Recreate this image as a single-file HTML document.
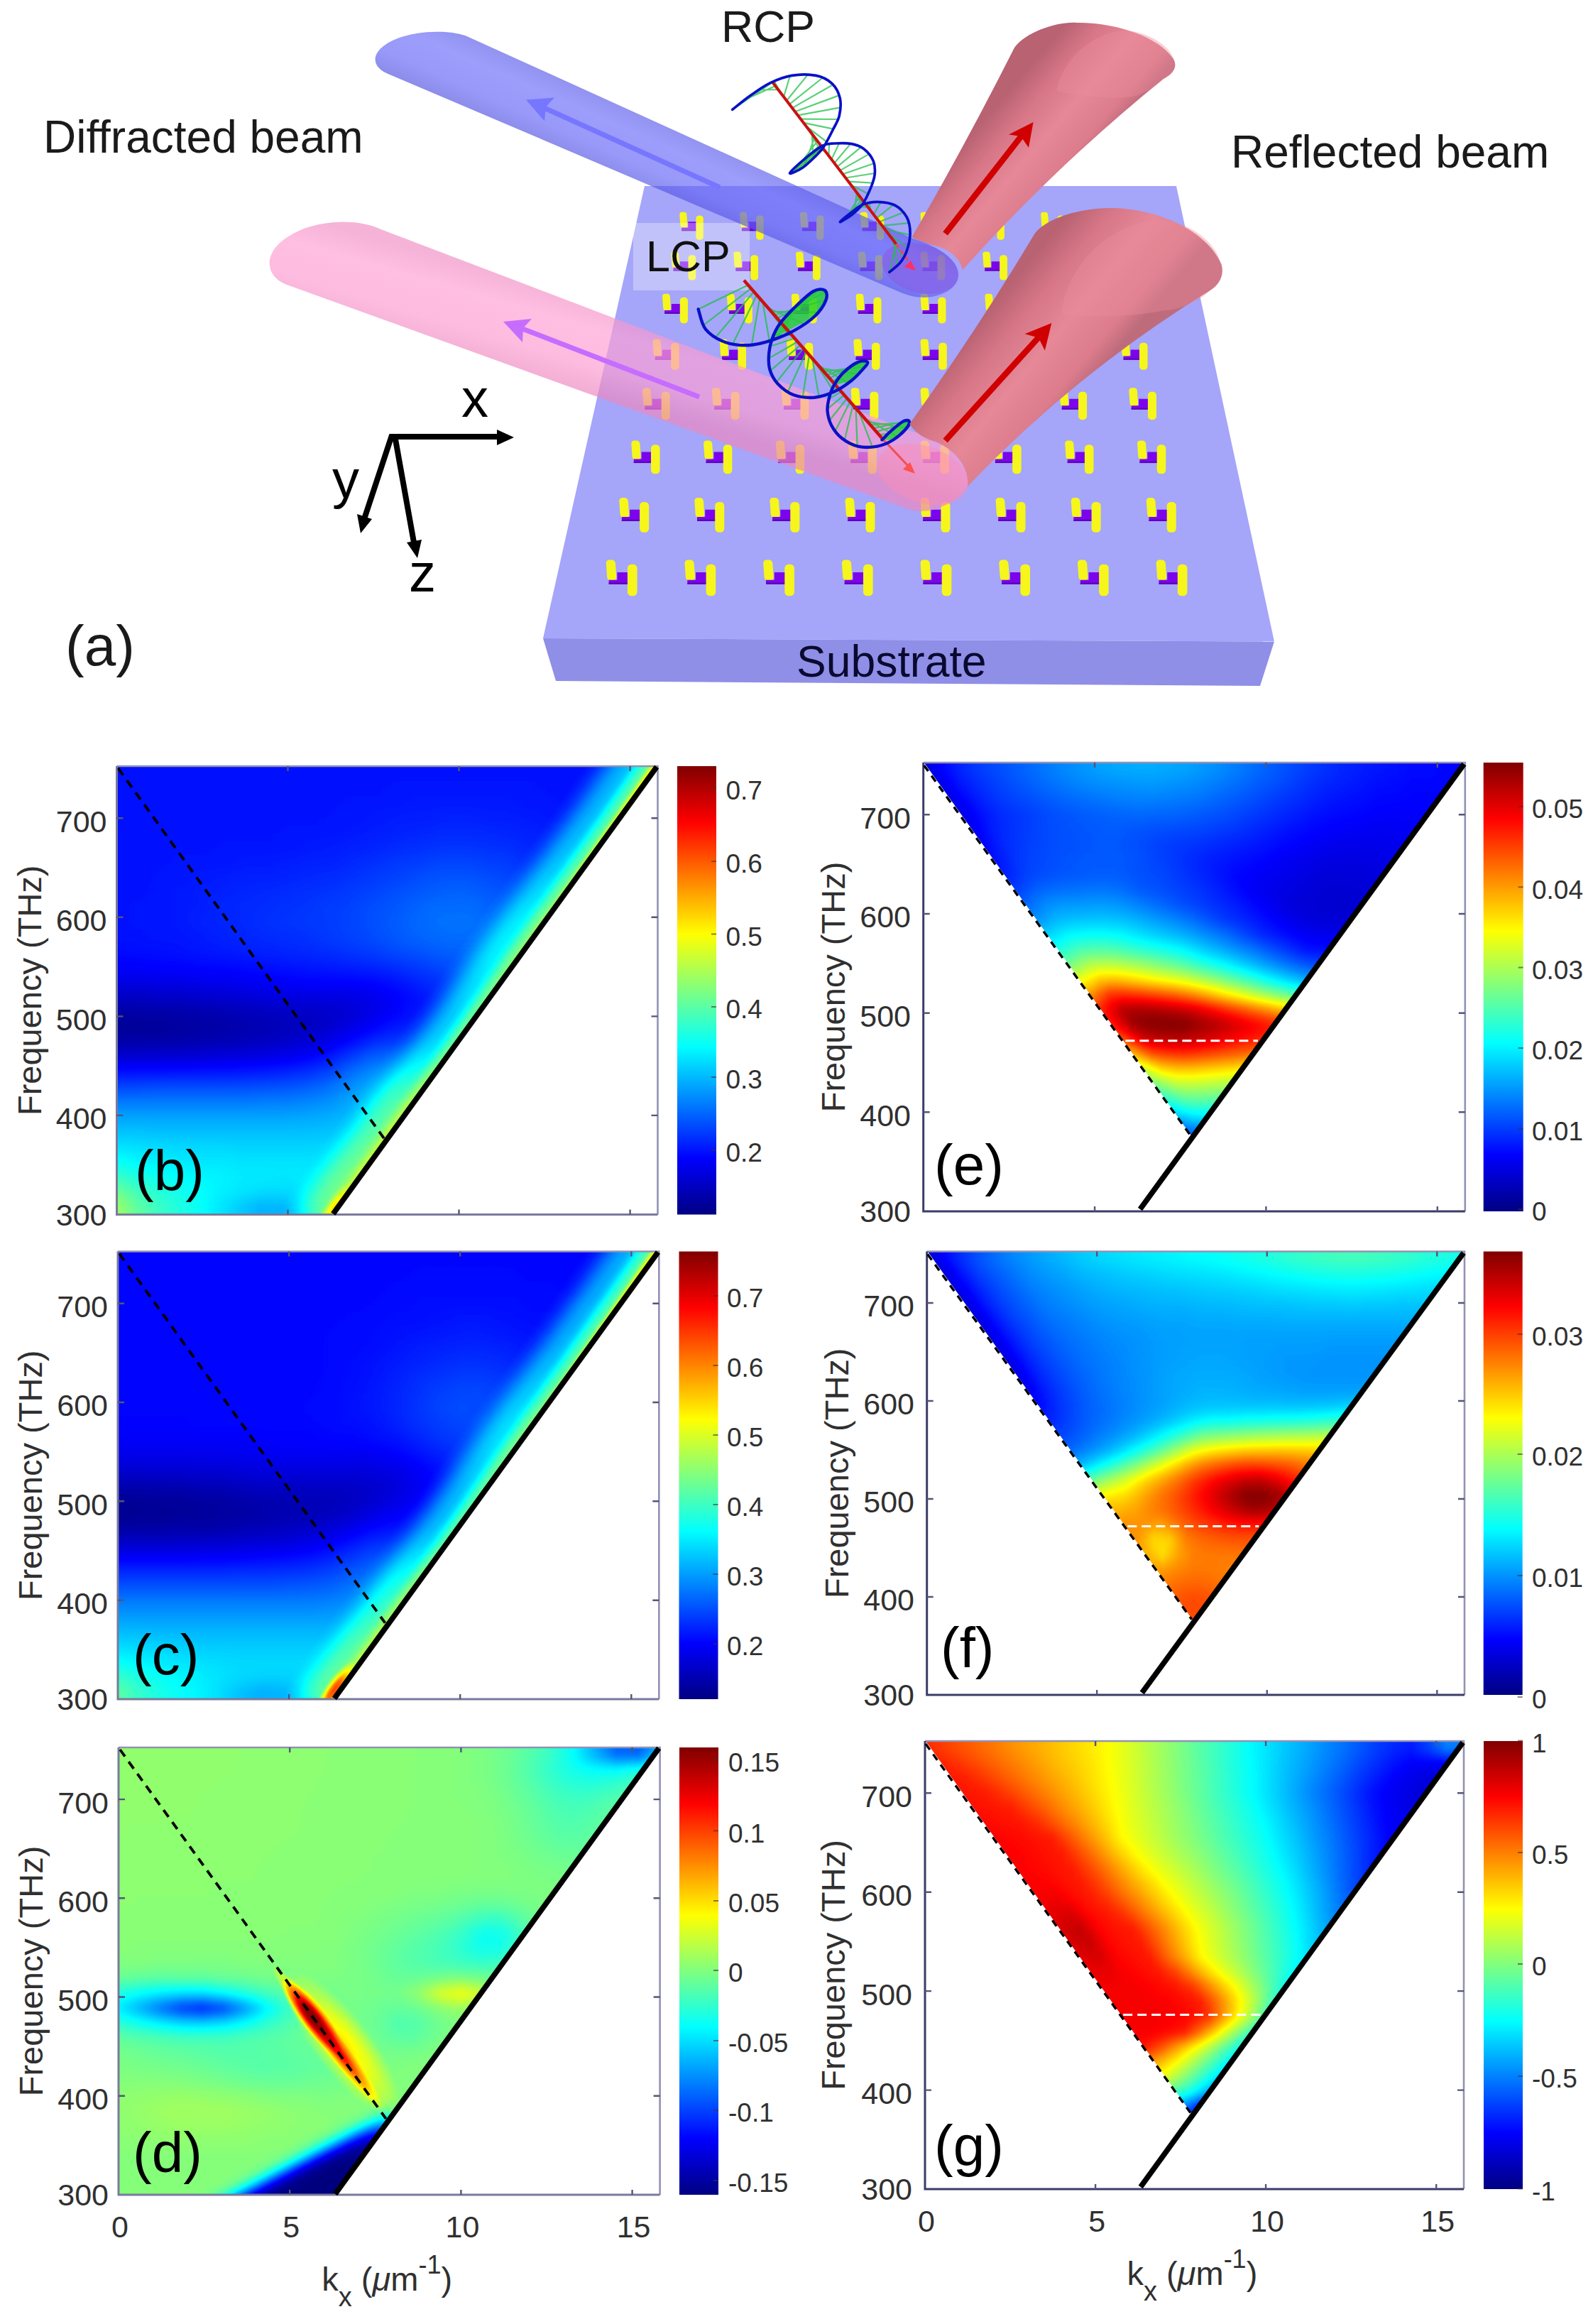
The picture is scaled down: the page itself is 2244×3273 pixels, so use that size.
<!DOCTYPE html>
<html><head><meta charset="utf-8"><title>Figure</title>
<style>html,body{margin:0;padding:0;background:#fff}svg{display:block}text{font-family:"Liberation Sans",sans-serif}</style>
</head><body>
<svg width="2244" height="3273" viewBox="0 0 2244 3273">
<defs>
<filter id="jet" x="0" y="0" width="1" height="1" color-interpolation-filters="sRGB"><feComponentTransfer><feFuncR type="table" tableValues="0 0 0 0 .5 1 1 1 .5"/><feFuncG type="table" tableValues="0 0 .5 1 1 1 .5 0 0"/><feFuncB type="table" tableValues=".5 1 1 1 .5 0 0 0 0"/></feComponentTransfer></filter>
<filter id="bv" x="0" y="0" width="1" height="1" color-interpolation-filters="sRGB"><feGaussianBlur stdDeviation="0 9"/></filter>
<filter id="b3" x="-0.1" y="-0.1" width="1.2" height="1.2" color-interpolation-filters="sRGB"><feGaussianBlur stdDeviation="3"/></filter>
<filter id="b7" x="-0.3" y="-0.3" width="1.6" height="1.6" color-interpolation-filters="sRGB"><feGaussianBlur stdDeviation="7"/></filter>
<filter id="b14" x="-0.3" y="-0.3" width="1.6" height="1.6" color-interpolation-filters="sRGB"><feGaussianBlur stdDeviation="14"/></filter>
<linearGradient id="cb" x1="0" y1="1" x2="0" y2="0"><stop offset="0" stop-color="#000083"/><stop offset=".125" stop-color="#0000ff"/><stop offset=".375" stop-color="#00ffff"/><stop offset=".625" stop-color="#ffff00"/><stop offset=".875" stop-color="#ff0000"/><stop offset="1" stop-color="#800000"/></linearGradient>
<radialGradient id="st1"><stop offset="0" stop-color="#fff"/><stop offset=".3" stop-color="#fff" stop-opacity=".85"/><stop offset=".6" stop-color="#fff" stop-opacity=".42"/><stop offset="1" stop-color="#fff" stop-opacity="0"/></radialGradient><radialGradient id="st2"><stop offset="0" stop-color="#fff" stop-opacity=".34"/><stop offset=".5" stop-color="#fff" stop-opacity=".2"/><stop offset="1" stop-color="#fff" stop-opacity="0"/></radialGradient>
<linearGradient id="wg" gradientUnits="userSpaceOnUse" x1="0" y1="2972.7" x2="0" y2="3091.0"><stop offset="0" stop-color="#000" stop-opacity=".3"/><stop offset=".3" stop-color="#000" stop-opacity=".9"/><stop offset=".55" stop-color="#000" stop-opacity="1"/></linearGradient><filter id="b16" x="-0.3" y="-0.3" width="1.6" height="1.6" color-interpolation-filters="sRGB"><feGaussianBlur stdDeviation="12"/></filter>
<linearGradient id="g1" gradientUnits="userSpaceOnUse" x1="164.5" x2="926.5"><stop offset="0" stop-color="#242424"/><stop offset="0.04" stop-color="#242424"/><stop offset="0.08" stop-color="#242424"/><stop offset="0.12" stop-color="#242424"/><stop offset="0.16" stop-color="#242424"/><stop offset="0.2" stop-color="#242424"/><stop offset="0.24" stop-color="#242424"/><stop offset="0.28" stop-color="#242424"/><stop offset="0.32" stop-color="#242424"/><stop offset="0.36" stop-color="#242424"/><stop offset="0.4" stop-color="#242424"/><stop offset="0.44" stop-color="#242424"/><stop offset="0.48" stop-color="#242424"/><stop offset="0.52" stop-color="#242424"/><stop offset="0.56" stop-color="#242424"/><stop offset="0.6" stop-color="#242424"/><stop offset="0.64" stop-color="#242424"/><stop offset="0.68" stop-color="#242424"/><stop offset="0.72" stop-color="#242424"/><stop offset="0.76" stop-color="#242424"/><stop offset="0.8" stop-color="#242424"/><stop offset="0.84" stop-color="#242424"/><stop offset="0.88" stop-color="#242424"/><stop offset="0.92" stop-color="#242424"/><stop offset="0.96" stop-color="#242424"/><stop offset="1" stop-color="#242424"/></linearGradient>
<linearGradient id="g2" gradientUnits="userSpaceOnUse" x1="164.5" x2="926.5"><stop offset="0" stop-color="#242424"/><stop offset="0.04" stop-color="#242424"/><stop offset="0.08" stop-color="#242424"/><stop offset="0.12" stop-color="#242424"/><stop offset="0.16" stop-color="#242424"/><stop offset="0.2" stop-color="#242424"/><stop offset="0.24" stop-color="#242424"/><stop offset="0.28" stop-color="#242424"/><stop offset="0.32" stop-color="#242424"/><stop offset="0.36" stop-color="#242424"/><stop offset="0.4" stop-color="#242424"/><stop offset="0.44" stop-color="#242424"/><stop offset="0.48" stop-color="#242424"/><stop offset="0.52" stop-color="#242424"/><stop offset="0.56" stop-color="#242424"/><stop offset="0.6" stop-color="#242424"/><stop offset="0.64" stop-color="#242424"/><stop offset="0.68" stop-color="#242424"/><stop offset="0.72" stop-color="#242424"/><stop offset="0.76" stop-color="#242424"/><stop offset="0.8" stop-color="#242424"/><stop offset="0.84" stop-color="#242424"/><stop offset="0.88" stop-color="#242424"/><stop offset="0.92" stop-color="#242424"/><stop offset="0.96" stop-color="#242424"/><stop offset="1" stop-color="#242424"/></linearGradient>
<linearGradient id="g3" gradientUnits="userSpaceOnUse" x1="164.5" x2="926.5"><stop offset="0" stop-color="#242424"/><stop offset="0.04" stop-color="#242424"/><stop offset="0.08" stop-color="#242424"/><stop offset="0.12" stop-color="#242424"/><stop offset="0.16" stop-color="#242424"/><stop offset="0.2" stop-color="#242424"/><stop offset="0.24" stop-color="#242424"/><stop offset="0.28" stop-color="#242424"/><stop offset="0.32" stop-color="#242424"/><stop offset="0.36" stop-color="#242424"/><stop offset="0.4" stop-color="#242424"/><stop offset="0.44" stop-color="#242424"/><stop offset="0.48" stop-color="#242424"/><stop offset="0.52" stop-color="#242424"/><stop offset="0.56" stop-color="#242424"/><stop offset="0.6" stop-color="#242424"/><stop offset="0.64" stop-color="#242424"/><stop offset="0.68" stop-color="#242424"/><stop offset="0.72" stop-color="#242424"/><stop offset="0.76" stop-color="#242424"/><stop offset="0.8" stop-color="#242424"/><stop offset="0.84" stop-color="#242424"/><stop offset="0.88" stop-color="#242424"/><stop offset="0.92" stop-color="#242424"/><stop offset="0.96" stop-color="#242424"/><stop offset="1" stop-color="#242424"/></linearGradient>
<linearGradient id="g4" gradientUnits="userSpaceOnUse" x1="164.5" x2="926.5"><stop offset="0" stop-color="#242424"/><stop offset="0.04" stop-color="#242424"/><stop offset="0.08" stop-color="#242424"/><stop offset="0.12" stop-color="#242424"/><stop offset="0.16" stop-color="#242424"/><stop offset="0.2" stop-color="#242424"/><stop offset="0.24" stop-color="#242424"/><stop offset="0.28" stop-color="#242424"/><stop offset="0.32" stop-color="#242424"/><stop offset="0.36" stop-color="#242424"/><stop offset="0.4" stop-color="#242424"/><stop offset="0.44" stop-color="#242424"/><stop offset="0.48" stop-color="#242424"/><stop offset="0.52" stop-color="#252525"/><stop offset="0.56" stop-color="#252525"/><stop offset="0.6" stop-color="#252525"/><stop offset="0.64" stop-color="#252525"/><stop offset="0.68" stop-color="#252525"/><stop offset="0.72" stop-color="#252525"/><stop offset="0.76" stop-color="#252525"/><stop offset="0.8" stop-color="#242424"/><stop offset="0.84" stop-color="#242424"/><stop offset="0.88" stop-color="#242424"/><stop offset="0.92" stop-color="#242424"/><stop offset="0.96" stop-color="#242424"/><stop offset="1" stop-color="#242424"/></linearGradient>
<linearGradient id="g5" gradientUnits="userSpaceOnUse" x1="164.5" x2="922.6"><stop offset="0" stop-color="#242424"/><stop offset="0.04" stop-color="#242424"/><stop offset="0.08" stop-color="#242424"/><stop offset="0.12" stop-color="#242424"/><stop offset="0.16" stop-color="#242424"/><stop offset="0.2" stop-color="#242424"/><stop offset="0.24" stop-color="#242424"/><stop offset="0.28" stop-color="#242424"/><stop offset="0.32" stop-color="#242424"/><stop offset="0.36" stop-color="#242424"/><stop offset="0.4" stop-color="#242424"/><stop offset="0.44" stop-color="#252525"/><stop offset="0.48" stop-color="#252525"/><stop offset="0.52" stop-color="#252525"/><stop offset="0.56" stop-color="#262626"/><stop offset="0.6" stop-color="#262626"/><stop offset="0.64" stop-color="#262626"/><stop offset="0.68" stop-color="#262626"/><stop offset="0.72" stop-color="#262626"/><stop offset="0.76" stop-color="#252525"/><stop offset="0.8" stop-color="#252525"/><stop offset="0.84" stop-color="#242424"/><stop offset="0.88" stop-color="#242424"/><stop offset="0.92" stop-color="#242424"/><stop offset="0.96" stop-color="#242424"/><stop offset="1" stop-color="#242424"/></linearGradient>
<linearGradient id="g6" gradientUnits="userSpaceOnUse" x1="164.5" x2="907.4"><stop offset="0" stop-color="#242424"/><stop offset="0.042" stop-color="#242424"/><stop offset="0.083" stop-color="#242424"/><stop offset="0.125" stop-color="#242424"/><stop offset="0.167" stop-color="#242424"/><stop offset="0.208" stop-color="#242424"/><stop offset="0.25" stop-color="#242424"/><stop offset="0.292" stop-color="#242424"/><stop offset="0.333" stop-color="#242424"/><stop offset="0.375" stop-color="#242424"/><stop offset="0.417" stop-color="#252525"/><stop offset="0.458" stop-color="#252525"/><stop offset="0.5" stop-color="#262626"/><stop offset="0.542" stop-color="#272727"/><stop offset="0.583" stop-color="#272727"/><stop offset="0.625" stop-color="#282828"/><stop offset="0.667" stop-color="#282828"/><stop offset="0.708" stop-color="#272727"/><stop offset="0.75" stop-color="#272727"/><stop offset="0.792" stop-color="#262626"/><stop offset="0.833" stop-color="#252525"/><stop offset="0.875" stop-color="#252525"/><stop offset="0.917" stop-color="#242424"/><stop offset="0.958" stop-color="#242424"/><stop offset="1" stop-color="#242424"/></linearGradient>
<linearGradient id="g7" gradientUnits="userSpaceOnUse" x1="164.5" x2="892.2"><stop offset="0" stop-color="#242424"/><stop offset="0.042" stop-color="#242424"/><stop offset="0.083" stop-color="#242424"/><stop offset="0.125" stop-color="#242424"/><stop offset="0.167" stop-color="#242424"/><stop offset="0.208" stop-color="#242424"/><stop offset="0.25" stop-color="#242424"/><stop offset="0.292" stop-color="#242424"/><stop offset="0.333" stop-color="#252525"/><stop offset="0.375" stop-color="#252525"/><stop offset="0.417" stop-color="#252525"/><stop offset="0.458" stop-color="#262626"/><stop offset="0.5" stop-color="#272727"/><stop offset="0.542" stop-color="#282828"/><stop offset="0.583" stop-color="#292929"/><stop offset="0.625" stop-color="#2a2a2a"/><stop offset="0.667" stop-color="#2a2a2a"/><stop offset="0.708" stop-color="#2a2a2a"/><stop offset="0.75" stop-color="#292929"/><stop offset="0.792" stop-color="#282828"/><stop offset="0.833" stop-color="#272727"/><stop offset="0.875" stop-color="#262626"/><stop offset="0.917" stop-color="#252525"/><stop offset="0.958" stop-color="#242424"/><stop offset="1" stop-color="#242424"/></linearGradient>
<linearGradient id="g8" gradientUnits="userSpaceOnUse" x1="164.5" x2="876.9"><stop offset="0" stop-color="#242424"/><stop offset="0.043" stop-color="#242424"/><stop offset="0.087" stop-color="#242424"/><stop offset="0.13" stop-color="#242424"/><stop offset="0.174" stop-color="#242424"/><stop offset="0.217" stop-color="#252525"/><stop offset="0.261" stop-color="#252525"/><stop offset="0.304" stop-color="#252525"/><stop offset="0.348" stop-color="#252525"/><stop offset="0.391" stop-color="#262626"/><stop offset="0.435" stop-color="#272727"/><stop offset="0.478" stop-color="#282828"/><stop offset="0.522" stop-color="#292929"/><stop offset="0.565" stop-color="#2b2b2b"/><stop offset="0.609" stop-color="#2c2c2c"/><stop offset="0.652" stop-color="#2d2d2d"/><stop offset="0.696" stop-color="#2d2d2d"/><stop offset="0.739" stop-color="#2c2c2c"/><stop offset="0.783" stop-color="#2b2b2b"/><stop offset="0.826" stop-color="#292929"/><stop offset="0.87" stop-color="#282828"/><stop offset="0.913" stop-color="#262626"/><stop offset="0.957" stop-color="#252525"/><stop offset="1" stop-color="#242424"/></linearGradient>
<linearGradient id="g9" gradientUnits="userSpaceOnUse" x1="164.5" x2="861.7"><stop offset="0" stop-color="#242424"/><stop offset="0.043" stop-color="#242424"/><stop offset="0.087" stop-color="#242424"/><stop offset="0.13" stop-color="#252525"/><stop offset="0.174" stop-color="#252525"/><stop offset="0.217" stop-color="#252525"/><stop offset="0.261" stop-color="#262626"/><stop offset="0.304" stop-color="#262626"/><stop offset="0.348" stop-color="#272727"/><stop offset="0.391" stop-color="#282828"/><stop offset="0.435" stop-color="#282828"/><stop offset="0.478" stop-color="#2a2a2a"/><stop offset="0.522" stop-color="#2c2c2c"/><stop offset="0.565" stop-color="#2e2e2e"/><stop offset="0.609" stop-color="#2f2f2f"/><stop offset="0.652" stop-color="#313131"/><stop offset="0.696" stop-color="#313131"/><stop offset="0.739" stop-color="#303030"/><stop offset="0.783" stop-color="#2f2f2f"/><stop offset="0.826" stop-color="#2c2c2c"/><stop offset="0.87" stop-color="#2a2a2a"/><stop offset="0.913" stop-color="#282828"/><stop offset="0.957" stop-color="#262626"/><stop offset="1" stop-color="#252525"/></linearGradient>
<linearGradient id="g10" gradientUnits="userSpaceOnUse" x1="164.5" x2="846.5"><stop offset="0" stop-color="#242424"/><stop offset="0.045" stop-color="#242424"/><stop offset="0.091" stop-color="#252525"/><stop offset="0.136" stop-color="#252525"/><stop offset="0.182" stop-color="#262626"/><stop offset="0.227" stop-color="#272727"/><stop offset="0.273" stop-color="#282828"/><stop offset="0.318" stop-color="#282828"/><stop offset="0.364" stop-color="#292929"/><stop offset="0.409" stop-color="#2a2a2a"/><stop offset="0.455" stop-color="#2b2b2b"/><stop offset="0.5" stop-color="#2d2d2d"/><stop offset="0.545" stop-color="#2f2f2f"/><stop offset="0.591" stop-color="#313131"/><stop offset="0.636" stop-color="#343434"/><stop offset="0.682" stop-color="#353535"/><stop offset="0.727" stop-color="#353535"/><stop offset="0.773" stop-color="#333333"/><stop offset="0.818" stop-color="#313131"/><stop offset="0.864" stop-color="#2e2e2e"/><stop offset="0.909" stop-color="#2b2b2b"/><stop offset="0.955" stop-color="#282828"/><stop offset="1" stop-color="#262626"/></linearGradient>
<linearGradient id="g11" gradientUnits="userSpaceOnUse" x1="164.5" x2="831.3"><stop offset="0" stop-color="#242424"/><stop offset="0.045" stop-color="#242424"/><stop offset="0.091" stop-color="#252525"/><stop offset="0.136" stop-color="#262626"/><stop offset="0.182" stop-color="#272727"/><stop offset="0.227" stop-color="#282828"/><stop offset="0.273" stop-color="#292929"/><stop offset="0.318" stop-color="#2a2a2a"/><stop offset="0.364" stop-color="#2b2b2b"/><stop offset="0.409" stop-color="#2c2c2c"/><stop offset="0.455" stop-color="#2d2d2d"/><stop offset="0.5" stop-color="#2f2f2f"/><stop offset="0.545" stop-color="#313131"/><stop offset="0.591" stop-color="#343434"/><stop offset="0.636" stop-color="#363636"/><stop offset="0.682" stop-color="#383838"/><stop offset="0.727" stop-color="#393939"/><stop offset="0.773" stop-color="#373737"/><stop offset="0.818" stop-color="#353535"/><stop offset="0.864" stop-color="#313131"/><stop offset="0.909" stop-color="#2e2e2e"/><stop offset="0.955" stop-color="#2a2a2a"/><stop offset="1" stop-color="#282828"/></linearGradient>
<linearGradient id="g12" gradientUnits="userSpaceOnUse" x1="164.5" x2="816.0"><stop offset="0" stop-color="#242424"/><stop offset="0.045" stop-color="#252525"/><stop offset="0.091" stop-color="#252525"/><stop offset="0.136" stop-color="#262626"/><stop offset="0.182" stop-color="#272727"/><stop offset="0.227" stop-color="#292929"/><stop offset="0.273" stop-color="#2a2a2a"/><stop offset="0.318" stop-color="#2b2b2b"/><stop offset="0.364" stop-color="#2c2c2c"/><stop offset="0.409" stop-color="#2d2d2d"/><stop offset="0.455" stop-color="#2f2f2f"/><stop offset="0.5" stop-color="#303030"/><stop offset="0.545" stop-color="#333333"/><stop offset="0.591" stop-color="#353535"/><stop offset="0.636" stop-color="#383838"/><stop offset="0.682" stop-color="#3b3b3b"/><stop offset="0.727" stop-color="#3b3b3b"/><stop offset="0.773" stop-color="#3b3b3b"/><stop offset="0.818" stop-color="#383838"/><stop offset="0.864" stop-color="#353535"/><stop offset="0.909" stop-color="#313131"/><stop offset="0.955" stop-color="#2d2d2d"/><stop offset="1" stop-color="#2a2a2a"/></linearGradient>
<linearGradient id="g13" gradientUnits="userSpaceOnUse" x1="164.5" x2="800.8"><stop offset="0" stop-color="#242424"/><stop offset="0.048" stop-color="#252525"/><stop offset="0.095" stop-color="#252525"/><stop offset="0.143" stop-color="#262626"/><stop offset="0.19" stop-color="#282828"/><stop offset="0.238" stop-color="#292929"/><stop offset="0.286" stop-color="#2a2a2a"/><stop offset="0.333" stop-color="#2c2c2c"/><stop offset="0.381" stop-color="#2d2d2d"/><stop offset="0.429" stop-color="#2e2e2e"/><stop offset="0.476" stop-color="#2f2f2f"/><stop offset="0.524" stop-color="#313131"/><stop offset="0.571" stop-color="#343434"/><stop offset="0.619" stop-color="#373737"/><stop offset="0.667" stop-color="#3a3a3a"/><stop offset="0.714" stop-color="#3c3c3c"/><stop offset="0.762" stop-color="#3d3d3d"/><stop offset="0.81" stop-color="#3b3b3b"/><stop offset="0.857" stop-color="#383838"/><stop offset="0.905" stop-color="#343434"/><stop offset="0.952" stop-color="#303030"/><stop offset="1" stop-color="#2c2c2c"/></linearGradient>
<linearGradient id="g14" gradientUnits="userSpaceOnUse" x1="164.5" x2="785.6"><stop offset="0" stop-color="#242424"/><stop offset="0.048" stop-color="#242424"/><stop offset="0.095" stop-color="#252525"/><stop offset="0.143" stop-color="#252525"/><stop offset="0.19" stop-color="#262626"/><stop offset="0.238" stop-color="#282828"/><stop offset="0.286" stop-color="#292929"/><stop offset="0.333" stop-color="#2a2a2a"/><stop offset="0.381" stop-color="#2b2b2b"/><stop offset="0.429" stop-color="#2c2c2c"/><stop offset="0.476" stop-color="#2e2e2e"/><stop offset="0.524" stop-color="#303030"/><stop offset="0.571" stop-color="#323232"/><stop offset="0.619" stop-color="#353535"/><stop offset="0.667" stop-color="#383838"/><stop offset="0.714" stop-color="#3a3a3a"/><stop offset="0.762" stop-color="#3b3b3b"/><stop offset="0.81" stop-color="#3b3b3b"/><stop offset="0.857" stop-color="#393939"/><stop offset="0.905" stop-color="#353535"/><stop offset="0.952" stop-color="#323232"/><stop offset="1" stop-color="#2e2e2e"/></linearGradient>
<linearGradient id="g15" gradientUnits="userSpaceOnUse" x1="164.5" x2="770.3"><stop offset="0" stop-color="#222222"/><stop offset="0.05" stop-color="#232323"/><stop offset="0.1" stop-color="#232323"/><stop offset="0.15" stop-color="#242424"/><stop offset="0.2" stop-color="#252525"/><stop offset="0.25" stop-color="#262626"/><stop offset="0.3" stop-color="#272727"/><stop offset="0.35" stop-color="#282828"/><stop offset="0.4" stop-color="#292929"/><stop offset="0.45" stop-color="#2a2a2a"/><stop offset="0.5" stop-color="#2b2b2b"/><stop offset="0.55" stop-color="#2d2d2d"/><stop offset="0.6" stop-color="#2f2f2f"/><stop offset="0.65" stop-color="#323232"/><stop offset="0.7" stop-color="#343434"/><stop offset="0.75" stop-color="#373737"/><stop offset="0.8" stop-color="#383838"/><stop offset="0.85" stop-color="#383838"/><stop offset="0.9" stop-color="#363636"/><stop offset="0.95" stop-color="#333333"/><stop offset="1" stop-color="#2f2f2f"/></linearGradient>
<linearGradient id="g16" gradientUnits="userSpaceOnUse" x1="164.5" x2="755.1"><stop offset="0" stop-color="#1f1f1f"/><stop offset="0.05" stop-color="#1f1f1f"/><stop offset="0.1" stop-color="#202020"/><stop offset="0.15" stop-color="#202020"/><stop offset="0.2" stop-color="#212121"/><stop offset="0.25" stop-color="#212121"/><stop offset="0.3" stop-color="#222222"/><stop offset="0.35" stop-color="#232323"/><stop offset="0.4" stop-color="#242424"/><stop offset="0.45" stop-color="#252525"/><stop offset="0.5" stop-color="#262626"/><stop offset="0.55" stop-color="#272727"/><stop offset="0.6" stop-color="#282828"/><stop offset="0.65" stop-color="#2a2a2a"/><stop offset="0.7" stop-color="#2d2d2d"/><stop offset="0.75" stop-color="#303030"/><stop offset="0.8" stop-color="#333333"/><stop offset="0.85" stop-color="#343434"/><stop offset="0.9" stop-color="#343434"/><stop offset="0.95" stop-color="#323232"/><stop offset="1" stop-color="#2f2f2f"/></linearGradient>
<linearGradient id="g17" gradientUnits="userSpaceOnUse" x1="164.5" x2="739.9"><stop offset="0" stop-color="#191919"/><stop offset="0.053" stop-color="#191919"/><stop offset="0.105" stop-color="#1a1a1a"/><stop offset="0.158" stop-color="#1a1a1a"/><stop offset="0.211" stop-color="#1b1b1b"/><stop offset="0.263" stop-color="#1c1c1c"/><stop offset="0.316" stop-color="#1d1d1d"/><stop offset="0.368" stop-color="#1e1e1e"/><stop offset="0.421" stop-color="#1f1f1f"/><stop offset="0.474" stop-color="#202020"/><stop offset="0.526" stop-color="#202020"/><stop offset="0.579" stop-color="#202020"/><stop offset="0.632" stop-color="#212121"/><stop offset="0.684" stop-color="#242424"/><stop offset="0.737" stop-color="#282828"/><stop offset="0.789" stop-color="#2c2c2c"/><stop offset="0.842" stop-color="#2f2f2f"/><stop offset="0.895" stop-color="#313131"/><stop offset="0.947" stop-color="#313131"/><stop offset="1" stop-color="#2f2f2f"/></linearGradient>
<linearGradient id="g18" gradientUnits="userSpaceOnUse" x1="164.5" x2="724.7"><stop offset="0" stop-color="#111111"/><stop offset="0.053" stop-color="#111111"/><stop offset="0.105" stop-color="#121212"/><stop offset="0.158" stop-color="#121212"/><stop offset="0.211" stop-color="#131313"/><stop offset="0.263" stop-color="#141414"/><stop offset="0.316" stop-color="#151515"/><stop offset="0.368" stop-color="#171717"/><stop offset="0.421" stop-color="#181818"/><stop offset="0.474" stop-color="#181818"/><stop offset="0.526" stop-color="#181818"/><stop offset="0.579" stop-color="#191919"/><stop offset="0.632" stop-color="#1a1a1a"/><stop offset="0.684" stop-color="#1e1e1e"/><stop offset="0.737" stop-color="#222222"/><stop offset="0.789" stop-color="#272727"/><stop offset="0.842" stop-color="#2c2c2c"/><stop offset="0.895" stop-color="#2f2f2f"/><stop offset="0.947" stop-color="#2f2f2f"/><stop offset="1" stop-color="#2e2e2e"/></linearGradient>
<linearGradient id="g19" gradientUnits="userSpaceOnUse" x1="164.5" x2="709.4"><stop offset="0" stop-color="#090909"/><stop offset="0.056" stop-color="#0a0a0a"/><stop offset="0.111" stop-color="#0a0a0a"/><stop offset="0.167" stop-color="#0b0b0b"/><stop offset="0.222" stop-color="#0c0c0c"/><stop offset="0.278" stop-color="#0d0d0d"/><stop offset="0.333" stop-color="#0f0f0f"/><stop offset="0.389" stop-color="#101010"/><stop offset="0.444" stop-color="#111111"/><stop offset="0.5" stop-color="#121212"/><stop offset="0.556" stop-color="#131313"/><stop offset="0.611" stop-color="#161616"/><stop offset="0.667" stop-color="#1b1b1b"/><stop offset="0.722" stop-color="#202020"/><stop offset="0.778" stop-color="#252525"/><stop offset="0.833" stop-color="#292929"/><stop offset="0.889" stop-color="#2c2c2c"/><stop offset="0.944" stop-color="#2e2e2e"/><stop offset="1" stop-color="#2e2e2e"/></linearGradient>
<linearGradient id="g20" gradientUnits="userSpaceOnUse" x1="164.5" x2="694.2"><stop offset="0" stop-color="#060606"/><stop offset="0.056" stop-color="#060606"/><stop offset="0.111" stop-color="#070707"/><stop offset="0.167" stop-color="#080808"/><stop offset="0.222" stop-color="#090909"/><stop offset="0.278" stop-color="#0a0a0a"/><stop offset="0.333" stop-color="#0c0c0c"/><stop offset="0.389" stop-color="#0d0d0d"/><stop offset="0.444" stop-color="#0f0f0f"/><stop offset="0.5" stop-color="#101010"/><stop offset="0.556" stop-color="#131313"/><stop offset="0.611" stop-color="#181818"/><stop offset="0.667" stop-color="#1e1e1e"/><stop offset="0.722" stop-color="#242424"/><stop offset="0.778" stop-color="#282828"/><stop offset="0.833" stop-color="#2a2a2a"/><stop offset="0.889" stop-color="#2c2c2c"/><stop offset="0.944" stop-color="#2d2d2d"/><stop offset="1" stop-color="#2d2d2d"/></linearGradient>
<linearGradient id="g21" gradientUnits="userSpaceOnUse" x1="164.5" x2="679.0"><stop offset="0" stop-color="#0a0a0a"/><stop offset="0.059" stop-color="#0b0b0b"/><stop offset="0.118" stop-color="#0b0b0b"/><stop offset="0.176" stop-color="#0c0c0c"/><stop offset="0.235" stop-color="#0d0d0d"/><stop offset="0.294" stop-color="#0e0e0e"/><stop offset="0.353" stop-color="#0f0f0f"/><stop offset="0.412" stop-color="#111111"/><stop offset="0.471" stop-color="#131313"/><stop offset="0.529" stop-color="#161616"/><stop offset="0.588" stop-color="#1c1c1c"/><stop offset="0.647" stop-color="#232323"/><stop offset="0.706" stop-color="#2b2b2b"/><stop offset="0.765" stop-color="#2f2f2f"/><stop offset="0.824" stop-color="#2f2f2f"/><stop offset="0.882" stop-color="#2e2e2e"/><stop offset="0.941" stop-color="#2e2e2e"/><stop offset="1" stop-color="#2e2e2e"/></linearGradient>
<linearGradient id="g22" gradientUnits="userSpaceOnUse" x1="164.5" x2="663.8"><stop offset="0" stop-color="#151515"/><stop offset="0.059" stop-color="#161616"/><stop offset="0.118" stop-color="#161616"/><stop offset="0.176" stop-color="#161616"/><stop offset="0.235" stop-color="#171717"/><stop offset="0.294" stop-color="#181818"/><stop offset="0.353" stop-color="#191919"/><stop offset="0.412" stop-color="#1a1a1a"/><stop offset="0.471" stop-color="#1c1c1c"/><stop offset="0.529" stop-color="#1f1f1f"/><stop offset="0.588" stop-color="#242424"/><stop offset="0.647" stop-color="#2d2d2d"/><stop offset="0.706" stop-color="#363636"/><stop offset="0.765" stop-color="#3b3b3b"/><stop offset="0.824" stop-color="#393939"/><stop offset="0.882" stop-color="#343434"/><stop offset="0.941" stop-color="#313131"/><stop offset="1" stop-color="#303030"/></linearGradient>
<linearGradient id="g23" gradientUnits="userSpaceOnUse" x1="164.5" x2="648.5"><stop offset="0" stop-color="#242424"/><stop offset="0.062" stop-color="#242424"/><stop offset="0.125" stop-color="#242424"/><stop offset="0.188" stop-color="#252525"/><stop offset="0.25" stop-color="#252525"/><stop offset="0.312" stop-color="#252525"/><stop offset="0.375" stop-color="#262626"/><stop offset="0.438" stop-color="#272727"/><stop offset="0.5" stop-color="#292929"/><stop offset="0.562" stop-color="#2c2c2c"/><stop offset="0.625" stop-color="#323232"/><stop offset="0.688" stop-color="#3c3c3c"/><stop offset="0.75" stop-color="#444444"/><stop offset="0.812" stop-color="#454545"/><stop offset="0.875" stop-color="#3f3f3f"/><stop offset="0.938" stop-color="#383838"/><stop offset="1" stop-color="#363636"/></linearGradient>
<linearGradient id="g24" gradientUnits="userSpaceOnUse" x1="164.5" x2="633.3"><stop offset="0" stop-color="#323232"/><stop offset="0.062" stop-color="#323232"/><stop offset="0.125" stop-color="#333333"/><stop offset="0.188" stop-color="#333333"/><stop offset="0.25" stop-color="#333333"/><stop offset="0.312" stop-color="#333333"/><stop offset="0.375" stop-color="#333333"/><stop offset="0.438" stop-color="#343434"/><stop offset="0.5" stop-color="#353535"/><stop offset="0.562" stop-color="#373737"/><stop offset="0.625" stop-color="#3b3b3b"/><stop offset="0.688" stop-color="#424242"/><stop offset="0.75" stop-color="#4a4a4a"/><stop offset="0.812" stop-color="#4e4e4e"/><stop offset="0.875" stop-color="#494949"/><stop offset="0.938" stop-color="#424242"/><stop offset="1" stop-color="#3d3d3d"/></linearGradient>
<linearGradient id="g25" gradientUnits="userSpaceOnUse" x1="164.5" x2="618.1"><stop offset="0" stop-color="#3f3f3f"/><stop offset="0.067" stop-color="#3f3f3f"/><stop offset="0.133" stop-color="#3f3f3f"/><stop offset="0.2" stop-color="#3f3f3f"/><stop offset="0.267" stop-color="#3f3f3f"/><stop offset="0.333" stop-color="#3f3f3f"/><stop offset="0.4" stop-color="#3f3f3f"/><stop offset="0.467" stop-color="#404040"/><stop offset="0.533" stop-color="#404040"/><stop offset="0.6" stop-color="#424242"/><stop offset="0.667" stop-color="#454545"/><stop offset="0.733" stop-color="#4b4b4b"/><stop offset="0.8" stop-color="#515151"/><stop offset="0.867" stop-color="#515151"/><stop offset="0.933" stop-color="#4b4b4b"/><stop offset="1" stop-color="#464646"/></linearGradient>
<linearGradient id="g26" gradientUnits="userSpaceOnUse" x1="164.5" x2="602.9"><stop offset="0" stop-color="#494949"/><stop offset="0.067" stop-color="#494949"/><stop offset="0.133" stop-color="#494949"/><stop offset="0.2" stop-color="#494949"/><stop offset="0.267" stop-color="#494949"/><stop offset="0.333" stop-color="#494949"/><stop offset="0.4" stop-color="#494949"/><stop offset="0.467" stop-color="#494949"/><stop offset="0.533" stop-color="#494949"/><stop offset="0.6" stop-color="#4a4a4a"/><stop offset="0.667" stop-color="#4b4b4b"/><stop offset="0.733" stop-color="#4e4e4e"/><stop offset="0.8" stop-color="#525252"/><stop offset="0.867" stop-color="#545454"/><stop offset="0.933" stop-color="#525252"/><stop offset="1" stop-color="#4e4e4e"/></linearGradient>
<linearGradient id="g27" gradientUnits="userSpaceOnUse" x1="164.5" x2="587.6"><stop offset="0" stop-color="#515151"/><stop offset="0.071" stop-color="#515151"/><stop offset="0.143" stop-color="#505050"/><stop offset="0.214" stop-color="#505050"/><stop offset="0.286" stop-color="#505050"/><stop offset="0.357" stop-color="#505050"/><stop offset="0.429" stop-color="#505050"/><stop offset="0.5" stop-color="#505050"/><stop offset="0.571" stop-color="#505050"/><stop offset="0.643" stop-color="#505050"/><stop offset="0.714" stop-color="#515151"/><stop offset="0.786" stop-color="#535353"/><stop offset="0.857" stop-color="#555555"/><stop offset="0.929" stop-color="#555555"/><stop offset="1" stop-color="#535353"/></linearGradient>
<linearGradient id="g28" gradientUnits="userSpaceOnUse" x1="164.5" x2="572.4"><stop offset="0" stop-color="#595959"/><stop offset="0.071" stop-color="#585858"/><stop offset="0.143" stop-color="#575757"/><stop offset="0.214" stop-color="#565656"/><stop offset="0.286" stop-color="#565656"/><stop offset="0.357" stop-color="#565656"/><stop offset="0.429" stop-color="#555555"/><stop offset="0.5" stop-color="#555555"/><stop offset="0.571" stop-color="#555555"/><stop offset="0.643" stop-color="#555555"/><stop offset="0.714" stop-color="#565656"/><stop offset="0.786" stop-color="#565656"/><stop offset="0.857" stop-color="#575757"/><stop offset="0.929" stop-color="#575757"/><stop offset="1" stop-color="#575757"/></linearGradient>
<linearGradient id="g29" gradientUnits="userSpaceOnUse" x1="164.5" x2="557.2"><stop offset="0" stop-color="#626262"/><stop offset="0.077" stop-color="#5e5e5e"/><stop offset="0.154" stop-color="#5c5c5c"/><stop offset="0.231" stop-color="#5b5b5b"/><stop offset="0.308" stop-color="#5a5a5a"/><stop offset="0.385" stop-color="#5a5a5a"/><stop offset="0.462" stop-color="#595959"/><stop offset="0.538" stop-color="#595959"/><stop offset="0.615" stop-color="#595959"/><stop offset="0.692" stop-color="#595959"/><stop offset="0.769" stop-color="#595959"/><stop offset="0.846" stop-color="#595959"/><stop offset="0.923" stop-color="#595959"/><stop offset="1" stop-color="#595959"/></linearGradient>
<linearGradient id="g30" gradientUnits="userSpaceOnUse" x1="164.5" x2="542.0"><stop offset="0" stop-color="#6e6e6e"/><stop offset="0.077" stop-color="#676767"/><stop offset="0.154" stop-color="#636363"/><stop offset="0.231" stop-color="#606060"/><stop offset="0.308" stop-color="#5e5e5e"/><stop offset="0.385" stop-color="#5d5d5d"/><stop offset="0.462" stop-color="#5b5b5b"/><stop offset="0.538" stop-color="#5b5b5b"/><stop offset="0.615" stop-color="#5a5a5a"/><stop offset="0.692" stop-color="#5b5b5b"/><stop offset="0.769" stop-color="#5b5b5b"/><stop offset="0.846" stop-color="#5b5b5b"/><stop offset="0.923" stop-color="#5b5b5b"/><stop offset="1" stop-color="#5b5b5b"/></linearGradient>
<linearGradient id="g31" gradientUnits="userSpaceOnUse" x1="164.5" x2="526.7"><stop offset="0" stop-color="#7c7c7c"/><stop offset="0.083" stop-color="#707070"/><stop offset="0.167" stop-color="#696969"/><stop offset="0.25" stop-color="#646464"/><stop offset="0.333" stop-color="#606060"/><stop offset="0.417" stop-color="#5c5c5c"/><stop offset="0.5" stop-color="#595959"/><stop offset="0.583" stop-color="#575757"/><stop offset="0.667" stop-color="#575757"/><stop offset="0.75" stop-color="#595959"/><stop offset="0.833" stop-color="#5b5b5b"/><stop offset="0.917" stop-color="#5c5c5c"/><stop offset="1" stop-color="#5c5c5c"/></linearGradient>
<linearGradient id="g32" gradientUnits="userSpaceOnUse" x1="164.5" x2="511.5"><stop offset="0" stop-color="#878787"/><stop offset="0.083" stop-color="#787878"/><stop offset="0.167" stop-color="#6f6f6f"/><stop offset="0.25" stop-color="#686868"/><stop offset="0.333" stop-color="#626262"/><stop offset="0.417" stop-color="#5a5a5a"/><stop offset="0.5" stop-color="#535353"/><stop offset="0.583" stop-color="#4d4d4d"/><stop offset="0.667" stop-color="#4d4d4d"/><stop offset="0.75" stop-color="#525252"/><stop offset="0.833" stop-color="#585858"/><stop offset="0.917" stop-color="#5b5b5b"/><stop offset="1" stop-color="#5d5d5d"/></linearGradient>
<linearGradient id="g33" gradientUnits="userSpaceOnUse" x1="164.5" x2="511.5"><stop offset="0" stop-color="#878787"/><stop offset="0.083" stop-color="#787878"/><stop offset="0.167" stop-color="#6f6f6f"/><stop offset="0.25" stop-color="#686868"/><stop offset="0.333" stop-color="#626262"/><stop offset="0.417" stop-color="#5a5a5a"/><stop offset="0.5" stop-color="#535353"/><stop offset="0.583" stop-color="#4d4d4d"/><stop offset="0.667" stop-color="#4d4d4d"/><stop offset="0.75" stop-color="#525252"/><stop offset="0.833" stop-color="#585858"/><stop offset="0.917" stop-color="#5b5b5b"/><stop offset="1" stop-color="#5d5d5d"/></linearGradient>
<linearGradient id="g34" gradientUnits="userSpaceOnUse" x1="164.5" x2="511.5"><stop offset="0" stop-color="#878787"/><stop offset="0.083" stop-color="#787878"/><stop offset="0.167" stop-color="#6f6f6f"/><stop offset="0.25" stop-color="#686868"/><stop offset="0.333" stop-color="#626262"/><stop offset="0.417" stop-color="#5a5a5a"/><stop offset="0.5" stop-color="#535353"/><stop offset="0.583" stop-color="#4d4d4d"/><stop offset="0.667" stop-color="#4d4d4d"/><stop offset="0.75" stop-color="#525252"/><stop offset="0.833" stop-color="#585858"/><stop offset="0.917" stop-color="#5b5b5b"/><stop offset="1" stop-color="#5d5d5d"/></linearGradient>
<clipPath id="cpb"><polygon points="164.5,1079.0 924.1,1079.0 467.3,1710.5 164.5,1710.5"/></clipPath>
<linearGradient id="g35" gradientUnits="userSpaceOnUse" x1="166.0" x2="928.3"><stop offset="0" stop-color="#212121"/><stop offset="0.04" stop-color="#212121"/><stop offset="0.08" stop-color="#212121"/><stop offset="0.12" stop-color="#212121"/><stop offset="0.16" stop-color="#212121"/><stop offset="0.2" stop-color="#212121"/><stop offset="0.24" stop-color="#212121"/><stop offset="0.28" stop-color="#212121"/><stop offset="0.32" stop-color="#212121"/><stop offset="0.36" stop-color="#212121"/><stop offset="0.4" stop-color="#212121"/><stop offset="0.44" stop-color="#212121"/><stop offset="0.48" stop-color="#212121"/><stop offset="0.52" stop-color="#212121"/><stop offset="0.56" stop-color="#212121"/><stop offset="0.6" stop-color="#212121"/><stop offset="0.64" stop-color="#212121"/><stop offset="0.68" stop-color="#212121"/><stop offset="0.72" stop-color="#212121"/><stop offset="0.76" stop-color="#212121"/><stop offset="0.8" stop-color="#212121"/><stop offset="0.84" stop-color="#212121"/><stop offset="0.88" stop-color="#212121"/><stop offset="0.92" stop-color="#212121"/><stop offset="0.96" stop-color="#212121"/><stop offset="1" stop-color="#212121"/></linearGradient>
<linearGradient id="g36" gradientUnits="userSpaceOnUse" x1="166.0" x2="928.3"><stop offset="0" stop-color="#212121"/><stop offset="0.04" stop-color="#212121"/><stop offset="0.08" stop-color="#212121"/><stop offset="0.12" stop-color="#212121"/><stop offset="0.16" stop-color="#212121"/><stop offset="0.2" stop-color="#212121"/><stop offset="0.24" stop-color="#212121"/><stop offset="0.28" stop-color="#212121"/><stop offset="0.32" stop-color="#212121"/><stop offset="0.36" stop-color="#212121"/><stop offset="0.4" stop-color="#212121"/><stop offset="0.44" stop-color="#212121"/><stop offset="0.48" stop-color="#212121"/><stop offset="0.52" stop-color="#212121"/><stop offset="0.56" stop-color="#212121"/><stop offset="0.6" stop-color="#212121"/><stop offset="0.64" stop-color="#212121"/><stop offset="0.68" stop-color="#212121"/><stop offset="0.72" stop-color="#212121"/><stop offset="0.76" stop-color="#212121"/><stop offset="0.8" stop-color="#212121"/><stop offset="0.84" stop-color="#212121"/><stop offset="0.88" stop-color="#212121"/><stop offset="0.92" stop-color="#212121"/><stop offset="0.96" stop-color="#212121"/><stop offset="1" stop-color="#212121"/></linearGradient>
<linearGradient id="g37" gradientUnits="userSpaceOnUse" x1="166.0" x2="928.3"><stop offset="0" stop-color="#212121"/><stop offset="0.04" stop-color="#212121"/><stop offset="0.08" stop-color="#212121"/><stop offset="0.12" stop-color="#212121"/><stop offset="0.16" stop-color="#212121"/><stop offset="0.2" stop-color="#212121"/><stop offset="0.24" stop-color="#212121"/><stop offset="0.28" stop-color="#212121"/><stop offset="0.32" stop-color="#212121"/><stop offset="0.36" stop-color="#212121"/><stop offset="0.4" stop-color="#212121"/><stop offset="0.44" stop-color="#212121"/><stop offset="0.48" stop-color="#212121"/><stop offset="0.52" stop-color="#212121"/><stop offset="0.56" stop-color="#212121"/><stop offset="0.6" stop-color="#212121"/><stop offset="0.64" stop-color="#212121"/><stop offset="0.68" stop-color="#212121"/><stop offset="0.72" stop-color="#212121"/><stop offset="0.76" stop-color="#212121"/><stop offset="0.8" stop-color="#212121"/><stop offset="0.84" stop-color="#212121"/><stop offset="0.88" stop-color="#212121"/><stop offset="0.92" stop-color="#212121"/><stop offset="0.96" stop-color="#212121"/><stop offset="1" stop-color="#212121"/></linearGradient>
<linearGradient id="g38" gradientUnits="userSpaceOnUse" x1="166.0" x2="928.3"><stop offset="0" stop-color="#212121"/><stop offset="0.04" stop-color="#212121"/><stop offset="0.08" stop-color="#212121"/><stop offset="0.12" stop-color="#212121"/><stop offset="0.16" stop-color="#212121"/><stop offset="0.2" stop-color="#212121"/><stop offset="0.24" stop-color="#212121"/><stop offset="0.28" stop-color="#212121"/><stop offset="0.32" stop-color="#212121"/><stop offset="0.36" stop-color="#212121"/><stop offset="0.4" stop-color="#212121"/><stop offset="0.44" stop-color="#212121"/><stop offset="0.48" stop-color="#212121"/><stop offset="0.52" stop-color="#212121"/><stop offset="0.56" stop-color="#222222"/><stop offset="0.6" stop-color="#222222"/><stop offset="0.64" stop-color="#222222"/><stop offset="0.68" stop-color="#222222"/><stop offset="0.72" stop-color="#222222"/><stop offset="0.76" stop-color="#212121"/><stop offset="0.8" stop-color="#212121"/><stop offset="0.84" stop-color="#212121"/><stop offset="0.88" stop-color="#212121"/><stop offset="0.92" stop-color="#212121"/><stop offset="0.96" stop-color="#212121"/><stop offset="1" stop-color="#212121"/></linearGradient>
<linearGradient id="g39" gradientUnits="userSpaceOnUse" x1="166.0" x2="924.4"><stop offset="0" stop-color="#212121"/><stop offset="0.04" stop-color="#212121"/><stop offset="0.08" stop-color="#212121"/><stop offset="0.12" stop-color="#212121"/><stop offset="0.16" stop-color="#212121"/><stop offset="0.2" stop-color="#212121"/><stop offset="0.24" stop-color="#212121"/><stop offset="0.28" stop-color="#212121"/><stop offset="0.32" stop-color="#212121"/><stop offset="0.36" stop-color="#212121"/><stop offset="0.4" stop-color="#212121"/><stop offset="0.44" stop-color="#212121"/><stop offset="0.48" stop-color="#212121"/><stop offset="0.52" stop-color="#222222"/><stop offset="0.56" stop-color="#222222"/><stop offset="0.6" stop-color="#222222"/><stop offset="0.64" stop-color="#222222"/><stop offset="0.68" stop-color="#222222"/><stop offset="0.72" stop-color="#222222"/><stop offset="0.76" stop-color="#222222"/><stop offset="0.8" stop-color="#222222"/><stop offset="0.84" stop-color="#212121"/><stop offset="0.88" stop-color="#212121"/><stop offset="0.92" stop-color="#212121"/><stop offset="0.96" stop-color="#212121"/><stop offset="1" stop-color="#212121"/></linearGradient>
<linearGradient id="g40" gradientUnits="userSpaceOnUse" x1="166.0" x2="909.2"><stop offset="0" stop-color="#212121"/><stop offset="0.042" stop-color="#212121"/><stop offset="0.083" stop-color="#212121"/><stop offset="0.125" stop-color="#212121"/><stop offset="0.167" stop-color="#212121"/><stop offset="0.208" stop-color="#212121"/><stop offset="0.25" stop-color="#212121"/><stop offset="0.292" stop-color="#212121"/><stop offset="0.333" stop-color="#212121"/><stop offset="0.375" stop-color="#212121"/><stop offset="0.417" stop-color="#212121"/><stop offset="0.458" stop-color="#212121"/><stop offset="0.5" stop-color="#222222"/><stop offset="0.542" stop-color="#222222"/><stop offset="0.583" stop-color="#232323"/><stop offset="0.625" stop-color="#232323"/><stop offset="0.667" stop-color="#232323"/><stop offset="0.708" stop-color="#232323"/><stop offset="0.75" stop-color="#232323"/><stop offset="0.792" stop-color="#222222"/><stop offset="0.833" stop-color="#222222"/><stop offset="0.875" stop-color="#222222"/><stop offset="0.917" stop-color="#212121"/><stop offset="0.958" stop-color="#212121"/><stop offset="1" stop-color="#212121"/></linearGradient>
<linearGradient id="g41" gradientUnits="userSpaceOnUse" x1="166.0" x2="893.9"><stop offset="0" stop-color="#212121"/><stop offset="0.042" stop-color="#212121"/><stop offset="0.083" stop-color="#212121"/><stop offset="0.125" stop-color="#212121"/><stop offset="0.167" stop-color="#212121"/><stop offset="0.208" stop-color="#212121"/><stop offset="0.25" stop-color="#212121"/><stop offset="0.292" stop-color="#212121"/><stop offset="0.333" stop-color="#212121"/><stop offset="0.375" stop-color="#212121"/><stop offset="0.417" stop-color="#212121"/><stop offset="0.458" stop-color="#222222"/><stop offset="0.5" stop-color="#222222"/><stop offset="0.542" stop-color="#232323"/><stop offset="0.583" stop-color="#232323"/><stop offset="0.625" stop-color="#242424"/><stop offset="0.667" stop-color="#252525"/><stop offset="0.708" stop-color="#252525"/><stop offset="0.75" stop-color="#242424"/><stop offset="0.792" stop-color="#232323"/><stop offset="0.833" stop-color="#232323"/><stop offset="0.875" stop-color="#222222"/><stop offset="0.917" stop-color="#222222"/><stop offset="0.958" stop-color="#212121"/><stop offset="1" stop-color="#212121"/></linearGradient>
<linearGradient id="g42" gradientUnits="userSpaceOnUse" x1="166.0" x2="878.7"><stop offset="0" stop-color="#212121"/><stop offset="0.043" stop-color="#212121"/><stop offset="0.087" stop-color="#212121"/><stop offset="0.13" stop-color="#212121"/><stop offset="0.174" stop-color="#212121"/><stop offset="0.217" stop-color="#212121"/><stop offset="0.261" stop-color="#212121"/><stop offset="0.304" stop-color="#212121"/><stop offset="0.348" stop-color="#212121"/><stop offset="0.391" stop-color="#212121"/><stop offset="0.435" stop-color="#222222"/><stop offset="0.478" stop-color="#222222"/><stop offset="0.522" stop-color="#232323"/><stop offset="0.565" stop-color="#242424"/><stop offset="0.609" stop-color="#252525"/><stop offset="0.652" stop-color="#262626"/><stop offset="0.696" stop-color="#272727"/><stop offset="0.739" stop-color="#262626"/><stop offset="0.783" stop-color="#252525"/><stop offset="0.826" stop-color="#242424"/><stop offset="0.87" stop-color="#232323"/><stop offset="0.913" stop-color="#222222"/><stop offset="0.957" stop-color="#222222"/><stop offset="1" stop-color="#212121"/></linearGradient>
<linearGradient id="g43" gradientUnits="userSpaceOnUse" x1="166.0" x2="863.5"><stop offset="0" stop-color="#212121"/><stop offset="0.043" stop-color="#212121"/><stop offset="0.087" stop-color="#212121"/><stop offset="0.13" stop-color="#212121"/><stop offset="0.174" stop-color="#212121"/><stop offset="0.217" stop-color="#212121"/><stop offset="0.261" stop-color="#212121"/><stop offset="0.304" stop-color="#212121"/><stop offset="0.348" stop-color="#212121"/><stop offset="0.391" stop-color="#212121"/><stop offset="0.435" stop-color="#222222"/><stop offset="0.478" stop-color="#222222"/><stop offset="0.522" stop-color="#232323"/><stop offset="0.565" stop-color="#252525"/><stop offset="0.609" stop-color="#272727"/><stop offset="0.652" stop-color="#282828"/><stop offset="0.696" stop-color="#292929"/><stop offset="0.739" stop-color="#292929"/><stop offset="0.783" stop-color="#282828"/><stop offset="0.826" stop-color="#262626"/><stop offset="0.87" stop-color="#242424"/><stop offset="0.913" stop-color="#232323"/><stop offset="0.957" stop-color="#222222"/><stop offset="1" stop-color="#222222"/></linearGradient>
<linearGradient id="g44" gradientUnits="userSpaceOnUse" x1="166.0" x2="848.3"><stop offset="0" stop-color="#212121"/><stop offset="0.045" stop-color="#212121"/><stop offset="0.091" stop-color="#212121"/><stop offset="0.136" stop-color="#212121"/><stop offset="0.182" stop-color="#212121"/><stop offset="0.227" stop-color="#212121"/><stop offset="0.273" stop-color="#212121"/><stop offset="0.318" stop-color="#212121"/><stop offset="0.364" stop-color="#212121"/><stop offset="0.409" stop-color="#212121"/><stop offset="0.455" stop-color="#222222"/><stop offset="0.5" stop-color="#232323"/><stop offset="0.545" stop-color="#252525"/><stop offset="0.591" stop-color="#272727"/><stop offset="0.636" stop-color="#292929"/><stop offset="0.682" stop-color="#2b2b2b"/><stop offset="0.727" stop-color="#2c2c2c"/><stop offset="0.773" stop-color="#2b2b2b"/><stop offset="0.818" stop-color="#292929"/><stop offset="0.864" stop-color="#272727"/><stop offset="0.909" stop-color="#252525"/><stop offset="0.955" stop-color="#232323"/><stop offset="1" stop-color="#222222"/></linearGradient>
<linearGradient id="g45" gradientUnits="userSpaceOnUse" x1="166.0" x2="833.0"><stop offset="0" stop-color="#212121"/><stop offset="0.045" stop-color="#212121"/><stop offset="0.091" stop-color="#212121"/><stop offset="0.136" stop-color="#212121"/><stop offset="0.182" stop-color="#212121"/><stop offset="0.227" stop-color="#212121"/><stop offset="0.273" stop-color="#212121"/><stop offset="0.318" stop-color="#212121"/><stop offset="0.364" stop-color="#212121"/><stop offset="0.409" stop-color="#212121"/><stop offset="0.455" stop-color="#222222"/><stop offset="0.5" stop-color="#232323"/><stop offset="0.545" stop-color="#252525"/><stop offset="0.591" stop-color="#282828"/><stop offset="0.636" stop-color="#2b2b2b"/><stop offset="0.682" stop-color="#2d2d2d"/><stop offset="0.727" stop-color="#2f2f2f"/><stop offset="0.773" stop-color="#2f2f2f"/><stop offset="0.818" stop-color="#2d2d2d"/><stop offset="0.864" stop-color="#2a2a2a"/><stop offset="0.909" stop-color="#272727"/><stop offset="0.955" stop-color="#242424"/><stop offset="1" stop-color="#232323"/></linearGradient>
<linearGradient id="g46" gradientUnits="userSpaceOnUse" x1="166.0" x2="817.8"><stop offset="0" stop-color="#212121"/><stop offset="0.045" stop-color="#212121"/><stop offset="0.091" stop-color="#212121"/><stop offset="0.136" stop-color="#212121"/><stop offset="0.182" stop-color="#212121"/><stop offset="0.227" stop-color="#212121"/><stop offset="0.273" stop-color="#212121"/><stop offset="0.318" stop-color="#212121"/><stop offset="0.364" stop-color="#212121"/><stop offset="0.409" stop-color="#212121"/><stop offset="0.455" stop-color="#222222"/><stop offset="0.5" stop-color="#232323"/><stop offset="0.545" stop-color="#252525"/><stop offset="0.591" stop-color="#282828"/><stop offset="0.636" stop-color="#2b2b2b"/><stop offset="0.682" stop-color="#2f2f2f"/><stop offset="0.727" stop-color="#313131"/><stop offset="0.773" stop-color="#323232"/><stop offset="0.818" stop-color="#303030"/><stop offset="0.864" stop-color="#2d2d2d"/><stop offset="0.909" stop-color="#292929"/><stop offset="0.955" stop-color="#262626"/><stop offset="1" stop-color="#242424"/></linearGradient>
<linearGradient id="g47" gradientUnits="userSpaceOnUse" x1="166.0" x2="802.6"><stop offset="0" stop-color="#212121"/><stop offset="0.048" stop-color="#212121"/><stop offset="0.095" stop-color="#212121"/><stop offset="0.143" stop-color="#212121"/><stop offset="0.19" stop-color="#212121"/><stop offset="0.238" stop-color="#212121"/><stop offset="0.286" stop-color="#212121"/><stop offset="0.333" stop-color="#212121"/><stop offset="0.381" stop-color="#212121"/><stop offset="0.429" stop-color="#222222"/><stop offset="0.476" stop-color="#222222"/><stop offset="0.524" stop-color="#242424"/><stop offset="0.571" stop-color="#262626"/><stop offset="0.619" stop-color="#292929"/><stop offset="0.667" stop-color="#2d2d2d"/><stop offset="0.714" stop-color="#313131"/><stop offset="0.762" stop-color="#333333"/><stop offset="0.81" stop-color="#323232"/><stop offset="0.857" stop-color="#303030"/><stop offset="0.905" stop-color="#2c2c2c"/><stop offset="0.952" stop-color="#282828"/><stop offset="1" stop-color="#252525"/></linearGradient>
<linearGradient id="g48" gradientUnits="userSpaceOnUse" x1="166.0" x2="787.3"><stop offset="0" stop-color="#202020"/><stop offset="0.048" stop-color="#202020"/><stop offset="0.095" stop-color="#202020"/><stop offset="0.143" stop-color="#202020"/><stop offset="0.19" stop-color="#212121"/><stop offset="0.238" stop-color="#212121"/><stop offset="0.286" stop-color="#212121"/><stop offset="0.333" stop-color="#212121"/><stop offset="0.381" stop-color="#212121"/><stop offset="0.429" stop-color="#212121"/><stop offset="0.476" stop-color="#222222"/><stop offset="0.524" stop-color="#232323"/><stop offset="0.571" stop-color="#242424"/><stop offset="0.619" stop-color="#272727"/><stop offset="0.667" stop-color="#2b2b2b"/><stop offset="0.714" stop-color="#2e2e2e"/><stop offset="0.762" stop-color="#313131"/><stop offset="0.81" stop-color="#323232"/><stop offset="0.857" stop-color="#313131"/><stop offset="0.905" stop-color="#2e2e2e"/><stop offset="0.952" stop-color="#2a2a2a"/><stop offset="1" stop-color="#272727"/></linearGradient>
<linearGradient id="g49" gradientUnits="userSpaceOnUse" x1="166.0" x2="772.1"><stop offset="0" stop-color="#1f1f1f"/><stop offset="0.05" stop-color="#1f1f1f"/><stop offset="0.1" stop-color="#1f1f1f"/><stop offset="0.15" stop-color="#1f1f1f"/><stop offset="0.2" stop-color="#1f1f1f"/><stop offset="0.25" stop-color="#1f1f1f"/><stop offset="0.3" stop-color="#1f1f1f"/><stop offset="0.35" stop-color="#202020"/><stop offset="0.4" stop-color="#202020"/><stop offset="0.45" stop-color="#202020"/><stop offset="0.5" stop-color="#212121"/><stop offset="0.55" stop-color="#212121"/><stop offset="0.6" stop-color="#232323"/><stop offset="0.65" stop-color="#252525"/><stop offset="0.7" stop-color="#292929"/><stop offset="0.75" stop-color="#2d2d2d"/><stop offset="0.8" stop-color="#2f2f2f"/><stop offset="0.85" stop-color="#303030"/><stop offset="0.9" stop-color="#2f2f2f"/><stop offset="0.95" stop-color="#2c2c2c"/><stop offset="1" stop-color="#282828"/></linearGradient>
<linearGradient id="g50" gradientUnits="userSpaceOnUse" x1="166.0" x2="756.9"><stop offset="0" stop-color="#1b1b1b"/><stop offset="0.05" stop-color="#1c1c1c"/><stop offset="0.1" stop-color="#1c1c1c"/><stop offset="0.15" stop-color="#1c1c1c"/><stop offset="0.2" stop-color="#1c1c1c"/><stop offset="0.25" stop-color="#1c1c1c"/><stop offset="0.3" stop-color="#1d1d1d"/><stop offset="0.35" stop-color="#1d1d1d"/><stop offset="0.4" stop-color="#1e1e1e"/><stop offset="0.45" stop-color="#1e1e1e"/><stop offset="0.5" stop-color="#1e1e1e"/><stop offset="0.55" stop-color="#1e1e1e"/><stop offset="0.6" stop-color="#1e1e1e"/><stop offset="0.65" stop-color="#202020"/><stop offset="0.7" stop-color="#232323"/><stop offset="0.75" stop-color="#272727"/><stop offset="0.8" stop-color="#2b2b2b"/><stop offset="0.85" stop-color="#2d2d2d"/><stop offset="0.9" stop-color="#2e2e2e"/><stop offset="0.95" stop-color="#2c2c2c"/><stop offset="1" stop-color="#292929"/></linearGradient>
<linearGradient id="g51" gradientUnits="userSpaceOnUse" x1="166.0" x2="741.6"><stop offset="0" stop-color="#161616"/><stop offset="0.053" stop-color="#161616"/><stop offset="0.105" stop-color="#161616"/><stop offset="0.158" stop-color="#161616"/><stop offset="0.211" stop-color="#171717"/><stop offset="0.263" stop-color="#171717"/><stop offset="0.316" stop-color="#181818"/><stop offset="0.368" stop-color="#191919"/><stop offset="0.421" stop-color="#191919"/><stop offset="0.474" stop-color="#191919"/><stop offset="0.526" stop-color="#191919"/><stop offset="0.579" stop-color="#181818"/><stop offset="0.632" stop-color="#191919"/><stop offset="0.684" stop-color="#1b1b1b"/><stop offset="0.737" stop-color="#1f1f1f"/><stop offset="0.789" stop-color="#242424"/><stop offset="0.842" stop-color="#292929"/><stop offset="0.895" stop-color="#2b2b2b"/><stop offset="0.947" stop-color="#2b2b2b"/><stop offset="1" stop-color="#292929"/></linearGradient>
<linearGradient id="g52" gradientUnits="userSpaceOnUse" x1="166.0" x2="726.4"><stop offset="0" stop-color="#0e0e0e"/><stop offset="0.053" stop-color="#0e0e0e"/><stop offset="0.105" stop-color="#0e0e0e"/><stop offset="0.158" stop-color="#0f0f0f"/><stop offset="0.211" stop-color="#101010"/><stop offset="0.263" stop-color="#101010"/><stop offset="0.316" stop-color="#121212"/><stop offset="0.368" stop-color="#131313"/><stop offset="0.421" stop-color="#131313"/><stop offset="0.474" stop-color="#131313"/><stop offset="0.526" stop-color="#131313"/><stop offset="0.579" stop-color="#131313"/><stop offset="0.632" stop-color="#141414"/><stop offset="0.684" stop-color="#161616"/><stop offset="0.737" stop-color="#1b1b1b"/><stop offset="0.789" stop-color="#202020"/><stop offset="0.842" stop-color="#252525"/><stop offset="0.895" stop-color="#292929"/><stop offset="0.947" stop-color="#2a2a2a"/><stop offset="1" stop-color="#292929"/></linearGradient>
<linearGradient id="g53" gradientUnits="userSpaceOnUse" x1="166.0" x2="711.2"><stop offset="0" stop-color="#070707"/><stop offset="0.056" stop-color="#070707"/><stop offset="0.111" stop-color="#080808"/><stop offset="0.167" stop-color="#080808"/><stop offset="0.222" stop-color="#090909"/><stop offset="0.278" stop-color="#0a0a0a"/><stop offset="0.333" stop-color="#0c0c0c"/><stop offset="0.389" stop-color="#0d0d0d"/><stop offset="0.444" stop-color="#0e0e0e"/><stop offset="0.5" stop-color="#0f0f0f"/><stop offset="0.556" stop-color="#0f0f0f"/><stop offset="0.611" stop-color="#111111"/><stop offset="0.667" stop-color="#141414"/><stop offset="0.722" stop-color="#191919"/><stop offset="0.778" stop-color="#1e1e1e"/><stop offset="0.833" stop-color="#232323"/><stop offset="0.889" stop-color="#262626"/><stop offset="0.944" stop-color="#282828"/><stop offset="1" stop-color="#282828"/></linearGradient>
<linearGradient id="g54" gradientUnits="userSpaceOnUse" x1="166.0" x2="695.9"><stop offset="0" stop-color="#040404"/><stop offset="0.056" stop-color="#050505"/><stop offset="0.111" stop-color="#050505"/><stop offset="0.167" stop-color="#060606"/><stop offset="0.222" stop-color="#070707"/><stop offset="0.278" stop-color="#080808"/><stop offset="0.333" stop-color="#090909"/><stop offset="0.389" stop-color="#0b0b0b"/><stop offset="0.444" stop-color="#0c0c0c"/><stop offset="0.5" stop-color="#0d0d0d"/><stop offset="0.556" stop-color="#0f0f0f"/><stop offset="0.611" stop-color="#121212"/><stop offset="0.667" stop-color="#171717"/><stop offset="0.722" stop-color="#1c1c1c"/><stop offset="0.778" stop-color="#202020"/><stop offset="0.833" stop-color="#232323"/><stop offset="0.889" stop-color="#262626"/><stop offset="0.944" stop-color="#272727"/><stop offset="1" stop-color="#282828"/></linearGradient>
<linearGradient id="g55" gradientUnits="userSpaceOnUse" x1="166.0" x2="680.7"><stop offset="0" stop-color="#080808"/><stop offset="0.059" stop-color="#090909"/><stop offset="0.118" stop-color="#090909"/><stop offset="0.176" stop-color="#0a0a0a"/><stop offset="0.235" stop-color="#0a0a0a"/><stop offset="0.294" stop-color="#0b0b0b"/><stop offset="0.353" stop-color="#0d0d0d"/><stop offset="0.412" stop-color="#0e0e0e"/><stop offset="0.471" stop-color="#101010"/><stop offset="0.529" stop-color="#121212"/><stop offset="0.588" stop-color="#161616"/><stop offset="0.647" stop-color="#1b1b1b"/><stop offset="0.706" stop-color="#212121"/><stop offset="0.765" stop-color="#242424"/><stop offset="0.824" stop-color="#262626"/><stop offset="0.882" stop-color="#272727"/><stop offset="0.941" stop-color="#272727"/><stop offset="1" stop-color="#282828"/></linearGradient>
<linearGradient id="g56" gradientUnits="userSpaceOnUse" x1="166.0" x2="665.5"><stop offset="0" stop-color="#121212"/><stop offset="0.059" stop-color="#121212"/><stop offset="0.118" stop-color="#121212"/><stop offset="0.176" stop-color="#131313"/><stop offset="0.235" stop-color="#131313"/><stop offset="0.294" stop-color="#141414"/><stop offset="0.353" stop-color="#151515"/><stop offset="0.412" stop-color="#161616"/><stop offset="0.471" stop-color="#171717"/><stop offset="0.529" stop-color="#1a1a1a"/><stop offset="0.588" stop-color="#1d1d1d"/><stop offset="0.647" stop-color="#232323"/><stop offset="0.706" stop-color="#292929"/><stop offset="0.765" stop-color="#2c2c2c"/><stop offset="0.824" stop-color="#2c2c2c"/><stop offset="0.882" stop-color="#2a2a2a"/><stop offset="0.941" stop-color="#292929"/><stop offset="1" stop-color="#292929"/></linearGradient>
<linearGradient id="g57" gradientUnits="userSpaceOnUse" x1="166.0" x2="650.2"><stop offset="0" stop-color="#1e1e1e"/><stop offset="0.062" stop-color="#1e1e1e"/><stop offset="0.125" stop-color="#1e1e1e"/><stop offset="0.188" stop-color="#1e1e1e"/><stop offset="0.25" stop-color="#1f1f1f"/><stop offset="0.312" stop-color="#1f1f1f"/><stop offset="0.375" stop-color="#202020"/><stop offset="0.438" stop-color="#212121"/><stop offset="0.5" stop-color="#222222"/><stop offset="0.562" stop-color="#242424"/><stop offset="0.625" stop-color="#282828"/><stop offset="0.688" stop-color="#2e2e2e"/><stop offset="0.75" stop-color="#343434"/><stop offset="0.812" stop-color="#353535"/><stop offset="0.875" stop-color="#323232"/><stop offset="0.938" stop-color="#2e2e2e"/><stop offset="1" stop-color="#2d2d2d"/></linearGradient>
<linearGradient id="g58" gradientUnits="userSpaceOnUse" x1="166.0" x2="635.0"><stop offset="0" stop-color="#2a2a2a"/><stop offset="0.062" stop-color="#2a2a2a"/><stop offset="0.125" stop-color="#2a2a2a"/><stop offset="0.188" stop-color="#2a2a2a"/><stop offset="0.25" stop-color="#2a2a2a"/><stop offset="0.312" stop-color="#2a2a2a"/><stop offset="0.375" stop-color="#2b2b2b"/><stop offset="0.438" stop-color="#2b2b2b"/><stop offset="0.5" stop-color="#2c2c2c"/><stop offset="0.562" stop-color="#2d2d2d"/><stop offset="0.625" stop-color="#303030"/><stop offset="0.688" stop-color="#353535"/><stop offset="0.75" stop-color="#3a3a3a"/><stop offset="0.812" stop-color="#3d3d3d"/><stop offset="0.875" stop-color="#3a3a3a"/><stop offset="0.938" stop-color="#353535"/><stop offset="1" stop-color="#333333"/></linearGradient>
<linearGradient id="g59" gradientUnits="userSpaceOnUse" x1="166.0" x2="619.8"><stop offset="0" stop-color="#353535"/><stop offset="0.067" stop-color="#353535"/><stop offset="0.133" stop-color="#353535"/><stop offset="0.2" stop-color="#353535"/><stop offset="0.267" stop-color="#353535"/><stop offset="0.333" stop-color="#353535"/><stop offset="0.4" stop-color="#353535"/><stop offset="0.467" stop-color="#353535"/><stop offset="0.533" stop-color="#363636"/><stop offset="0.6" stop-color="#373737"/><stop offset="0.667" stop-color="#393939"/><stop offset="0.733" stop-color="#3e3e3e"/><stop offset="0.8" stop-color="#424242"/><stop offset="0.867" stop-color="#424242"/><stop offset="0.933" stop-color="#3e3e3e"/><stop offset="1" stop-color="#3a3a3a"/></linearGradient>
<linearGradient id="g60" gradientUnits="userSpaceOnUse" x1="166.0" x2="604.5"><stop offset="0" stop-color="#3f3f3f"/><stop offset="0.067" stop-color="#3f3f3f"/><stop offset="0.133" stop-color="#3f3f3f"/><stop offset="0.2" stop-color="#3f3f3f"/><stop offset="0.267" stop-color="#3f3f3f"/><stop offset="0.333" stop-color="#3f3f3f"/><stop offset="0.4" stop-color="#3f3f3f"/><stop offset="0.467" stop-color="#3f3f3f"/><stop offset="0.533" stop-color="#3f3f3f"/><stop offset="0.6" stop-color="#3f3f3f"/><stop offset="0.667" stop-color="#404040"/><stop offset="0.733" stop-color="#434343"/><stop offset="0.8" stop-color="#464646"/><stop offset="0.867" stop-color="#474747"/><stop offset="0.933" stop-color="#454545"/><stop offset="1" stop-color="#424242"/></linearGradient>
<linearGradient id="g61" gradientUnits="userSpaceOnUse" x1="166.0" x2="589.3"><stop offset="0" stop-color="#474747"/><stop offset="0.071" stop-color="#474747"/><stop offset="0.143" stop-color="#474747"/><stop offset="0.214" stop-color="#474747"/><stop offset="0.286" stop-color="#474747"/><stop offset="0.357" stop-color="#474747"/><stop offset="0.429" stop-color="#474747"/><stop offset="0.5" stop-color="#474747"/><stop offset="0.571" stop-color="#474747"/><stop offset="0.643" stop-color="#474747"/><stop offset="0.714" stop-color="#484848"/><stop offset="0.786" stop-color="#4a4a4a"/><stop offset="0.857" stop-color="#4b4b4b"/><stop offset="0.929" stop-color="#4b4b4b"/><stop offset="1" stop-color="#4a4a4a"/></linearGradient>
<linearGradient id="g62" gradientUnits="userSpaceOnUse" x1="166.0" x2="574.1"><stop offset="0" stop-color="#4f4f4f"/><stop offset="0.071" stop-color="#4f4f4f"/><stop offset="0.143" stop-color="#4e4e4e"/><stop offset="0.214" stop-color="#4e4e4e"/><stop offset="0.286" stop-color="#4e4e4e"/><stop offset="0.357" stop-color="#4e4e4e"/><stop offset="0.429" stop-color="#4e4e4e"/><stop offset="0.5" stop-color="#4e4e4e"/><stop offset="0.571" stop-color="#4e4e4e"/><stop offset="0.643" stop-color="#4e4e4e"/><stop offset="0.714" stop-color="#4e4e4e"/><stop offset="0.786" stop-color="#4f4f4f"/><stop offset="0.857" stop-color="#4f4f4f"/><stop offset="0.929" stop-color="#505050"/><stop offset="1" stop-color="#4f4f4f"/></linearGradient>
<linearGradient id="g63" gradientUnits="userSpaceOnUse" x1="166.0" x2="558.8"><stop offset="0" stop-color="#575757"/><stop offset="0.077" stop-color="#565656"/><stop offset="0.154" stop-color="#555555"/><stop offset="0.231" stop-color="#545454"/><stop offset="0.308" stop-color="#535353"/><stop offset="0.385" stop-color="#535353"/><stop offset="0.462" stop-color="#535353"/><stop offset="0.538" stop-color="#535353"/><stop offset="0.615" stop-color="#535353"/><stop offset="0.692" stop-color="#535353"/><stop offset="0.769" stop-color="#535353"/><stop offset="0.846" stop-color="#535353"/><stop offset="0.923" stop-color="#535353"/><stop offset="1" stop-color="#535353"/></linearGradient>
<linearGradient id="g64" gradientUnits="userSpaceOnUse" x1="166.0" x2="543.6"><stop offset="0" stop-color="#616161"/><stop offset="0.077" stop-color="#5d5d5d"/><stop offset="0.154" stop-color="#5b5b5b"/><stop offset="0.231" stop-color="#595959"/><stop offset="0.308" stop-color="#585858"/><stop offset="0.385" stop-color="#575757"/><stop offset="0.462" stop-color="#565656"/><stop offset="0.538" stop-color="#565656"/><stop offset="0.615" stop-color="#565656"/><stop offset="0.692" stop-color="#565656"/><stop offset="0.769" stop-color="#565656"/><stop offset="0.846" stop-color="#565656"/><stop offset="0.923" stop-color="#565656"/><stop offset="1" stop-color="#565656"/></linearGradient>
<linearGradient id="g65" gradientUnits="userSpaceOnUse" x1="166.0" x2="528.4"><stop offset="0" stop-color="#6d6d6d"/><stop offset="0.083" stop-color="#666666"/><stop offset="0.167" stop-color="#616161"/><stop offset="0.25" stop-color="#5e5e5e"/><stop offset="0.333" stop-color="#5b5b5b"/><stop offset="0.417" stop-color="#585858"/><stop offset="0.5" stop-color="#565656"/><stop offset="0.583" stop-color="#555555"/><stop offset="0.667" stop-color="#555555"/><stop offset="0.75" stop-color="#575757"/><stop offset="0.833" stop-color="#585858"/><stop offset="0.917" stop-color="#585858"/><stop offset="1" stop-color="#585858"/></linearGradient>
<linearGradient id="g66" gradientUnits="userSpaceOnUse" x1="166.0" x2="513.1"><stop offset="0" stop-color="#777777"/><stop offset="0.083" stop-color="#6d6d6d"/><stop offset="0.167" stop-color="#666666"/><stop offset="0.25" stop-color="#616161"/><stop offset="0.333" stop-color="#5d5d5d"/><stop offset="0.417" stop-color="#575757"/><stop offset="0.5" stop-color="#505050"/><stop offset="0.583" stop-color="#4c4c4c"/><stop offset="0.667" stop-color="#4d4d4d"/><stop offset="0.75" stop-color="#525252"/><stop offset="0.833" stop-color="#575757"/><stop offset="0.917" stop-color="#595959"/><stop offset="1" stop-color="#5a5a5a"/></linearGradient>
<linearGradient id="g67" gradientUnits="userSpaceOnUse" x1="166.0" x2="513.1"><stop offset="0" stop-color="#777777"/><stop offset="0.083" stop-color="#6d6d6d"/><stop offset="0.167" stop-color="#666666"/><stop offset="0.25" stop-color="#616161"/><stop offset="0.333" stop-color="#5d5d5d"/><stop offset="0.417" stop-color="#575757"/><stop offset="0.5" stop-color="#505050"/><stop offset="0.583" stop-color="#4c4c4c"/><stop offset="0.667" stop-color="#4d4d4d"/><stop offset="0.75" stop-color="#525252"/><stop offset="0.833" stop-color="#575757"/><stop offset="0.917" stop-color="#595959"/><stop offset="1" stop-color="#5a5a5a"/></linearGradient>
<linearGradient id="g68" gradientUnits="userSpaceOnUse" x1="166.0" x2="513.1"><stop offset="0" stop-color="#777777"/><stop offset="0.083" stop-color="#6d6d6d"/><stop offset="0.167" stop-color="#666666"/><stop offset="0.25" stop-color="#616161"/><stop offset="0.333" stop-color="#5d5d5d"/><stop offset="0.417" stop-color="#575757"/><stop offset="0.5" stop-color="#505050"/><stop offset="0.583" stop-color="#4c4c4c"/><stop offset="0.667" stop-color="#4d4d4d"/><stop offset="0.75" stop-color="#525252"/><stop offset="0.833" stop-color="#575757"/><stop offset="0.917" stop-color="#595959"/><stop offset="1" stop-color="#5a5a5a"/></linearGradient>
<clipPath id="cpc"><polygon points="166.0,1762.5 925.9,1762.5 469.0,2393.0 166.0,2393.0"/></clipPath>
<linearGradient id="g69" gradientUnits="userSpaceOnUse" x1="167.0" x2="929.6"><stop offset="0" stop-color="#848484"/><stop offset="0.04" stop-color="#848484"/><stop offset="0.08" stop-color="#848484"/><stop offset="0.12" stop-color="#848484"/><stop offset="0.16" stop-color="#848484"/><stop offset="0.2" stop-color="#848484"/><stop offset="0.24" stop-color="#838383"/><stop offset="0.28" stop-color="#838383"/><stop offset="0.32" stop-color="#838383"/><stop offset="0.36" stop-color="#838383"/><stop offset="0.4" stop-color="#828282"/><stop offset="0.44" stop-color="#828282"/><stop offset="0.48" stop-color="#828282"/><stop offset="0.52" stop-color="#828282"/><stop offset="0.56" stop-color="#818181"/><stop offset="0.6" stop-color="#818181"/><stop offset="0.64" stop-color="#808080"/><stop offset="0.68" stop-color="#7e7e7e"/><stop offset="0.72" stop-color="#7b7b7b"/><stop offset="0.76" stop-color="#757575"/><stop offset="0.8" stop-color="#6d6d6d"/><stop offset="0.84" stop-color="#606060"/><stop offset="0.88" stop-color="#4c4c4c"/><stop offset="0.92" stop-color="#393939"/><stop offset="0.96" stop-color="#383838"/><stop offset="1" stop-color="#4f4f4f"/></linearGradient>
<linearGradient id="g70" gradientUnits="userSpaceOnUse" x1="167.0" x2="929.6"><stop offset="0" stop-color="#848484"/><stop offset="0.04" stop-color="#848484"/><stop offset="0.08" stop-color="#848484"/><stop offset="0.12" stop-color="#848484"/><stop offset="0.16" stop-color="#848484"/><stop offset="0.2" stop-color="#848484"/><stop offset="0.24" stop-color="#838383"/><stop offset="0.28" stop-color="#838383"/><stop offset="0.32" stop-color="#838383"/><stop offset="0.36" stop-color="#838383"/><stop offset="0.4" stop-color="#828282"/><stop offset="0.44" stop-color="#828282"/><stop offset="0.48" stop-color="#828282"/><stop offset="0.52" stop-color="#828282"/><stop offset="0.56" stop-color="#818181"/><stop offset="0.6" stop-color="#818181"/><stop offset="0.64" stop-color="#808080"/><stop offset="0.68" stop-color="#7e7e7e"/><stop offset="0.72" stop-color="#7b7b7b"/><stop offset="0.76" stop-color="#757575"/><stop offset="0.8" stop-color="#6d6d6d"/><stop offset="0.84" stop-color="#606060"/><stop offset="0.88" stop-color="#4c4c4c"/><stop offset="0.92" stop-color="#393939"/><stop offset="0.96" stop-color="#383838"/><stop offset="1" stop-color="#4f4f4f"/></linearGradient>
<linearGradient id="g71" gradientUnits="userSpaceOnUse" x1="167.0" x2="929.6"><stop offset="0" stop-color="#848484"/><stop offset="0.04" stop-color="#848484"/><stop offset="0.08" stop-color="#848484"/><stop offset="0.12" stop-color="#848484"/><stop offset="0.16" stop-color="#848484"/><stop offset="0.2" stop-color="#848484"/><stop offset="0.24" stop-color="#838383"/><stop offset="0.28" stop-color="#838383"/><stop offset="0.32" stop-color="#838383"/><stop offset="0.36" stop-color="#838383"/><stop offset="0.4" stop-color="#828282"/><stop offset="0.44" stop-color="#828282"/><stop offset="0.48" stop-color="#828282"/><stop offset="0.52" stop-color="#828282"/><stop offset="0.56" stop-color="#818181"/><stop offset="0.6" stop-color="#818181"/><stop offset="0.64" stop-color="#808080"/><stop offset="0.68" stop-color="#7e7e7e"/><stop offset="0.72" stop-color="#7b7b7b"/><stop offset="0.76" stop-color="#757575"/><stop offset="0.8" stop-color="#6d6d6d"/><stop offset="0.84" stop-color="#606060"/><stop offset="0.88" stop-color="#4c4c4c"/><stop offset="0.92" stop-color="#393939"/><stop offset="0.96" stop-color="#383838"/><stop offset="1" stop-color="#4f4f4f"/></linearGradient>
<linearGradient id="g72" gradientUnits="userSpaceOnUse" x1="167.0" x2="929.6"><stop offset="0" stop-color="#848484"/><stop offset="0.04" stop-color="#848484"/><stop offset="0.08" stop-color="#848484"/><stop offset="0.12" stop-color="#848484"/><stop offset="0.16" stop-color="#848484"/><stop offset="0.2" stop-color="#848484"/><stop offset="0.24" stop-color="#838383"/><stop offset="0.28" stop-color="#838383"/><stop offset="0.32" stop-color="#838383"/><stop offset="0.36" stop-color="#838383"/><stop offset="0.4" stop-color="#828282"/><stop offset="0.44" stop-color="#828282"/><stop offset="0.48" stop-color="#828282"/><stop offset="0.52" stop-color="#828282"/><stop offset="0.56" stop-color="#818181"/><stop offset="0.6" stop-color="#818181"/><stop offset="0.64" stop-color="#808080"/><stop offset="0.68" stop-color="#7e7e7e"/><stop offset="0.72" stop-color="#7a7a7a"/><stop offset="0.76" stop-color="#737373"/><stop offset="0.8" stop-color="#6b6b6b"/><stop offset="0.84" stop-color="#646464"/><stop offset="0.88" stop-color="#606060"/><stop offset="0.92" stop-color="#606060"/><stop offset="0.96" stop-color="#666666"/><stop offset="1" stop-color="#6f6f6f"/></linearGradient>
<linearGradient id="g73" gradientUnits="userSpaceOnUse" x1="167.0" x2="925.7"><stop offset="0" stop-color="#848484"/><stop offset="0.04" stop-color="#848484"/><stop offset="0.08" stop-color="#848484"/><stop offset="0.12" stop-color="#848484"/><stop offset="0.16" stop-color="#848484"/><stop offset="0.2" stop-color="#838383"/><stop offset="0.24" stop-color="#838383"/><stop offset="0.28" stop-color="#838383"/><stop offset="0.32" stop-color="#838383"/><stop offset="0.36" stop-color="#838383"/><stop offset="0.4" stop-color="#828282"/><stop offset="0.44" stop-color="#828282"/><stop offset="0.48" stop-color="#828282"/><stop offset="0.52" stop-color="#828282"/><stop offset="0.56" stop-color="#818181"/><stop offset="0.6" stop-color="#818181"/><stop offset="0.64" stop-color="#808080"/><stop offset="0.68" stop-color="#7f7f7f"/><stop offset="0.72" stop-color="#7b7b7b"/><stop offset="0.76" stop-color="#767676"/><stop offset="0.8" stop-color="#6f6f6f"/><stop offset="0.84" stop-color="#6a6a6a"/><stop offset="0.88" stop-color="#696969"/><stop offset="0.92" stop-color="#6c6c6c"/><stop offset="0.96" stop-color="#727272"/><stop offset="1" stop-color="#777777"/></linearGradient>
<linearGradient id="g74" gradientUnits="userSpaceOnUse" x1="167.0" x2="910.5"><stop offset="0" stop-color="#848484"/><stop offset="0.042" stop-color="#848484"/><stop offset="0.083" stop-color="#848484"/><stop offset="0.125" stop-color="#848484"/><stop offset="0.167" stop-color="#838383"/><stop offset="0.208" stop-color="#838383"/><stop offset="0.25" stop-color="#838383"/><stop offset="0.292" stop-color="#838383"/><stop offset="0.333" stop-color="#838383"/><stop offset="0.375" stop-color="#828282"/><stop offset="0.417" stop-color="#828282"/><stop offset="0.458" stop-color="#828282"/><stop offset="0.5" stop-color="#828282"/><stop offset="0.542" stop-color="#828282"/><stop offset="0.583" stop-color="#818181"/><stop offset="0.625" stop-color="#818181"/><stop offset="0.667" stop-color="#808080"/><stop offset="0.708" stop-color="#7f7f7f"/><stop offset="0.75" stop-color="#7b7b7b"/><stop offset="0.792" stop-color="#767676"/><stop offset="0.833" stop-color="#717171"/><stop offset="0.875" stop-color="#6f6f6f"/><stop offset="0.917" stop-color="#727272"/><stop offset="0.958" stop-color="#767676"/><stop offset="1" stop-color="#7b7b7b"/></linearGradient>
<linearGradient id="g75" gradientUnits="userSpaceOnUse" x1="167.0" x2="895.2"><stop offset="0" stop-color="#848484"/><stop offset="0.042" stop-color="#848484"/><stop offset="0.083" stop-color="#848484"/><stop offset="0.125" stop-color="#848484"/><stop offset="0.167" stop-color="#838383"/><stop offset="0.208" stop-color="#838383"/><stop offset="0.25" stop-color="#838383"/><stop offset="0.292" stop-color="#838383"/><stop offset="0.333" stop-color="#838383"/><stop offset="0.375" stop-color="#828282"/><stop offset="0.417" stop-color="#828282"/><stop offset="0.458" stop-color="#828282"/><stop offset="0.5" stop-color="#828282"/><stop offset="0.542" stop-color="#828282"/><stop offset="0.583" stop-color="#818181"/><stop offset="0.625" stop-color="#818181"/><stop offset="0.667" stop-color="#818181"/><stop offset="0.708" stop-color="#808080"/><stop offset="0.75" stop-color="#7e7e7e"/><stop offset="0.792" stop-color="#7a7a7a"/><stop offset="0.833" stop-color="#757575"/><stop offset="0.875" stop-color="#727272"/><stop offset="0.917" stop-color="#747474"/><stop offset="0.958" stop-color="#797979"/><stop offset="1" stop-color="#7d7d7d"/></linearGradient>
<linearGradient id="g76" gradientUnits="userSpaceOnUse" x1="167.0" x2="880.0"><stop offset="0" stop-color="#848484"/><stop offset="0.043" stop-color="#838383"/><stop offset="0.087" stop-color="#838383"/><stop offset="0.13" stop-color="#838383"/><stop offset="0.174" stop-color="#838383"/><stop offset="0.217" stop-color="#838383"/><stop offset="0.261" stop-color="#838383"/><stop offset="0.304" stop-color="#838383"/><stop offset="0.348" stop-color="#838383"/><stop offset="0.391" stop-color="#828282"/><stop offset="0.435" stop-color="#828282"/><stop offset="0.478" stop-color="#828282"/><stop offset="0.522" stop-color="#828282"/><stop offset="0.565" stop-color="#818181"/><stop offset="0.609" stop-color="#818181"/><stop offset="0.652" stop-color="#818181"/><stop offset="0.696" stop-color="#818181"/><stop offset="0.739" stop-color="#808080"/><stop offset="0.783" stop-color="#7d7d7d"/><stop offset="0.826" stop-color="#797979"/><stop offset="0.87" stop-color="#757575"/><stop offset="0.913" stop-color="#757575"/><stop offset="0.957" stop-color="#787878"/><stop offset="1" stop-color="#7c7c7c"/></linearGradient>
<linearGradient id="g77" gradientUnits="userSpaceOnUse" x1="167.0" x2="864.8"><stop offset="0" stop-color="#838383"/><stop offset="0.043" stop-color="#838383"/><stop offset="0.087" stop-color="#838383"/><stop offset="0.13" stop-color="#838383"/><stop offset="0.174" stop-color="#838383"/><stop offset="0.217" stop-color="#838383"/><stop offset="0.261" stop-color="#838383"/><stop offset="0.304" stop-color="#838383"/><stop offset="0.348" stop-color="#828282"/><stop offset="0.391" stop-color="#828282"/><stop offset="0.435" stop-color="#828282"/><stop offset="0.478" stop-color="#828282"/><stop offset="0.522" stop-color="#828282"/><stop offset="0.565" stop-color="#818181"/><stop offset="0.609" stop-color="#818181"/><stop offset="0.652" stop-color="#818181"/><stop offset="0.696" stop-color="#818181"/><stop offset="0.739" stop-color="#808080"/><stop offset="0.783" stop-color="#7f7f7f"/><stop offset="0.826" stop-color="#7c7c7c"/><stop offset="0.87" stop-color="#797979"/><stop offset="0.913" stop-color="#777777"/><stop offset="0.957" stop-color="#797979"/><stop offset="1" stop-color="#7c7c7c"/></linearGradient>
<linearGradient id="g78" gradientUnits="userSpaceOnUse" x1="167.0" x2="849.5"><stop offset="0" stop-color="#838383"/><stop offset="0.045" stop-color="#838383"/><stop offset="0.091" stop-color="#838383"/><stop offset="0.136" stop-color="#838383"/><stop offset="0.182" stop-color="#838383"/><stop offset="0.227" stop-color="#838383"/><stop offset="0.273" stop-color="#838383"/><stop offset="0.318" stop-color="#828282"/><stop offset="0.364" stop-color="#828282"/><stop offset="0.409" stop-color="#828282"/><stop offset="0.455" stop-color="#828282"/><stop offset="0.5" stop-color="#828282"/><stop offset="0.545" stop-color="#818181"/><stop offset="0.591" stop-color="#818181"/><stop offset="0.636" stop-color="#818181"/><stop offset="0.682" stop-color="#818181"/><stop offset="0.727" stop-color="#818181"/><stop offset="0.773" stop-color="#808080"/><stop offset="0.818" stop-color="#7f7f7f"/><stop offset="0.864" stop-color="#7d7d7d"/><stop offset="0.909" stop-color="#7b7b7b"/><stop offset="0.955" stop-color="#7b7b7b"/><stop offset="1" stop-color="#7c7c7c"/></linearGradient>
<linearGradient id="g79" gradientUnits="userSpaceOnUse" x1="167.0" x2="834.3"><stop offset="0" stop-color="#838383"/><stop offset="0.045" stop-color="#838383"/><stop offset="0.091" stop-color="#838383"/><stop offset="0.136" stop-color="#838383"/><stop offset="0.182" stop-color="#838383"/><stop offset="0.227" stop-color="#838383"/><stop offset="0.273" stop-color="#838383"/><stop offset="0.318" stop-color="#828282"/><stop offset="0.364" stop-color="#828282"/><stop offset="0.409" stop-color="#828282"/><stop offset="0.455" stop-color="#828282"/><stop offset="0.5" stop-color="#828282"/><stop offset="0.545" stop-color="#818181"/><stop offset="0.591" stop-color="#818181"/><stop offset="0.636" stop-color="#818181"/><stop offset="0.682" stop-color="#818181"/><stop offset="0.727" stop-color="#818181"/><stop offset="0.773" stop-color="#808080"/><stop offset="0.818" stop-color="#808080"/><stop offset="0.864" stop-color="#7f7f7f"/><stop offset="0.909" stop-color="#7e7e7e"/><stop offset="0.955" stop-color="#7d7d7d"/><stop offset="1" stop-color="#7e7e7e"/></linearGradient>
<linearGradient id="g80" gradientUnits="userSpaceOnUse" x1="167.0" x2="819.0"><stop offset="0" stop-color="#838383"/><stop offset="0.045" stop-color="#838383"/><stop offset="0.091" stop-color="#838383"/><stop offset="0.136" stop-color="#838383"/><stop offset="0.182" stop-color="#838383"/><stop offset="0.227" stop-color="#828282"/><stop offset="0.273" stop-color="#828282"/><stop offset="0.318" stop-color="#828282"/><stop offset="0.364" stop-color="#828282"/><stop offset="0.409" stop-color="#828282"/><stop offset="0.455" stop-color="#828282"/><stop offset="0.5" stop-color="#818181"/><stop offset="0.545" stop-color="#818181"/><stop offset="0.591" stop-color="#818181"/><stop offset="0.636" stop-color="#808080"/><stop offset="0.682" stop-color="#808080"/><stop offset="0.727" stop-color="#7f7f7f"/><stop offset="0.773" stop-color="#7f7f7f"/><stop offset="0.818" stop-color="#7f7f7f"/><stop offset="0.864" stop-color="#7f7f7f"/><stop offset="0.909" stop-color="#7f7f7f"/><stop offset="0.955" stop-color="#7f7f7f"/><stop offset="1" stop-color="#7f7f7f"/></linearGradient>
<linearGradient id="g81" gradientUnits="userSpaceOnUse" x1="167.0" x2="803.8"><stop offset="0" stop-color="#838383"/><stop offset="0.048" stop-color="#828282"/><stop offset="0.095" stop-color="#828282"/><stop offset="0.143" stop-color="#828282"/><stop offset="0.19" stop-color="#828282"/><stop offset="0.238" stop-color="#828282"/><stop offset="0.286" stop-color="#828282"/><stop offset="0.333" stop-color="#828282"/><stop offset="0.381" stop-color="#828282"/><stop offset="0.429" stop-color="#828282"/><stop offset="0.476" stop-color="#818181"/><stop offset="0.524" stop-color="#818181"/><stop offset="0.571" stop-color="#808080"/><stop offset="0.619" stop-color="#7f7f7f"/><stop offset="0.667" stop-color="#7e7e7e"/><stop offset="0.714" stop-color="#7d7d7d"/><stop offset="0.762" stop-color="#7b7b7b"/><stop offset="0.81" stop-color="#797979"/><stop offset="0.857" stop-color="#7a7a7a"/><stop offset="0.905" stop-color="#7d7d7d"/><stop offset="0.952" stop-color="#7f7f7f"/><stop offset="1" stop-color="#808080"/></linearGradient>
<linearGradient id="g82" gradientUnits="userSpaceOnUse" x1="167.0" x2="788.6"><stop offset="0" stop-color="#828282"/><stop offset="0.048" stop-color="#828282"/><stop offset="0.095" stop-color="#828282"/><stop offset="0.143" stop-color="#828282"/><stop offset="0.19" stop-color="#828282"/><stop offset="0.238" stop-color="#828282"/><stop offset="0.286" stop-color="#828282"/><stop offset="0.333" stop-color="#828282"/><stop offset="0.381" stop-color="#828282"/><stop offset="0.429" stop-color="#828282"/><stop offset="0.476" stop-color="#818181"/><stop offset="0.524" stop-color="#808080"/><stop offset="0.571" stop-color="#7f7f7f"/><stop offset="0.619" stop-color="#7d7d7d"/><stop offset="0.667" stop-color="#7b7b7b"/><stop offset="0.714" stop-color="#797979"/><stop offset="0.762" stop-color="#767676"/><stop offset="0.81" stop-color="#707070"/><stop offset="0.857" stop-color="#6d6d6d"/><stop offset="0.905" stop-color="#747474"/><stop offset="0.952" stop-color="#7c7c7c"/><stop offset="1" stop-color="#808080"/></linearGradient>
<linearGradient id="g83" gradientUnits="userSpaceOnUse" x1="167.0" x2="773.3"><stop offset="0" stop-color="#828282"/><stop offset="0.05" stop-color="#828282"/><stop offset="0.1" stop-color="#828282"/><stop offset="0.15" stop-color="#828282"/><stop offset="0.2" stop-color="#828282"/><stop offset="0.25" stop-color="#828282"/><stop offset="0.3" stop-color="#828282"/><stop offset="0.35" stop-color="#828282"/><stop offset="0.4" stop-color="#818181"/><stop offset="0.45" stop-color="#818181"/><stop offset="0.5" stop-color="#818181"/><stop offset="0.55" stop-color="#7f7f7f"/><stop offset="0.6" stop-color="#7d7d7d"/><stop offset="0.65" stop-color="#7a7a7a"/><stop offset="0.7" stop-color="#777777"/><stop offset="0.75" stop-color="#737373"/><stop offset="0.8" stop-color="#6c6c6c"/><stop offset="0.85" stop-color="#626262"/><stop offset="0.9" stop-color="#656565"/><stop offset="0.95" stop-color="#747474"/><stop offset="1" stop-color="#7e7e7e"/></linearGradient>
<linearGradient id="g84" gradientUnits="userSpaceOnUse" x1="167.0" x2="758.1"><stop offset="0" stop-color="#828282"/><stop offset="0.05" stop-color="#818181"/><stop offset="0.1" stop-color="#818181"/><stop offset="0.15" stop-color="#818181"/><stop offset="0.2" stop-color="#818181"/><stop offset="0.25" stop-color="#818181"/><stop offset="0.3" stop-color="#818181"/><stop offset="0.35" stop-color="#818181"/><stop offset="0.4" stop-color="#818181"/><stop offset="0.45" stop-color="#818181"/><stop offset="0.5" stop-color="#808080"/><stop offset="0.55" stop-color="#7f7f7f"/><stop offset="0.6" stop-color="#7c7c7c"/><stop offset="0.65" stop-color="#797979"/><stop offset="0.7" stop-color="#757575"/><stop offset="0.75" stop-color="#727272"/><stop offset="0.8" stop-color="#6d6d6d"/><stop offset="0.85" stop-color="#656565"/><stop offset="0.9" stop-color="#636363"/><stop offset="0.95" stop-color="#6e6e6e"/><stop offset="1" stop-color="#7a7a7a"/></linearGradient>
<linearGradient id="g85" gradientUnits="userSpaceOnUse" x1="167.0" x2="742.8"><stop offset="0" stop-color="#808080"/><stop offset="0.053" stop-color="#808080"/><stop offset="0.105" stop-color="#7f7f7f"/><stop offset="0.158" stop-color="#7f7f7f"/><stop offset="0.211" stop-color="#7f7f7f"/><stop offset="0.263" stop-color="#7f7f7f"/><stop offset="0.316" stop-color="#808080"/><stop offset="0.368" stop-color="#808080"/><stop offset="0.421" stop-color="#808080"/><stop offset="0.474" stop-color="#808080"/><stop offset="0.526" stop-color="#808080"/><stop offset="0.579" stop-color="#7e7e7e"/><stop offset="0.632" stop-color="#7b7b7b"/><stop offset="0.684" stop-color="#777777"/><stop offset="0.737" stop-color="#747474"/><stop offset="0.789" stop-color="#717171"/><stop offset="0.842" stop-color="#6f6f6f"/><stop offset="0.895" stop-color="#6d6d6d"/><stop offset="0.947" stop-color="#717171"/><stop offset="1" stop-color="#797979"/></linearGradient>
<linearGradient id="g86" gradientUnits="userSpaceOnUse" x1="167.0" x2="727.6"><stop offset="0" stop-color="#7a7a7a"/><stop offset="0.053" stop-color="#787878"/><stop offset="0.105" stop-color="#777777"/><stop offset="0.158" stop-color="#787878"/><stop offset="0.211" stop-color="#787878"/><stop offset="0.263" stop-color="#7a7a7a"/><stop offset="0.316" stop-color="#7b7b7b"/><stop offset="0.368" stop-color="#7d7d7d"/><stop offset="0.421" stop-color="#7e7e7e"/><stop offset="0.474" stop-color="#7f7f7f"/><stop offset="0.526" stop-color="#7f7f7f"/><stop offset="0.579" stop-color="#7e7e7e"/><stop offset="0.632" stop-color="#7d7d7d"/><stop offset="0.684" stop-color="#7a7a7a"/><stop offset="0.737" stop-color="#797979"/><stop offset="0.789" stop-color="#7c7c7c"/><stop offset="0.842" stop-color="#7f7f7f"/><stop offset="0.895" stop-color="#7d7d7d"/><stop offset="0.947" stop-color="#7b7b7b"/><stop offset="1" stop-color="#7c7c7c"/></linearGradient>
<linearGradient id="g87" gradientUnits="userSpaceOnUse" x1="167.0" x2="712.4"><stop offset="0" stop-color="#676767"/><stop offset="0.056" stop-color="#606060"/><stop offset="0.111" stop-color="#5b5b5b"/><stop offset="0.167" stop-color="#585858"/><stop offset="0.222" stop-color="#595959"/><stop offset="0.278" stop-color="#606060"/><stop offset="0.333" stop-color="#696969"/><stop offset="0.389" stop-color="#717171"/><stop offset="0.444" stop-color="#787878"/><stop offset="0.5" stop-color="#7c7c7c"/><stop offset="0.556" stop-color="#7d7d7d"/><stop offset="0.611" stop-color="#7e7e7e"/><stop offset="0.667" stop-color="#7d7d7d"/><stop offset="0.722" stop-color="#7d7d7d"/><stop offset="0.778" stop-color="#868686"/><stop offset="0.833" stop-color="#989898"/><stop offset="0.889" stop-color="#9f9f9f"/><stop offset="0.944" stop-color="#929292"/><stop offset="1" stop-color="#848484"/></linearGradient>
<linearGradient id="g88" gradientUnits="userSpaceOnUse" x1="167.0" x2="697.1"><stop offset="0" stop-color="#5a5a5a"/><stop offset="0.056" stop-color="#4b4b4b"/><stop offset="0.111" stop-color="#3b3b3b"/><stop offset="0.167" stop-color="#2c2c2c"/><stop offset="0.222" stop-color="#262626"/><stop offset="0.278" stop-color="#2f2f2f"/><stop offset="0.333" stop-color="#434343"/><stop offset="0.389" stop-color="#5a5a5a"/><stop offset="0.444" stop-color="#6b6b6b"/><stop offset="0.5" stop-color="#767676"/><stop offset="0.556" stop-color="#7b7b7b"/><stop offset="0.611" stop-color="#7d7d7d"/><stop offset="0.667" stop-color="#7c7c7c"/><stop offset="0.722" stop-color="#797979"/><stop offset="0.778" stop-color="#797979"/><stop offset="0.833" stop-color="#7f7f7f"/><stop offset="0.889" stop-color="#858585"/><stop offset="0.944" stop-color="#858585"/><stop offset="1" stop-color="#828282"/></linearGradient>
<linearGradient id="g89" gradientUnits="userSpaceOnUse" x1="167.0" x2="681.9"><stop offset="0" stop-color="#6b6b6b"/><stop offset="0.059" stop-color="#636363"/><stop offset="0.118" stop-color="#5c5c5c"/><stop offset="0.176" stop-color="#565656"/><stop offset="0.235" stop-color="#555555"/><stop offset="0.294" stop-color="#595959"/><stop offset="0.353" stop-color="#626262"/><stop offset="0.412" stop-color="#6c6c6c"/><stop offset="0.471" stop-color="#747474"/><stop offset="0.529" stop-color="#797979"/><stop offset="0.588" stop-color="#7c7c7c"/><stop offset="0.647" stop-color="#7d7d7d"/><stop offset="0.706" stop-color="#7a7a7a"/><stop offset="0.765" stop-color="#737373"/><stop offset="0.824" stop-color="#757575"/><stop offset="0.882" stop-color="#7c7c7c"/><stop offset="0.941" stop-color="#7f7f7f"/><stop offset="1" stop-color="#808080"/></linearGradient>
<linearGradient id="g90" gradientUnits="userSpaceOnUse" x1="167.0" x2="666.7"><stop offset="0" stop-color="#787878"/><stop offset="0.059" stop-color="#757575"/><stop offset="0.118" stop-color="#737373"/><stop offset="0.176" stop-color="#717171"/><stop offset="0.235" stop-color="#717171"/><stop offset="0.294" stop-color="#717171"/><stop offset="0.353" stop-color="#737373"/><stop offset="0.412" stop-color="#757575"/><stop offset="0.471" stop-color="#777777"/><stop offset="0.529" stop-color="#7a7a7a"/><stop offset="0.588" stop-color="#7c7c7c"/><stop offset="0.647" stop-color="#7d7d7d"/><stop offset="0.706" stop-color="#7d7d7d"/><stop offset="0.765" stop-color="#787878"/><stop offset="0.824" stop-color="#767676"/><stop offset="0.882" stop-color="#7b7b7b"/><stop offset="0.941" stop-color="#7f7f7f"/><stop offset="1" stop-color="#808080"/></linearGradient>
<linearGradient id="g91" gradientUnits="userSpaceOnUse" x1="167.0" x2="651.4"><stop offset="0" stop-color="#7d7d7d"/><stop offset="0.062" stop-color="#7b7b7b"/><stop offset="0.125" stop-color="#797979"/><stop offset="0.188" stop-color="#787878"/><stop offset="0.25" stop-color="#767676"/><stop offset="0.312" stop-color="#757575"/><stop offset="0.375" stop-color="#757575"/><stop offset="0.438" stop-color="#767676"/><stop offset="0.5" stop-color="#777777"/><stop offset="0.562" stop-color="#797979"/><stop offset="0.625" stop-color="#7b7b7b"/><stop offset="0.688" stop-color="#7d7d7d"/><stop offset="0.75" stop-color="#7e7e7e"/><stop offset="0.812" stop-color="#7d7d7d"/><stop offset="0.875" stop-color="#7e7e7e"/><stop offset="0.938" stop-color="#808080"/><stop offset="1" stop-color="#808080"/></linearGradient>
<linearGradient id="g92" gradientUnits="userSpaceOnUse" x1="167.0" x2="636.2"><stop offset="0" stop-color="#7f7f7f"/><stop offset="0.062" stop-color="#7e7e7e"/><stop offset="0.125" stop-color="#7d7d7d"/><stop offset="0.188" stop-color="#7c7c7c"/><stop offset="0.25" stop-color="#7a7a7a"/><stop offset="0.312" stop-color="#787878"/><stop offset="0.375" stop-color="#767676"/><stop offset="0.438" stop-color="#757575"/><stop offset="0.5" stop-color="#767676"/><stop offset="0.562" stop-color="#777777"/><stop offset="0.625" stop-color="#797979"/><stop offset="0.688" stop-color="#7c7c7c"/><stop offset="0.75" stop-color="#7e7e7e"/><stop offset="0.812" stop-color="#7f7f7f"/><stop offset="0.875" stop-color="#808080"/><stop offset="0.938" stop-color="#808080"/><stop offset="1" stop-color="#818181"/></linearGradient>
<linearGradient id="g93" gradientUnits="userSpaceOnUse" x1="167.0" x2="620.9"><stop offset="0" stop-color="#818181"/><stop offset="0.067" stop-color="#818181"/><stop offset="0.133" stop-color="#818181"/><stop offset="0.2" stop-color="#808080"/><stop offset="0.267" stop-color="#7f7f7f"/><stop offset="0.333" stop-color="#7d7d7d"/><stop offset="0.4" stop-color="#7b7b7b"/><stop offset="0.467" stop-color="#7a7a7a"/><stop offset="0.533" stop-color="#7a7a7a"/><stop offset="0.6" stop-color="#7b7b7b"/><stop offset="0.667" stop-color="#7c7c7c"/><stop offset="0.733" stop-color="#7e7e7e"/><stop offset="0.8" stop-color="#7f7f7f"/><stop offset="0.867" stop-color="#808080"/><stop offset="0.933" stop-color="#808080"/><stop offset="1" stop-color="#818181"/></linearGradient>
<linearGradient id="g94" gradientUnits="userSpaceOnUse" x1="167.0" x2="605.7"><stop offset="0" stop-color="#838383"/><stop offset="0.067" stop-color="#848484"/><stop offset="0.133" stop-color="#858585"/><stop offset="0.2" stop-color="#868686"/><stop offset="0.267" stop-color="#858585"/><stop offset="0.333" stop-color="#848484"/><stop offset="0.4" stop-color="#838383"/><stop offset="0.467" stop-color="#818181"/><stop offset="0.533" stop-color="#808080"/><stop offset="0.6" stop-color="#808080"/><stop offset="0.667" stop-color="#7f7f7f"/><stop offset="0.733" stop-color="#808080"/><stop offset="0.8" stop-color="#808080"/><stop offset="0.867" stop-color="#808080"/><stop offset="0.933" stop-color="#818181"/><stop offset="1" stop-color="#818181"/></linearGradient>
<linearGradient id="g95" gradientUnits="userSpaceOnUse" x1="167.0" x2="590.5"><stop offset="0" stop-color="#848484"/><stop offset="0.071" stop-color="#858585"/><stop offset="0.143" stop-color="#878787"/><stop offset="0.214" stop-color="#888888"/><stop offset="0.286" stop-color="#888888"/><stop offset="0.357" stop-color="#888888"/><stop offset="0.429" stop-color="#868686"/><stop offset="0.5" stop-color="#858585"/><stop offset="0.571" stop-color="#838383"/><stop offset="0.643" stop-color="#828282"/><stop offset="0.714" stop-color="#818181"/><stop offset="0.786" stop-color="#818181"/><stop offset="0.857" stop-color="#818181"/><stop offset="0.929" stop-color="#818181"/><stop offset="1" stop-color="#818181"/></linearGradient>
<linearGradient id="g96" gradientUnits="userSpaceOnUse" x1="167.0" x2="575.2"><stop offset="0" stop-color="#838383"/><stop offset="0.071" stop-color="#848484"/><stop offset="0.143" stop-color="#858585"/><stop offset="0.214" stop-color="#868686"/><stop offset="0.286" stop-color="#868686"/><stop offset="0.357" stop-color="#868686"/><stop offset="0.429" stop-color="#858585"/><stop offset="0.5" stop-color="#848484"/><stop offset="0.571" stop-color="#838383"/><stop offset="0.643" stop-color="#828282"/><stop offset="0.714" stop-color="#828282"/><stop offset="0.786" stop-color="#818181"/><stop offset="0.857" stop-color="#818181"/><stop offset="0.929" stop-color="#818181"/><stop offset="1" stop-color="#818181"/></linearGradient>
<linearGradient id="g97" gradientUnits="userSpaceOnUse" x1="167.0" x2="560.0"><stop offset="0" stop-color="#828282"/><stop offset="0.077" stop-color="#828282"/><stop offset="0.154" stop-color="#838383"/><stop offset="0.231" stop-color="#838383"/><stop offset="0.308" stop-color="#838383"/><stop offset="0.385" stop-color="#838383"/><stop offset="0.462" stop-color="#838383"/><stop offset="0.538" stop-color="#828282"/><stop offset="0.615" stop-color="#828282"/><stop offset="0.692" stop-color="#818181"/><stop offset="0.769" stop-color="#818181"/><stop offset="0.846" stop-color="#818181"/><stop offset="0.923" stop-color="#818181"/><stop offset="1" stop-color="#818181"/></linearGradient>
<linearGradient id="g98" gradientUnits="userSpaceOnUse" x1="167.0" x2="544.7"><stop offset="0" stop-color="#818181"/><stop offset="0.077" stop-color="#818181"/><stop offset="0.154" stop-color="#818181"/><stop offset="0.231" stop-color="#818181"/><stop offset="0.308" stop-color="#818181"/><stop offset="0.385" stop-color="#818181"/><stop offset="0.462" stop-color="#818181"/><stop offset="0.538" stop-color="#818181"/><stop offset="0.615" stop-color="#818181"/><stop offset="0.692" stop-color="#818181"/><stop offset="0.769" stop-color="#818181"/><stop offset="0.846" stop-color="#818181"/><stop offset="0.923" stop-color="#818181"/><stop offset="1" stop-color="#818181"/></linearGradient>
<linearGradient id="g99" gradientUnits="userSpaceOnUse" x1="167.0" x2="529.5"><stop offset="0" stop-color="#818181"/><stop offset="0.083" stop-color="#818181"/><stop offset="0.167" stop-color="#818181"/><stop offset="0.25" stop-color="#818181"/><stop offset="0.333" stop-color="#818181"/><stop offset="0.417" stop-color="#818181"/><stop offset="0.5" stop-color="#818181"/><stop offset="0.583" stop-color="#818181"/><stop offset="0.667" stop-color="#818181"/><stop offset="0.75" stop-color="#818181"/><stop offset="0.833" stop-color="#818181"/><stop offset="0.917" stop-color="#818181"/><stop offset="1" stop-color="#818181"/></linearGradient>
<linearGradient id="g100" gradientUnits="userSpaceOnUse" x1="167.0" x2="514.3"><stop offset="0" stop-color="#818181"/><stop offset="0.083" stop-color="#818181"/><stop offset="0.167" stop-color="#818181"/><stop offset="0.25" stop-color="#818181"/><stop offset="0.333" stop-color="#818181"/><stop offset="0.417" stop-color="#818181"/><stop offset="0.5" stop-color="#818181"/><stop offset="0.583" stop-color="#818181"/><stop offset="0.667" stop-color="#818181"/><stop offset="0.75" stop-color="#818181"/><stop offset="0.833" stop-color="#818181"/><stop offset="0.917" stop-color="#818181"/><stop offset="1" stop-color="#818181"/></linearGradient>
<linearGradient id="g101" gradientUnits="userSpaceOnUse" x1="167.0" x2="514.3"><stop offset="0" stop-color="#818181"/><stop offset="0.083" stop-color="#818181"/><stop offset="0.167" stop-color="#818181"/><stop offset="0.25" stop-color="#818181"/><stop offset="0.333" stop-color="#818181"/><stop offset="0.417" stop-color="#818181"/><stop offset="0.5" stop-color="#818181"/><stop offset="0.583" stop-color="#818181"/><stop offset="0.667" stop-color="#818181"/><stop offset="0.75" stop-color="#818181"/><stop offset="0.833" stop-color="#818181"/><stop offset="0.917" stop-color="#818181"/><stop offset="1" stop-color="#818181"/></linearGradient>
<linearGradient id="g102" gradientUnits="userSpaceOnUse" x1="167.0" x2="514.3"><stop offset="0" stop-color="#818181"/><stop offset="0.083" stop-color="#818181"/><stop offset="0.167" stop-color="#818181"/><stop offset="0.25" stop-color="#818181"/><stop offset="0.333" stop-color="#818181"/><stop offset="0.417" stop-color="#818181"/><stop offset="0.5" stop-color="#818181"/><stop offset="0.583" stop-color="#818181"/><stop offset="0.667" stop-color="#818181"/><stop offset="0.75" stop-color="#818181"/><stop offset="0.833" stop-color="#818181"/><stop offset="0.917" stop-color="#818181"/><stop offset="1" stop-color="#818181"/></linearGradient>
<clipPath id="cpd"><polygon points="167.0,2461.0 927.2,2461.0 470.1,3091.0 167.0,3091.0"/></clipPath>
<linearGradient id="g103" gradientUnits="userSpaceOnUse" x1="1300.7" x2="2063.8"><stop offset="0" stop-color="#161616"/><stop offset="0.032" stop-color="#202020"/><stop offset="0.065" stop-color="#282828"/><stop offset="0.097" stop-color="#2e2e2e"/><stop offset="0.129" stop-color="#323232"/><stop offset="0.161" stop-color="#363636"/><stop offset="0.194" stop-color="#3a3a3a"/><stop offset="0.226" stop-color="#3e3e3e"/><stop offset="0.258" stop-color="#424242"/><stop offset="0.29" stop-color="#454545"/><stop offset="0.323" stop-color="#484848"/><stop offset="0.355" stop-color="#4a4a4a"/><stop offset="0.387" stop-color="#4b4b4b"/><stop offset="0.419" stop-color="#4b4b4b"/><stop offset="0.452" stop-color="#4a4a4a"/><stop offset="0.484" stop-color="#494949"/><stop offset="0.516" stop-color="#464646"/><stop offset="0.548" stop-color="#434343"/><stop offset="0.581" stop-color="#3f3f3f"/><stop offset="0.613" stop-color="#3b3b3b"/><stop offset="0.645" stop-color="#373737"/><stop offset="0.677" stop-color="#333333"/><stop offset="0.71" stop-color="#2f2f2f"/><stop offset="0.742" stop-color="#2c2c2c"/><stop offset="0.774" stop-color="#292929"/><stop offset="0.806" stop-color="#272727"/><stop offset="0.839" stop-color="#252525"/><stop offset="0.871" stop-color="#242424"/><stop offset="0.903" stop-color="#222222"/><stop offset="0.935" stop-color="#222222"/><stop offset="0.968" stop-color="#212121"/><stop offset="1" stop-color="#212121"/></linearGradient>
<linearGradient id="g104" gradientUnits="userSpaceOnUse" x1="1300.7" x2="2063.8"><stop offset="0" stop-color="#161616"/><stop offset="0.032" stop-color="#202020"/><stop offset="0.065" stop-color="#282828"/><stop offset="0.097" stop-color="#2e2e2e"/><stop offset="0.129" stop-color="#323232"/><stop offset="0.161" stop-color="#363636"/><stop offset="0.194" stop-color="#3a3a3a"/><stop offset="0.226" stop-color="#3e3e3e"/><stop offset="0.258" stop-color="#424242"/><stop offset="0.29" stop-color="#454545"/><stop offset="0.323" stop-color="#484848"/><stop offset="0.355" stop-color="#4a4a4a"/><stop offset="0.387" stop-color="#4b4b4b"/><stop offset="0.419" stop-color="#4b4b4b"/><stop offset="0.452" stop-color="#4a4a4a"/><stop offset="0.484" stop-color="#494949"/><stop offset="0.516" stop-color="#464646"/><stop offset="0.548" stop-color="#434343"/><stop offset="0.581" stop-color="#3f3f3f"/><stop offset="0.613" stop-color="#3b3b3b"/><stop offset="0.645" stop-color="#373737"/><stop offset="0.677" stop-color="#333333"/><stop offset="0.71" stop-color="#2f2f2f"/><stop offset="0.742" stop-color="#2c2c2c"/><stop offset="0.774" stop-color="#292929"/><stop offset="0.806" stop-color="#272727"/><stop offset="0.839" stop-color="#252525"/><stop offset="0.871" stop-color="#242424"/><stop offset="0.903" stop-color="#222222"/><stop offset="0.935" stop-color="#222222"/><stop offset="0.968" stop-color="#212121"/><stop offset="1" stop-color="#212121"/></linearGradient>
<linearGradient id="g105" gradientUnits="userSpaceOnUse" x1="1300.7" x2="2063.8"><stop offset="0" stop-color="#161616"/><stop offset="0.032" stop-color="#202020"/><stop offset="0.065" stop-color="#282828"/><stop offset="0.097" stop-color="#2e2e2e"/><stop offset="0.129" stop-color="#323232"/><stop offset="0.161" stop-color="#363636"/><stop offset="0.194" stop-color="#3a3a3a"/><stop offset="0.226" stop-color="#3e3e3e"/><stop offset="0.258" stop-color="#424242"/><stop offset="0.29" stop-color="#454545"/><stop offset="0.323" stop-color="#484848"/><stop offset="0.355" stop-color="#4a4a4a"/><stop offset="0.387" stop-color="#4b4b4b"/><stop offset="0.419" stop-color="#4b4b4b"/><stop offset="0.452" stop-color="#4a4a4a"/><stop offset="0.484" stop-color="#494949"/><stop offset="0.516" stop-color="#464646"/><stop offset="0.548" stop-color="#434343"/><stop offset="0.581" stop-color="#3f3f3f"/><stop offset="0.613" stop-color="#3b3b3b"/><stop offset="0.645" stop-color="#373737"/><stop offset="0.677" stop-color="#333333"/><stop offset="0.71" stop-color="#2f2f2f"/><stop offset="0.742" stop-color="#2c2c2c"/><stop offset="0.774" stop-color="#292929"/><stop offset="0.806" stop-color="#272727"/><stop offset="0.839" stop-color="#252525"/><stop offset="0.871" stop-color="#242424"/><stop offset="0.903" stop-color="#222222"/><stop offset="0.935" stop-color="#222222"/><stop offset="0.968" stop-color="#212121"/><stop offset="1" stop-color="#212121"/></linearGradient>
<linearGradient id="g106" gradientUnits="userSpaceOnUse" x1="1300.7" x2="2063.8"><stop offset="0" stop-color="#151515"/><stop offset="0.032" stop-color="#1a1a1a"/><stop offset="0.065" stop-color="#242424"/><stop offset="0.097" stop-color="#2a2a2a"/><stop offset="0.129" stop-color="#2f2f2f"/><stop offset="0.161" stop-color="#333333"/><stop offset="0.194" stop-color="#373737"/><stop offset="0.226" stop-color="#3b3b3b"/><stop offset="0.258" stop-color="#3e3e3e"/><stop offset="0.29" stop-color="#414141"/><stop offset="0.323" stop-color="#434343"/><stop offset="0.355" stop-color="#444444"/><stop offset="0.387" stop-color="#454545"/><stop offset="0.419" stop-color="#464646"/><stop offset="0.452" stop-color="#454545"/><stop offset="0.484" stop-color="#434343"/><stop offset="0.516" stop-color="#414141"/><stop offset="0.548" stop-color="#3e3e3e"/><stop offset="0.581" stop-color="#3b3b3b"/><stop offset="0.613" stop-color="#373737"/><stop offset="0.645" stop-color="#343434"/><stop offset="0.677" stop-color="#303030"/><stop offset="0.71" stop-color="#2c2c2c"/><stop offset="0.742" stop-color="#292929"/><stop offset="0.774" stop-color="#272727"/><stop offset="0.806" stop-color="#252525"/><stop offset="0.839" stop-color="#232323"/><stop offset="0.871" stop-color="#222222"/><stop offset="0.903" stop-color="#212121"/><stop offset="0.935" stop-color="#212121"/><stop offset="0.968" stop-color="#212121"/><stop offset="1" stop-color="#202020"/></linearGradient>
<linearGradient id="g107" gradientUnits="userSpaceOnUse" x1="1300.7" x2="2063.8"><stop offset="0" stop-color="#141414"/><stop offset="0.032" stop-color="#161616"/><stop offset="0.065" stop-color="#1e1e1e"/><stop offset="0.097" stop-color="#262626"/><stop offset="0.129" stop-color="#2c2c2c"/><stop offset="0.161" stop-color="#303030"/><stop offset="0.194" stop-color="#333333"/><stop offset="0.226" stop-color="#363636"/><stop offset="0.258" stop-color="#393939"/><stop offset="0.29" stop-color="#3b3b3b"/><stop offset="0.323" stop-color="#3d3d3d"/><stop offset="0.355" stop-color="#3f3f3f"/><stop offset="0.387" stop-color="#404040"/><stop offset="0.419" stop-color="#404040"/><stop offset="0.452" stop-color="#3f3f3f"/><stop offset="0.484" stop-color="#3e3e3e"/><stop offset="0.516" stop-color="#3c3c3c"/><stop offset="0.548" stop-color="#393939"/><stop offset="0.581" stop-color="#363636"/><stop offset="0.613" stop-color="#333333"/><stop offset="0.645" stop-color="#2f2f2f"/><stop offset="0.677" stop-color="#2c2c2c"/><stop offset="0.71" stop-color="#292929"/><stop offset="0.742" stop-color="#262626"/><stop offset="0.774" stop-color="#242424"/><stop offset="0.806" stop-color="#232323"/><stop offset="0.839" stop-color="#212121"/><stop offset="0.871" stop-color="#212121"/><stop offset="0.903" stop-color="#202020"/><stop offset="0.935" stop-color="#202020"/><stop offset="0.968" stop-color="#202020"/><stop offset="1" stop-color="#202020"/></linearGradient>
<linearGradient id="g108" gradientUnits="userSpaceOnUse" x1="1309.8" x2="2049.5"><stop offset="0" stop-color="#151515"/><stop offset="0.033" stop-color="#161616"/><stop offset="0.067" stop-color="#1b1b1b"/><stop offset="0.1" stop-color="#242424"/><stop offset="0.133" stop-color="#2a2a2a"/><stop offset="0.167" stop-color="#2d2d2d"/><stop offset="0.2" stop-color="#303030"/><stop offset="0.233" stop-color="#333333"/><stop offset="0.267" stop-color="#353535"/><stop offset="0.3" stop-color="#373737"/><stop offset="0.333" stop-color="#383838"/><stop offset="0.367" stop-color="#393939"/><stop offset="0.4" stop-color="#3a3a3a"/><stop offset="0.433" stop-color="#393939"/><stop offset="0.467" stop-color="#393939"/><stop offset="0.5" stop-color="#373737"/><stop offset="0.533" stop-color="#353535"/><stop offset="0.567" stop-color="#333333"/><stop offset="0.6" stop-color="#303030"/><stop offset="0.633" stop-color="#2d2d2d"/><stop offset="0.667" stop-color="#2a2a2a"/><stop offset="0.7" stop-color="#272727"/><stop offset="0.733" stop-color="#242424"/><stop offset="0.767" stop-color="#222222"/><stop offset="0.8" stop-color="#212121"/><stop offset="0.833" stop-color="#202020"/><stop offset="0.867" stop-color="#1f1f1f"/><stop offset="0.9" stop-color="#1f1f1f"/><stop offset="0.933" stop-color="#1f1f1f"/><stop offset="0.967" stop-color="#1f1f1f"/><stop offset="1" stop-color="#1f1f1f"/></linearGradient>
<linearGradient id="g109" gradientUnits="userSpaceOnUse" x1="1325.0" x2="2034.2"><stop offset="0" stop-color="#181818"/><stop offset="0.034" stop-color="#191919"/><stop offset="0.069" stop-color="#1e1e1e"/><stop offset="0.103" stop-color="#272727"/><stop offset="0.138" stop-color="#2c2c2c"/><stop offset="0.172" stop-color="#2f2f2f"/><stop offset="0.207" stop-color="#323232"/><stop offset="0.241" stop-color="#343434"/><stop offset="0.276" stop-color="#353535"/><stop offset="0.31" stop-color="#363636"/><stop offset="0.345" stop-color="#373737"/><stop offset="0.379" stop-color="#353535"/><stop offset="0.414" stop-color="#343434"/><stop offset="0.448" stop-color="#333333"/><stop offset="0.483" stop-color="#323232"/><stop offset="0.517" stop-color="#313131"/><stop offset="0.552" stop-color="#2f2f2f"/><stop offset="0.586" stop-color="#2d2d2d"/><stop offset="0.621" stop-color="#2a2a2a"/><stop offset="0.655" stop-color="#272727"/><stop offset="0.69" stop-color="#242424"/><stop offset="0.724" stop-color="#222222"/><stop offset="0.759" stop-color="#202020"/><stop offset="0.793" stop-color="#1f1f1f"/><stop offset="0.828" stop-color="#1e1e1e"/><stop offset="0.862" stop-color="#1d1d1d"/><stop offset="0.897" stop-color="#1d1d1d"/><stop offset="0.931" stop-color="#1e1e1e"/><stop offset="0.966" stop-color="#1e1e1e"/><stop offset="1" stop-color="#1f1f1f"/></linearGradient>
<linearGradient id="g110" gradientUnits="userSpaceOnUse" x1="1340.3" x2="2019.0"><stop offset="0" stop-color="#1b1b1b"/><stop offset="0.036" stop-color="#1c1c1c"/><stop offset="0.071" stop-color="#212121"/><stop offset="0.107" stop-color="#2a2a2a"/><stop offset="0.143" stop-color="#2e2e2e"/><stop offset="0.179" stop-color="#313131"/><stop offset="0.214" stop-color="#333333"/><stop offset="0.25" stop-color="#343434"/><stop offset="0.286" stop-color="#353535"/><stop offset="0.321" stop-color="#363636"/><stop offset="0.357" stop-color="#353535"/><stop offset="0.393" stop-color="#333333"/><stop offset="0.429" stop-color="#303030"/><stop offset="0.464" stop-color="#2e2e2e"/><stop offset="0.5" stop-color="#2d2d2d"/><stop offset="0.536" stop-color="#2b2b2b"/><stop offset="0.571" stop-color="#292929"/><stop offset="0.607" stop-color="#272727"/><stop offset="0.643" stop-color="#252525"/><stop offset="0.679" stop-color="#222222"/><stop offset="0.714" stop-color="#202020"/><stop offset="0.75" stop-color="#1e1e1e"/><stop offset="0.786" stop-color="#1c1c1c"/><stop offset="0.821" stop-color="#1b1b1b"/><stop offset="0.857" stop-color="#1b1b1b"/><stop offset="0.893" stop-color="#1b1b1b"/><stop offset="0.929" stop-color="#1c1c1c"/><stop offset="0.964" stop-color="#1d1d1d"/><stop offset="1" stop-color="#1d1d1d"/></linearGradient>
<linearGradient id="g111" gradientUnits="userSpaceOnUse" x1="1355.5" x2="2003.7"><stop offset="0" stop-color="#1e1e1e"/><stop offset="0.038" stop-color="#1f1f1f"/><stop offset="0.077" stop-color="#252525"/><stop offset="0.115" stop-color="#2d2d2d"/><stop offset="0.154" stop-color="#313131"/><stop offset="0.192" stop-color="#333333"/><stop offset="0.231" stop-color="#353535"/><stop offset="0.269" stop-color="#363636"/><stop offset="0.308" stop-color="#363636"/><stop offset="0.346" stop-color="#363636"/><stop offset="0.385" stop-color="#343434"/><stop offset="0.423" stop-color="#313131"/><stop offset="0.462" stop-color="#2e2e2e"/><stop offset="0.5" stop-color="#2a2a2a"/><stop offset="0.538" stop-color="#272727"/><stop offset="0.577" stop-color="#252525"/><stop offset="0.615" stop-color="#232323"/><stop offset="0.654" stop-color="#212121"/><stop offset="0.692" stop-color="#1e1e1e"/><stop offset="0.731" stop-color="#1c1c1c"/><stop offset="0.769" stop-color="#1a1a1a"/><stop offset="0.808" stop-color="#191919"/><stop offset="0.846" stop-color="#191919"/><stop offset="0.885" stop-color="#191919"/><stop offset="0.923" stop-color="#1a1a1a"/><stop offset="0.962" stop-color="#1b1b1b"/><stop offset="1" stop-color="#1c1c1c"/></linearGradient>
<linearGradient id="g112" gradientUnits="userSpaceOnUse" x1="1370.8" x2="1988.5"><stop offset="0" stop-color="#222222"/><stop offset="0.04" stop-color="#232323"/><stop offset="0.08" stop-color="#282828"/><stop offset="0.12" stop-color="#303030"/><stop offset="0.16" stop-color="#333333"/><stop offset="0.2" stop-color="#353535"/><stop offset="0.24" stop-color="#363636"/><stop offset="0.28" stop-color="#373737"/><stop offset="0.32" stop-color="#373737"/><stop offset="0.36" stop-color="#353535"/><stop offset="0.4" stop-color="#333333"/><stop offset="0.44" stop-color="#313131"/><stop offset="0.48" stop-color="#2d2d2d"/><stop offset="0.52" stop-color="#292929"/><stop offset="0.56" stop-color="#252525"/><stop offset="0.6" stop-color="#212121"/><stop offset="0.64" stop-color="#1f1f1f"/><stop offset="0.68" stop-color="#1d1d1d"/><stop offset="0.72" stop-color="#1b1b1b"/><stop offset="0.76" stop-color="#191919"/><stop offset="0.8" stop-color="#171717"/><stop offset="0.84" stop-color="#171717"/><stop offset="0.88" stop-color="#171717"/><stop offset="0.92" stop-color="#181818"/><stop offset="0.96" stop-color="#191919"/><stop offset="1" stop-color="#1a1a1a"/></linearGradient>
<linearGradient id="g113" gradientUnits="userSpaceOnUse" x1="1386.0" x2="1973.2"><stop offset="0" stop-color="#2b2b2b"/><stop offset="0.042" stop-color="#2b2b2b"/><stop offset="0.083" stop-color="#303030"/><stop offset="0.125" stop-color="#383838"/><stop offset="0.167" stop-color="#3b3b3b"/><stop offset="0.208" stop-color="#3c3c3c"/><stop offset="0.25" stop-color="#3d3d3d"/><stop offset="0.292" stop-color="#3d3d3d"/><stop offset="0.333" stop-color="#3b3b3b"/><stop offset="0.375" stop-color="#363636"/><stop offset="0.417" stop-color="#343434"/><stop offset="0.458" stop-color="#313131"/><stop offset="0.5" stop-color="#2e2e2e"/><stop offset="0.542" stop-color="#2a2a2a"/><stop offset="0.583" stop-color="#252525"/><stop offset="0.625" stop-color="#202020"/><stop offset="0.667" stop-color="#1c1c1c"/><stop offset="0.708" stop-color="#1a1a1a"/><stop offset="0.75" stop-color="#181818"/><stop offset="0.792" stop-color="#161616"/><stop offset="0.833" stop-color="#151515"/><stop offset="0.875" stop-color="#151515"/><stop offset="0.917" stop-color="#161616"/><stop offset="0.958" stop-color="#171717"/><stop offset="1" stop-color="#181818"/></linearGradient>
<linearGradient id="g114" gradientUnits="userSpaceOnUse" x1="1401.3" x2="1958.0"><stop offset="0" stop-color="#363636"/><stop offset="0.043" stop-color="#353535"/><stop offset="0.087" stop-color="#3b3b3b"/><stop offset="0.13" stop-color="#434343"/><stop offset="0.174" stop-color="#464646"/><stop offset="0.217" stop-color="#464646"/><stop offset="0.261" stop-color="#474747"/><stop offset="0.304" stop-color="#464646"/><stop offset="0.348" stop-color="#424242"/><stop offset="0.391" stop-color="#3d3d3d"/><stop offset="0.435" stop-color="#383838"/><stop offset="0.478" stop-color="#333333"/><stop offset="0.522" stop-color="#2f2f2f"/><stop offset="0.565" stop-color="#2b2b2b"/><stop offset="0.609" stop-color="#272727"/><stop offset="0.652" stop-color="#222222"/><stop offset="0.696" stop-color="#1d1d1d"/><stop offset="0.739" stop-color="#181818"/><stop offset="0.783" stop-color="#161616"/><stop offset="0.826" stop-color="#151515"/><stop offset="0.87" stop-color="#141414"/><stop offset="0.913" stop-color="#151515"/><stop offset="0.957" stop-color="#151515"/><stop offset="1" stop-color="#171717"/></linearGradient>
<linearGradient id="g115" gradientUnits="userSpaceOnUse" x1="1416.5" x2="1942.7"><stop offset="0" stop-color="#404040"/><stop offset="0.045" stop-color="#404040"/><stop offset="0.091" stop-color="#454545"/><stop offset="0.136" stop-color="#4e4e4e"/><stop offset="0.182" stop-color="#505050"/><stop offset="0.227" stop-color="#515151"/><stop offset="0.273" stop-color="#515151"/><stop offset="0.318" stop-color="#4f4f4f"/><stop offset="0.364" stop-color="#4b4b4b"/><stop offset="0.409" stop-color="#464646"/><stop offset="0.455" stop-color="#414141"/><stop offset="0.5" stop-color="#3b3b3b"/><stop offset="0.545" stop-color="#343434"/><stop offset="0.591" stop-color="#2d2d2d"/><stop offset="0.636" stop-color="#292929"/><stop offset="0.682" stop-color="#242424"/><stop offset="0.727" stop-color="#1f1f1f"/><stop offset="0.773" stop-color="#1a1a1a"/><stop offset="0.818" stop-color="#171717"/><stop offset="0.864" stop-color="#161616"/><stop offset="0.909" stop-color="#151515"/><stop offset="0.955" stop-color="#161616"/><stop offset="1" stop-color="#171717"/></linearGradient>
<linearGradient id="g116" gradientUnits="userSpaceOnUse" x1="1431.8" x2="1927.5"><stop offset="0" stop-color="#4f4f4f"/><stop offset="0.05" stop-color="#4f4f4f"/><stop offset="0.1" stop-color="#565656"/><stop offset="0.15" stop-color="#5e5e5e"/><stop offset="0.2" stop-color="#606060"/><stop offset="0.25" stop-color="#606060"/><stop offset="0.3" stop-color="#5e5e5e"/><stop offset="0.35" stop-color="#585858"/><stop offset="0.4" stop-color="#535353"/><stop offset="0.45" stop-color="#4e4e4e"/><stop offset="0.5" stop-color="#484848"/><stop offset="0.55" stop-color="#414141"/><stop offset="0.6" stop-color="#3a3a3a"/><stop offset="0.65" stop-color="#313131"/><stop offset="0.7" stop-color="#292929"/><stop offset="0.75" stop-color="#242424"/><stop offset="0.8" stop-color="#1f1f1f"/><stop offset="0.85" stop-color="#1c1c1c"/><stop offset="0.9" stop-color="#1b1b1b"/><stop offset="0.95" stop-color="#1b1b1b"/><stop offset="1" stop-color="#1b1b1b"/></linearGradient>
<linearGradient id="g117" gradientUnits="userSpaceOnUse" x1="1447.0" x2="1912.3"><stop offset="0" stop-color="#616161"/><stop offset="0.053" stop-color="#616161"/><stop offset="0.105" stop-color="#686868"/><stop offset="0.158" stop-color="#727272"/><stop offset="0.211" stop-color="#747474"/><stop offset="0.263" stop-color="#737373"/><stop offset="0.316" stop-color="#6d6d6d"/><stop offset="0.368" stop-color="#686868"/><stop offset="0.421" stop-color="#636363"/><stop offset="0.474" stop-color="#5d5d5d"/><stop offset="0.526" stop-color="#545454"/><stop offset="0.579" stop-color="#4c4c4c"/><stop offset="0.632" stop-color="#444444"/><stop offset="0.684" stop-color="#3d3d3d"/><stop offset="0.737" stop-color="#343434"/><stop offset="0.789" stop-color="#2c2c2c"/><stop offset="0.842" stop-color="#242424"/><stop offset="0.895" stop-color="#222222"/><stop offset="0.947" stop-color="#212121"/><stop offset="1" stop-color="#212121"/></linearGradient>
<linearGradient id="g118" gradientUnits="userSpaceOnUse" x1="1462.3" x2="1897.0"><stop offset="0" stop-color="#777777"/><stop offset="0.056" stop-color="#767676"/><stop offset="0.111" stop-color="#7f7f7f"/><stop offset="0.167" stop-color="#8c8c8c"/><stop offset="0.222" stop-color="#8e8e8e"/><stop offset="0.278" stop-color="#8b8b8b"/><stop offset="0.333" stop-color="#868686"/><stop offset="0.389" stop-color="#7f7f7f"/><stop offset="0.444" stop-color="#787878"/><stop offset="0.5" stop-color="#6f6f6f"/><stop offset="0.556" stop-color="#656565"/><stop offset="0.611" stop-color="#5d5d5d"/><stop offset="0.667" stop-color="#535353"/><stop offset="0.722" stop-color="#4a4a4a"/><stop offset="0.778" stop-color="#414141"/><stop offset="0.833" stop-color="#393939"/><stop offset="0.889" stop-color="#333333"/><stop offset="0.944" stop-color="#313131"/><stop offset="1" stop-color="#303030"/></linearGradient>
<linearGradient id="g119" gradientUnits="userSpaceOnUse" x1="1477.5" x2="1881.8"><stop offset="0" stop-color="#939393"/><stop offset="0.059" stop-color="#929292"/><stop offset="0.118" stop-color="#9c9c9c"/><stop offset="0.176" stop-color="#acacac"/><stop offset="0.235" stop-color="#aeaeae"/><stop offset="0.294" stop-color="#a8a8a8"/><stop offset="0.353" stop-color="#a1a1a1"/><stop offset="0.412" stop-color="#9b9b9b"/><stop offset="0.471" stop-color="#959595"/><stop offset="0.529" stop-color="#8b8b8b"/><stop offset="0.588" stop-color="#818181"/><stop offset="0.647" stop-color="#767676"/><stop offset="0.706" stop-color="#6b6b6b"/><stop offset="0.765" stop-color="#5f5f5f"/><stop offset="0.824" stop-color="#555555"/><stop offset="0.882" stop-color="#4c4c4c"/><stop offset="0.941" stop-color="#474747"/><stop offset="1" stop-color="#444444"/></linearGradient>
<linearGradient id="g120" gradientUnits="userSpaceOnUse" x1="1492.8" x2="1866.5"><stop offset="0" stop-color="#b2b2b2"/><stop offset="0.062" stop-color="#b1b1b1"/><stop offset="0.125" stop-color="#bdbdbd"/><stop offset="0.188" stop-color="#d3d3d3"/><stop offset="0.25" stop-color="#d4d4d4"/><stop offset="0.312" stop-color="#d0d0d0"/><stop offset="0.375" stop-color="#cbcbcb"/><stop offset="0.438" stop-color="#c5c5c5"/><stop offset="0.5" stop-color="#bcbcbc"/><stop offset="0.562" stop-color="#b1b1b1"/><stop offset="0.625" stop-color="#a4a4a4"/><stop offset="0.688" stop-color="#989898"/><stop offset="0.75" stop-color="#8b8b8b"/><stop offset="0.812" stop-color="#808080"/><stop offset="0.875" stop-color="#757575"/><stop offset="0.938" stop-color="#6b6b6b"/><stop offset="1" stop-color="#666666"/></linearGradient>
<linearGradient id="g121" gradientUnits="userSpaceOnUse" x1="1508.0" x2="1851.3"><stop offset="0" stop-color="#cbcbcb"/><stop offset="0.071" stop-color="#cacaca"/><stop offset="0.143" stop-color="#dddddd"/><stop offset="0.214" stop-color="#f3f3f3"/><stop offset="0.286" stop-color="#f5f5f5"/><stop offset="0.357" stop-color="#f3f3f3"/><stop offset="0.429" stop-color="#efefef"/><stop offset="0.5" stop-color="#e9e9e9"/><stop offset="0.571" stop-color="#dfdfdf"/><stop offset="0.643" stop-color="#d4d4d4"/><stop offset="0.714" stop-color="#c9c9c9"/><stop offset="0.786" stop-color="#bebebe"/><stop offset="0.857" stop-color="#b2b2b2"/><stop offset="0.929" stop-color="#a6a6a6"/><stop offset="1" stop-color="#9b9b9b"/></linearGradient>
<linearGradient id="g122" gradientUnits="userSpaceOnUse" x1="1523.3" x2="1836.0"><stop offset="0" stop-color="#cdcdcd"/><stop offset="0.077" stop-color="#cdcdcd"/><stop offset="0.154" stop-color="#dfdfdf"/><stop offset="0.231" stop-color="#f9f9f9"/><stop offset="0.308" stop-color="#fefefe"/><stop offset="0.385" stop-color="#ffffff"/><stop offset="0.462" stop-color="#ffffff"/><stop offset="0.538" stop-color="#f8f8f8"/><stop offset="0.615" stop-color="#f2f2f2"/><stop offset="0.692" stop-color="#eaeaea"/><stop offset="0.769" stop-color="#e2e2e2"/><stop offset="0.846" stop-color="#dbdbdb"/><stop offset="0.923" stop-color="#d3d3d3"/><stop offset="1" stop-color="#cbcbcb"/></linearGradient>
<linearGradient id="g123" gradientUnits="userSpaceOnUse" x1="1538.5" x2="1820.8"><stop offset="0" stop-color="#bfbfbf"/><stop offset="0.083" stop-color="#c0c0c0"/><stop offset="0.167" stop-color="#cfcfcf"/><stop offset="0.25" stop-color="#e9e9e9"/><stop offset="0.333" stop-color="#efefef"/><stop offset="0.417" stop-color="#f1f1f1"/><stop offset="0.5" stop-color="#eeeeee"/><stop offset="0.583" stop-color="#e9e9e9"/><stop offset="0.667" stop-color="#e3e3e3"/><stop offset="0.75" stop-color="#dddddd"/><stop offset="0.833" stop-color="#d8d8d8"/><stop offset="0.917" stop-color="#d2d2d2"/><stop offset="1" stop-color="#cccccc"/></linearGradient>
<linearGradient id="g124" gradientUnits="userSpaceOnUse" x1="1553.8" x2="1805.5"><stop offset="0" stop-color="#a7a7a7"/><stop offset="0.091" stop-color="#a8a8a8"/><stop offset="0.182" stop-color="#b3b3b3"/><stop offset="0.273" stop-color="#cbcbcb"/><stop offset="0.364" stop-color="#d1d1d1"/><stop offset="0.455" stop-color="#d3d3d3"/><stop offset="0.545" stop-color="#d0d0d0"/><stop offset="0.636" stop-color="#cccccc"/><stop offset="0.727" stop-color="#c8c8c8"/><stop offset="0.818" stop-color="#c3c3c3"/><stop offset="0.909" stop-color="#bfbfbf"/><stop offset="1" stop-color="#bbbbbb"/></linearGradient>
<linearGradient id="g125" gradientUnits="userSpaceOnUse" x1="1569.0" x2="1790.3"><stop offset="0" stop-color="#8c8c8c"/><stop offset="0.1" stop-color="#8d8d8d"/><stop offset="0.2" stop-color="#939393"/><stop offset="0.3" stop-color="#a8a8a8"/><stop offset="0.4" stop-color="#aeaeae"/><stop offset="0.5" stop-color="#aeaeae"/><stop offset="0.6" stop-color="#ababab"/><stop offset="0.7" stop-color="#a8a8a8"/><stop offset="0.8" stop-color="#a5a5a5"/><stop offset="0.9" stop-color="#a2a2a2"/><stop offset="1" stop-color="#9e9e9e"/></linearGradient>
<linearGradient id="g126" gradientUnits="userSpaceOnUse" x1="1584.3" x2="1775.0"><stop offset="0" stop-color="#777777"/><stop offset="0.125" stop-color="#787878"/><stop offset="0.25" stop-color="#818181"/><stop offset="0.375" stop-color="#8f8f8f"/><stop offset="0.5" stop-color="#919191"/><stop offset="0.625" stop-color="#8f8f8f"/><stop offset="0.75" stop-color="#8c8c8c"/><stop offset="0.875" stop-color="#898989"/><stop offset="1" stop-color="#868686"/></linearGradient>
<linearGradient id="g127" gradientUnits="userSpaceOnUse" x1="1599.5" x2="1759.8"><stop offset="0" stop-color="#656565"/><stop offset="0.143" stop-color="#666666"/><stop offset="0.286" stop-color="#6c6c6c"/><stop offset="0.429" stop-color="#787878"/><stop offset="0.571" stop-color="#797979"/><stop offset="0.714" stop-color="#787878"/><stop offset="0.857" stop-color="#767676"/><stop offset="1" stop-color="#747474"/></linearGradient>
<linearGradient id="g128" gradientUnits="userSpaceOnUse" x1="1614.8" x2="1744.5"><stop offset="0" stop-color="#525252"/><stop offset="0.167" stop-color="#535353"/><stop offset="0.333" stop-color="#555555"/><stop offset="0.5" stop-color="#5f5f5f"/><stop offset="0.667" stop-color="#606060"/><stop offset="0.833" stop-color="#606060"/><stop offset="1" stop-color="#5f5f5f"/></linearGradient>
<linearGradient id="g129" gradientUnits="userSpaceOnUse" x1="1630.0" x2="1729.3"><stop offset="0" stop-color="#3a3a3a"/><stop offset="0.2" stop-color="#3b3b3b"/><stop offset="0.4" stop-color="#3c3c3c"/><stop offset="0.6" stop-color="#424242"/><stop offset="0.8" stop-color="#434343"/><stop offset="1" stop-color="#444444"/></linearGradient>
<linearGradient id="g130" gradientUnits="userSpaceOnUse" x1="1645.3" x2="1714.0"><stop offset="0" stop-color="#2a2a2a"/><stop offset="0.25" stop-color="#2a2a2a"/><stop offset="0.5" stop-color="#2a2a2a"/><stop offset="0.75" stop-color="#2b2b2b"/><stop offset="1" stop-color="#2c2c2c"/></linearGradient>
<linearGradient id="g131" gradientUnits="userSpaceOnUse" x1="1660.5" x2="1698.8"><stop offset="0" stop-color="#212121"/><stop offset="0.25" stop-color="#222222"/><stop offset="0.5" stop-color="#222222"/><stop offset="0.75" stop-color="#222222"/><stop offset="1" stop-color="#222222"/></linearGradient>
<linearGradient id="g132" gradientUnits="userSpaceOnUse" x1="1675.8" x2="1683.5"><stop offset="0" stop-color="#202020"/><stop offset="0.25" stop-color="#202020"/><stop offset="0.5" stop-color="#202020"/><stop offset="0.75" stop-color="#202020"/><stop offset="1" stop-color="#202020"/></linearGradient>
<linearGradient id="g133" gradientUnits="userSpaceOnUse" x1="1691.0" x2="1668.3"><stop offset="0" stop-color="#202020"/><stop offset="0.25" stop-color="#202020"/><stop offset="0.5" stop-color="#202020"/><stop offset="0.75" stop-color="#202020"/><stop offset="1" stop-color="#202020"/></linearGradient>
<linearGradient id="g134" gradientUnits="userSpaceOnUse" x1="1706.3" x2="1653.0"><stop offset="0" stop-color="#202020"/><stop offset="0.25" stop-color="#202020"/><stop offset="0.5" stop-color="#202020"/><stop offset="0.75" stop-color="#202020"/><stop offset="1" stop-color="#202020"/></linearGradient>
<linearGradient id="g135" gradientUnits="userSpaceOnUse" x1="1706.3" x2="1653.0"><stop offset="0" stop-color="#202020"/><stop offset="0.25" stop-color="#202020"/><stop offset="0.5" stop-color="#202020"/><stop offset="0.75" stop-color="#202020"/><stop offset="1" stop-color="#202020"/></linearGradient>
<linearGradient id="g136" gradientUnits="userSpaceOnUse" x1="1706.3" x2="1653.0"><stop offset="0" stop-color="#202020"/><stop offset="0.25" stop-color="#202020"/><stop offset="0.5" stop-color="#202020"/><stop offset="0.75" stop-color="#202020"/><stop offset="1" stop-color="#202020"/></linearGradient>
<clipPath id="cpe"><polygon points="1301.7,1074.0 2061.4,1074.0 1679.6,1601.5"/></clipPath>
<linearGradient id="g137" gradientUnits="userSpaceOnUse" x1="1305.7" x2="2063.0"><stop offset="0" stop-color="#141414"/><stop offset="0.032" stop-color="#212121"/><stop offset="0.065" stop-color="#2c2c2c"/><stop offset="0.097" stop-color="#353535"/><stop offset="0.129" stop-color="#3c3c3c"/><stop offset="0.161" stop-color="#424242"/><stop offset="0.194" stop-color="#474747"/><stop offset="0.226" stop-color="#4b4b4b"/><stop offset="0.258" stop-color="#4f4f4f"/><stop offset="0.29" stop-color="#535353"/><stop offset="0.323" stop-color="#565656"/><stop offset="0.355" stop-color="#585858"/><stop offset="0.387" stop-color="#5a5a5a"/><stop offset="0.419" stop-color="#5c5c5c"/><stop offset="0.452" stop-color="#5d5d5d"/><stop offset="0.484" stop-color="#5f5f5f"/><stop offset="0.516" stop-color="#606060"/><stop offset="0.548" stop-color="#626262"/><stop offset="0.581" stop-color="#646464"/><stop offset="0.613" stop-color="#666666"/><stop offset="0.645" stop-color="#696969"/><stop offset="0.677" stop-color="#6c6c6c"/><stop offset="0.71" stop-color="#6e6e6e"/><stop offset="0.742" stop-color="#707070"/><stop offset="0.774" stop-color="#717171"/><stop offset="0.806" stop-color="#717171"/><stop offset="0.839" stop-color="#707070"/><stop offset="0.871" stop-color="#6e6e6e"/><stop offset="0.903" stop-color="#6c6c6c"/><stop offset="0.935" stop-color="#696969"/><stop offset="0.968" stop-color="#676767"/><stop offset="1" stop-color="#656565"/></linearGradient>
<linearGradient id="g138" gradientUnits="userSpaceOnUse" x1="1305.7" x2="2063.0"><stop offset="0" stop-color="#141414"/><stop offset="0.032" stop-color="#212121"/><stop offset="0.065" stop-color="#2c2c2c"/><stop offset="0.097" stop-color="#353535"/><stop offset="0.129" stop-color="#3c3c3c"/><stop offset="0.161" stop-color="#424242"/><stop offset="0.194" stop-color="#474747"/><stop offset="0.226" stop-color="#4b4b4b"/><stop offset="0.258" stop-color="#4f4f4f"/><stop offset="0.29" stop-color="#535353"/><stop offset="0.323" stop-color="#565656"/><stop offset="0.355" stop-color="#585858"/><stop offset="0.387" stop-color="#5a5a5a"/><stop offset="0.419" stop-color="#5c5c5c"/><stop offset="0.452" stop-color="#5d5d5d"/><stop offset="0.484" stop-color="#5f5f5f"/><stop offset="0.516" stop-color="#606060"/><stop offset="0.548" stop-color="#626262"/><stop offset="0.581" stop-color="#646464"/><stop offset="0.613" stop-color="#666666"/><stop offset="0.645" stop-color="#696969"/><stop offset="0.677" stop-color="#6c6c6c"/><stop offset="0.71" stop-color="#6e6e6e"/><stop offset="0.742" stop-color="#707070"/><stop offset="0.774" stop-color="#717171"/><stop offset="0.806" stop-color="#717171"/><stop offset="0.839" stop-color="#707070"/><stop offset="0.871" stop-color="#6e6e6e"/><stop offset="0.903" stop-color="#6c6c6c"/><stop offset="0.935" stop-color="#696969"/><stop offset="0.968" stop-color="#676767"/><stop offset="1" stop-color="#656565"/></linearGradient>
<linearGradient id="g139" gradientUnits="userSpaceOnUse" x1="1305.7" x2="2063.0"><stop offset="0" stop-color="#141414"/><stop offset="0.032" stop-color="#212121"/><stop offset="0.065" stop-color="#2c2c2c"/><stop offset="0.097" stop-color="#353535"/><stop offset="0.129" stop-color="#3c3c3c"/><stop offset="0.161" stop-color="#424242"/><stop offset="0.194" stop-color="#474747"/><stop offset="0.226" stop-color="#4b4b4b"/><stop offset="0.258" stop-color="#4f4f4f"/><stop offset="0.29" stop-color="#535353"/><stop offset="0.323" stop-color="#565656"/><stop offset="0.355" stop-color="#585858"/><stop offset="0.387" stop-color="#5a5a5a"/><stop offset="0.419" stop-color="#5c5c5c"/><stop offset="0.452" stop-color="#5d5d5d"/><stop offset="0.484" stop-color="#5f5f5f"/><stop offset="0.516" stop-color="#606060"/><stop offset="0.548" stop-color="#626262"/><stop offset="0.581" stop-color="#646464"/><stop offset="0.613" stop-color="#666666"/><stop offset="0.645" stop-color="#696969"/><stop offset="0.677" stop-color="#6c6c6c"/><stop offset="0.71" stop-color="#6e6e6e"/><stop offset="0.742" stop-color="#707070"/><stop offset="0.774" stop-color="#717171"/><stop offset="0.806" stop-color="#717171"/><stop offset="0.839" stop-color="#707070"/><stop offset="0.871" stop-color="#6e6e6e"/><stop offset="0.903" stop-color="#6c6c6c"/><stop offset="0.935" stop-color="#696969"/><stop offset="0.968" stop-color="#676767"/><stop offset="1" stop-color="#656565"/></linearGradient>
<linearGradient id="g140" gradientUnits="userSpaceOnUse" x1="1305.7" x2="2063.0"><stop offset="0" stop-color="#131313"/><stop offset="0.032" stop-color="#171717"/><stop offset="0.065" stop-color="#252525"/><stop offset="0.097" stop-color="#303030"/><stop offset="0.129" stop-color="#373737"/><stop offset="0.161" stop-color="#3d3d3d"/><stop offset="0.194" stop-color="#434343"/><stop offset="0.226" stop-color="#474747"/><stop offset="0.258" stop-color="#4a4a4a"/><stop offset="0.29" stop-color="#4e4e4e"/><stop offset="0.323" stop-color="#505050"/><stop offset="0.355" stop-color="#525252"/><stop offset="0.387" stop-color="#545454"/><stop offset="0.419" stop-color="#555555"/><stop offset="0.452" stop-color="#575757"/><stop offset="0.484" stop-color="#585858"/><stop offset="0.516" stop-color="#595959"/><stop offset="0.548" stop-color="#5a5a5a"/><stop offset="0.581" stop-color="#5c5c5c"/><stop offset="0.613" stop-color="#5e5e5e"/><stop offset="0.645" stop-color="#606060"/><stop offset="0.677" stop-color="#626262"/><stop offset="0.71" stop-color="#646464"/><stop offset="0.742" stop-color="#656565"/><stop offset="0.774" stop-color="#666666"/><stop offset="0.806" stop-color="#666666"/><stop offset="0.839" stop-color="#656565"/><stop offset="0.871" stop-color="#646464"/><stop offset="0.903" stop-color="#626262"/><stop offset="0.935" stop-color="#606060"/><stop offset="0.968" stop-color="#5e5e5e"/><stop offset="1" stop-color="#5d5d5d"/></linearGradient>
<linearGradient id="g141" gradientUnits="userSpaceOnUse" x1="1305.7" x2="2063.0"><stop offset="0" stop-color="#131313"/><stop offset="0.032" stop-color="#131313"/><stop offset="0.065" stop-color="#1d1d1d"/><stop offset="0.097" stop-color="#292929"/><stop offset="0.129" stop-color="#323232"/><stop offset="0.161" stop-color="#393939"/><stop offset="0.194" stop-color="#3f3f3f"/><stop offset="0.226" stop-color="#434343"/><stop offset="0.258" stop-color="#464646"/><stop offset="0.29" stop-color="#494949"/><stop offset="0.323" stop-color="#4c4c4c"/><stop offset="0.355" stop-color="#4e4e4e"/><stop offset="0.387" stop-color="#4f4f4f"/><stop offset="0.419" stop-color="#505050"/><stop offset="0.452" stop-color="#515151"/><stop offset="0.484" stop-color="#525252"/><stop offset="0.516" stop-color="#535353"/><stop offset="0.548" stop-color="#545454"/><stop offset="0.581" stop-color="#555555"/><stop offset="0.613" stop-color="#565656"/><stop offset="0.645" stop-color="#585858"/><stop offset="0.677" stop-color="#595959"/><stop offset="0.71" stop-color="#5a5a5a"/><stop offset="0.742" stop-color="#5b5b5b"/><stop offset="0.774" stop-color="#5c5c5c"/><stop offset="0.806" stop-color="#5c5c5c"/><stop offset="0.839" stop-color="#5b5b5b"/><stop offset="0.871" stop-color="#5a5a5a"/><stop offset="0.903" stop-color="#595959"/><stop offset="0.935" stop-color="#585858"/><stop offset="0.968" stop-color="#575757"/><stop offset="1" stop-color="#565656"/></linearGradient>
<linearGradient id="g142" gradientUnits="userSpaceOnUse" x1="1314.7" x2="2048.8"><stop offset="0" stop-color="#131313"/><stop offset="0.033" stop-color="#131313"/><stop offset="0.067" stop-color="#191919"/><stop offset="0.1" stop-color="#272727"/><stop offset="0.133" stop-color="#303030"/><stop offset="0.167" stop-color="#373737"/><stop offset="0.2" stop-color="#3d3d3d"/><stop offset="0.233" stop-color="#414141"/><stop offset="0.267" stop-color="#444444"/><stop offset="0.3" stop-color="#474747"/><stop offset="0.333" stop-color="#494949"/><stop offset="0.367" stop-color="#4a4a4a"/><stop offset="0.4" stop-color="#4c4c4c"/><stop offset="0.433" stop-color="#4d4d4d"/><stop offset="0.467" stop-color="#4d4d4d"/><stop offset="0.5" stop-color="#4e4e4e"/><stop offset="0.533" stop-color="#4f4f4f"/><stop offset="0.567" stop-color="#4f4f4f"/><stop offset="0.6" stop-color="#505050"/><stop offset="0.633" stop-color="#515151"/><stop offset="0.667" stop-color="#515151"/><stop offset="0.7" stop-color="#525252"/><stop offset="0.733" stop-color="#535353"/><stop offset="0.767" stop-color="#535353"/><stop offset="0.8" stop-color="#545454"/><stop offset="0.833" stop-color="#535353"/><stop offset="0.867" stop-color="#535353"/><stop offset="0.9" stop-color="#525252"/><stop offset="0.933" stop-color="#525252"/><stop offset="0.967" stop-color="#515151"/><stop offset="1" stop-color="#505050"/></linearGradient>
<linearGradient id="g143" gradientUnits="userSpaceOnUse" x1="1329.9" x2="2033.7"><stop offset="0" stop-color="#131313"/><stop offset="0.034" stop-color="#131313"/><stop offset="0.069" stop-color="#191919"/><stop offset="0.103" stop-color="#262626"/><stop offset="0.138" stop-color="#303030"/><stop offset="0.172" stop-color="#363636"/><stop offset="0.207" stop-color="#3c3c3c"/><stop offset="0.241" stop-color="#3f3f3f"/><stop offset="0.276" stop-color="#424242"/><stop offset="0.31" stop-color="#454545"/><stop offset="0.345" stop-color="#474747"/><stop offset="0.379" stop-color="#484848"/><stop offset="0.414" stop-color="#494949"/><stop offset="0.448" stop-color="#4a4a4a"/><stop offset="0.483" stop-color="#4a4a4a"/><stop offset="0.517" stop-color="#4b4b4b"/><stop offset="0.552" stop-color="#4b4b4b"/><stop offset="0.586" stop-color="#4c4c4c"/><stop offset="0.621" stop-color="#4c4c4c"/><stop offset="0.655" stop-color="#4c4c4c"/><stop offset="0.69" stop-color="#4d4d4d"/><stop offset="0.724" stop-color="#4d4d4d"/><stop offset="0.759" stop-color="#4d4d4d"/><stop offset="0.793" stop-color="#4d4d4d"/><stop offset="0.828" stop-color="#4d4d4d"/><stop offset="0.862" stop-color="#4d4d4d"/><stop offset="0.897" stop-color="#4d4d4d"/><stop offset="0.931" stop-color="#4d4d4d"/><stop offset="0.966" stop-color="#4c4c4c"/><stop offset="1" stop-color="#4c4c4c"/></linearGradient>
<linearGradient id="g144" gradientUnits="userSpaceOnUse" x1="1345.0" x2="2018.5"><stop offset="0" stop-color="#131313"/><stop offset="0.036" stop-color="#131313"/><stop offset="0.071" stop-color="#191919"/><stop offset="0.107" stop-color="#262626"/><stop offset="0.143" stop-color="#2f2f2f"/><stop offset="0.179" stop-color="#363636"/><stop offset="0.214" stop-color="#3b3b3b"/><stop offset="0.25" stop-color="#3e3e3e"/><stop offset="0.286" stop-color="#414141"/><stop offset="0.321" stop-color="#434343"/><stop offset="0.357" stop-color="#454545"/><stop offset="0.393" stop-color="#464646"/><stop offset="0.429" stop-color="#484848"/><stop offset="0.464" stop-color="#484848"/><stop offset="0.5" stop-color="#494949"/><stop offset="0.536" stop-color="#494949"/><stop offset="0.571" stop-color="#494949"/><stop offset="0.607" stop-color="#494949"/><stop offset="0.643" stop-color="#494949"/><stop offset="0.679" stop-color="#494949"/><stop offset="0.714" stop-color="#494949"/><stop offset="0.75" stop-color="#494949"/><stop offset="0.786" stop-color="#494949"/><stop offset="0.821" stop-color="#494949"/><stop offset="0.857" stop-color="#494949"/><stop offset="0.893" stop-color="#494949"/><stop offset="0.929" stop-color="#494949"/><stop offset="0.964" stop-color="#494949"/><stop offset="1" stop-color="#494949"/></linearGradient>
<linearGradient id="g145" gradientUnits="userSpaceOnUse" x1="1360.1" x2="2003.4"><stop offset="0" stop-color="#131313"/><stop offset="0.038" stop-color="#141414"/><stop offset="0.077" stop-color="#1a1a1a"/><stop offset="0.115" stop-color="#272727"/><stop offset="0.154" stop-color="#303030"/><stop offset="0.192" stop-color="#363636"/><stop offset="0.231" stop-color="#3b3b3b"/><stop offset="0.269" stop-color="#3e3e3e"/><stop offset="0.308" stop-color="#414141"/><stop offset="0.346" stop-color="#434343"/><stop offset="0.385" stop-color="#454545"/><stop offset="0.423" stop-color="#474747"/><stop offset="0.462" stop-color="#484848"/><stop offset="0.5" stop-color="#494949"/><stop offset="0.538" stop-color="#494949"/><stop offset="0.577" stop-color="#494949"/><stop offset="0.615" stop-color="#484848"/><stop offset="0.654" stop-color="#484848"/><stop offset="0.692" stop-color="#474747"/><stop offset="0.731" stop-color="#474747"/><stop offset="0.769" stop-color="#474747"/><stop offset="0.808" stop-color="#464646"/><stop offset="0.846" stop-color="#464646"/><stop offset="0.885" stop-color="#464646"/><stop offset="0.923" stop-color="#464646"/><stop offset="0.962" stop-color="#464646"/><stop offset="1" stop-color="#464646"/></linearGradient>
<linearGradient id="g146" gradientUnits="userSpaceOnUse" x1="1375.3" x2="1988.3"><stop offset="0" stop-color="#141414"/><stop offset="0.04" stop-color="#151515"/><stop offset="0.08" stop-color="#1a1a1a"/><stop offset="0.12" stop-color="#272727"/><stop offset="0.16" stop-color="#303030"/><stop offset="0.2" stop-color="#363636"/><stop offset="0.24" stop-color="#3b3b3b"/><stop offset="0.28" stop-color="#3e3e3e"/><stop offset="0.32" stop-color="#414141"/><stop offset="0.36" stop-color="#444444"/><stop offset="0.4" stop-color="#464646"/><stop offset="0.44" stop-color="#484848"/><stop offset="0.48" stop-color="#494949"/><stop offset="0.52" stop-color="#4a4a4a"/><stop offset="0.56" stop-color="#4a4a4a"/><stop offset="0.6" stop-color="#494949"/><stop offset="0.64" stop-color="#484848"/><stop offset="0.68" stop-color="#474747"/><stop offset="0.72" stop-color="#464646"/><stop offset="0.76" stop-color="#464646"/><stop offset="0.8" stop-color="#454545"/><stop offset="0.84" stop-color="#454545"/><stop offset="0.88" stop-color="#454545"/><stop offset="0.92" stop-color="#454545"/><stop offset="0.96" stop-color="#454545"/><stop offset="1" stop-color="#454545"/></linearGradient>
<linearGradient id="g147" gradientUnits="userSpaceOnUse" x1="1390.4" x2="1973.1"><stop offset="0" stop-color="#161616"/><stop offset="0.042" stop-color="#171717"/><stop offset="0.083" stop-color="#1c1c1c"/><stop offset="0.125" stop-color="#282828"/><stop offset="0.167" stop-color="#303030"/><stop offset="0.208" stop-color="#363636"/><stop offset="0.25" stop-color="#3b3b3b"/><stop offset="0.292" stop-color="#3f3f3f"/><stop offset="0.333" stop-color="#424242"/><stop offset="0.375" stop-color="#454545"/><stop offset="0.417" stop-color="#484848"/><stop offset="0.458" stop-color="#4a4a4a"/><stop offset="0.5" stop-color="#4b4b4b"/><stop offset="0.542" stop-color="#4b4b4b"/><stop offset="0.583" stop-color="#4b4b4b"/><stop offset="0.625" stop-color="#4a4a4a"/><stop offset="0.667" stop-color="#484848"/><stop offset="0.708" stop-color="#474747"/><stop offset="0.75" stop-color="#464646"/><stop offset="0.792" stop-color="#454545"/><stop offset="0.833" stop-color="#454545"/><stop offset="0.875" stop-color="#454545"/><stop offset="0.917" stop-color="#454545"/><stop offset="0.958" stop-color="#454545"/><stop offset="1" stop-color="#454545"/></linearGradient>
<linearGradient id="g148" gradientUnits="userSpaceOnUse" x1="1405.5" x2="1958.0"><stop offset="0" stop-color="#1a1a1a"/><stop offset="0.043" stop-color="#1a1a1a"/><stop offset="0.087" stop-color="#1e1e1e"/><stop offset="0.13" stop-color="#292929"/><stop offset="0.174" stop-color="#313131"/><stop offset="0.217" stop-color="#373737"/><stop offset="0.261" stop-color="#3c3c3c"/><stop offset="0.304" stop-color="#404040"/><stop offset="0.348" stop-color="#434343"/><stop offset="0.391" stop-color="#464646"/><stop offset="0.435" stop-color="#494949"/><stop offset="0.478" stop-color="#4b4b4b"/><stop offset="0.522" stop-color="#4d4d4d"/><stop offset="0.565" stop-color="#4d4d4d"/><stop offset="0.609" stop-color="#4c4c4c"/><stop offset="0.652" stop-color="#4b4b4b"/><stop offset="0.696" stop-color="#4a4a4a"/><stop offset="0.739" stop-color="#494949"/><stop offset="0.783" stop-color="#484848"/><stop offset="0.826" stop-color="#484848"/><stop offset="0.87" stop-color="#484848"/><stop offset="0.913" stop-color="#484848"/><stop offset="0.957" stop-color="#494949"/><stop offset="1" stop-color="#4a4a4a"/></linearGradient>
<linearGradient id="g149" gradientUnits="userSpaceOnUse" x1="1420.7" x2="1942.9"><stop offset="0" stop-color="#1f1f1f"/><stop offset="0.045" stop-color="#1f1f1f"/><stop offset="0.091" stop-color="#232323"/><stop offset="0.136" stop-color="#2c2c2c"/><stop offset="0.182" stop-color="#333333"/><stop offset="0.227" stop-color="#393939"/><stop offset="0.273" stop-color="#3d3d3d"/><stop offset="0.318" stop-color="#414141"/><stop offset="0.364" stop-color="#454545"/><stop offset="0.409" stop-color="#484848"/><stop offset="0.455" stop-color="#4c4c4c"/><stop offset="0.5" stop-color="#4f4f4f"/><stop offset="0.545" stop-color="#515151"/><stop offset="0.591" stop-color="#515151"/><stop offset="0.636" stop-color="#515151"/><stop offset="0.682" stop-color="#515151"/><stop offset="0.727" stop-color="#515151"/><stop offset="0.773" stop-color="#515151"/><stop offset="0.818" stop-color="#515151"/><stop offset="0.864" stop-color="#525252"/><stop offset="0.909" stop-color="#545454"/><stop offset="0.955" stop-color="#555555"/><stop offset="1" stop-color="#575757"/></linearGradient>
<linearGradient id="g150" gradientUnits="userSpaceOnUse" x1="1435.8" x2="1927.7"><stop offset="0" stop-color="#262626"/><stop offset="0.05" stop-color="#262626"/><stop offset="0.1" stop-color="#2a2a2a"/><stop offset="0.15" stop-color="#323232"/><stop offset="0.2" stop-color="#383838"/><stop offset="0.25" stop-color="#3d3d3d"/><stop offset="0.3" stop-color="#424242"/><stop offset="0.35" stop-color="#474747"/><stop offset="0.4" stop-color="#4d4d4d"/><stop offset="0.45" stop-color="#545454"/><stop offset="0.5" stop-color="#5c5c5c"/><stop offset="0.55" stop-color="#616161"/><stop offset="0.6" stop-color="#626262"/><stop offset="0.65" stop-color="#646464"/><stop offset="0.7" stop-color="#656565"/><stop offset="0.75" stop-color="#666666"/><stop offset="0.8" stop-color="#676767"/><stop offset="0.85" stop-color="#696969"/><stop offset="0.9" stop-color="#6c6c6c"/><stop offset="0.95" stop-color="#6f6f6f"/><stop offset="1" stop-color="#727272"/></linearGradient>
<linearGradient id="g151" gradientUnits="userSpaceOnUse" x1="1450.9" x2="1912.6"><stop offset="0" stop-color="#2e2e2e"/><stop offset="0.053" stop-color="#2e2e2e"/><stop offset="0.105" stop-color="#323232"/><stop offset="0.158" stop-color="#383838"/><stop offset="0.211" stop-color="#3f3f3f"/><stop offset="0.263" stop-color="#454545"/><stop offset="0.316" stop-color="#4d4d4d"/><stop offset="0.368" stop-color="#575757"/><stop offset="0.421" stop-color="#636363"/><stop offset="0.474" stop-color="#707070"/><stop offset="0.526" stop-color="#7d7d7d"/><stop offset="0.579" stop-color="#818181"/><stop offset="0.632" stop-color="#848484"/><stop offset="0.684" stop-color="#878787"/><stop offset="0.737" stop-color="#898989"/><stop offset="0.789" stop-color="#8b8b8b"/><stop offset="0.842" stop-color="#8c8c8c"/><stop offset="0.895" stop-color="#8e8e8e"/><stop offset="0.947" stop-color="#919191"/><stop offset="1" stop-color="#939393"/></linearGradient>
<linearGradient id="g152" gradientUnits="userSpaceOnUse" x1="1466.1" x2="1897.5"><stop offset="0" stop-color="#363636"/><stop offset="0.056" stop-color="#383838"/><stop offset="0.111" stop-color="#3c3c3c"/><stop offset="0.167" stop-color="#444444"/><stop offset="0.222" stop-color="#4d4d4d"/><stop offset="0.278" stop-color="#595959"/><stop offset="0.333" stop-color="#676767"/><stop offset="0.389" stop-color="#777777"/><stop offset="0.444" stop-color="#898989"/><stop offset="0.5" stop-color="#9b9b9b"/><stop offset="0.556" stop-color="#a4a4a4"/><stop offset="0.611" stop-color="#a9a9a9"/><stop offset="0.667" stop-color="#adadad"/><stop offset="0.722" stop-color="#aeaeae"/><stop offset="0.778" stop-color="#afafaf"/><stop offset="0.833" stop-color="#aeaeae"/><stop offset="0.889" stop-color="#adadad"/><stop offset="0.944" stop-color="#acacac"/><stop offset="1" stop-color="#acacac"/></linearGradient>
<linearGradient id="g153" gradientUnits="userSpaceOnUse" x1="1481.2" x2="1882.3"><stop offset="0" stop-color="#424242"/><stop offset="0.059" stop-color="#494949"/><stop offset="0.118" stop-color="#525252"/><stop offset="0.176" stop-color="#606060"/><stop offset="0.235" stop-color="#6f6f6f"/><stop offset="0.294" stop-color="#808080"/><stop offset="0.353" stop-color="#929292"/><stop offset="0.412" stop-color="#a3a3a3"/><stop offset="0.471" stop-color="#b4b4b4"/><stop offset="0.529" stop-color="#c1c1c1"/><stop offset="0.588" stop-color="#c9c9c9"/><stop offset="0.647" stop-color="#cfcfcf"/><stop offset="0.706" stop-color="#d1d1d1"/><stop offset="0.765" stop-color="#cfcfcf"/><stop offset="0.824" stop-color="#cbcbcb"/><stop offset="0.882" stop-color="#c5c5c5"/><stop offset="0.941" stop-color="#bfbfbf"/><stop offset="1" stop-color="#bcbcbc"/></linearGradient>
<linearGradient id="g154" gradientUnits="userSpaceOnUse" x1="1496.3" x2="1867.2"><stop offset="0" stop-color="#5f5f5f"/><stop offset="0.062" stop-color="#6e6e6e"/><stop offset="0.125" stop-color="#7d7d7d"/><stop offset="0.188" stop-color="#8c8c8c"/><stop offset="0.25" stop-color="#999999"/><stop offset="0.312" stop-color="#a9a9a9"/><stop offset="0.375" stop-color="#b6b6b6"/><stop offset="0.438" stop-color="#c3c3c3"/><stop offset="0.5" stop-color="#d1d1d1"/><stop offset="0.562" stop-color="#dcdcdc"/><stop offset="0.625" stop-color="#e6e6e6"/><stop offset="0.688" stop-color="#ededed"/><stop offset="0.75" stop-color="#efefef"/><stop offset="0.812" stop-color="#e7e7e7"/><stop offset="0.875" stop-color="#dbdbdb"/><stop offset="0.938" stop-color="#d0d0d0"/><stop offset="1" stop-color="#c7c7c7"/></linearGradient>
<linearGradient id="g155" gradientUnits="userSpaceOnUse" x1="1511.5" x2="1852.1"><stop offset="0" stop-color="#8e8e8e"/><stop offset="0.071" stop-color="#9b9b9b"/><stop offset="0.143" stop-color="#a3a3a3"/><stop offset="0.214" stop-color="#a8a8a8"/><stop offset="0.286" stop-color="#b4b4b4"/><stop offset="0.357" stop-color="#c1c1c1"/><stop offset="0.429" stop-color="#cccccc"/><stop offset="0.5" stop-color="#d9d9d9"/><stop offset="0.571" stop-color="#e6e6e6"/><stop offset="0.643" stop-color="#f3f3f3"/><stop offset="0.714" stop-color="#ffffff"/><stop offset="0.786" stop-color="#ffffff"/><stop offset="0.857" stop-color="#f8f8f8"/><stop offset="0.929" stop-color="#e1e1e1"/><stop offset="1" stop-color="#d1d1d1"/></linearGradient>
<linearGradient id="g156" gradientUnits="userSpaceOnUse" x1="1526.6" x2="1836.9"><stop offset="0" stop-color="#aeaeae"/><stop offset="0.077" stop-color="#b2b2b2"/><stop offset="0.154" stop-color="#b2b2b2"/><stop offset="0.231" stop-color="#b6b6b6"/><stop offset="0.308" stop-color="#bfbfbf"/><stop offset="0.385" stop-color="#c6c6c6"/><stop offset="0.462" stop-color="#d0d0d0"/><stop offset="0.538" stop-color="#dadada"/><stop offset="0.615" stop-color="#e5e5e5"/><stop offset="0.692" stop-color="#efefef"/><stop offset="0.769" stop-color="#f7f7f7"/><stop offset="0.846" stop-color="#f4f4f4"/><stop offset="0.923" stop-color="#e4e4e4"/><stop offset="1" stop-color="#d5d5d5"/></linearGradient>
<linearGradient id="g157" gradientUnits="userSpaceOnUse" x1="1541.7" x2="1821.8"><stop offset="0" stop-color="#b9b9b9"/><stop offset="0.083" stop-color="#bababa"/><stop offset="0.167" stop-color="#bbbbbb"/><stop offset="0.25" stop-color="#bababa"/><stop offset="0.333" stop-color="#b7b7b7"/><stop offset="0.417" stop-color="#c2c2c2"/><stop offset="0.5" stop-color="#cccccc"/><stop offset="0.583" stop-color="#d2d2d2"/><stop offset="0.667" stop-color="#d7d7d7"/><stop offset="0.75" stop-color="#dadada"/><stop offset="0.833" stop-color="#dadada"/><stop offset="0.917" stop-color="#d6d6d6"/><stop offset="1" stop-color="#cfcfcf"/></linearGradient>
<linearGradient id="g158" gradientUnits="userSpaceOnUse" x1="1556.9" x2="1806.7"><stop offset="0" stop-color="#bcbcbc"/><stop offset="0.091" stop-color="#bcbcbc"/><stop offset="0.182" stop-color="#bababa"/><stop offset="0.273" stop-color="#a8a8a8"/><stop offset="0.364" stop-color="#aaaaaa"/><stop offset="0.455" stop-color="#bfbfbf"/><stop offset="0.545" stop-color="#c5c5c5"/><stop offset="0.636" stop-color="#c8c8c8"/><stop offset="0.727" stop-color="#cacaca"/><stop offset="0.818" stop-color="#cacaca"/><stop offset="0.909" stop-color="#c9c9c9"/><stop offset="1" stop-color="#c7c7c7"/></linearGradient>
<linearGradient id="g159" gradientUnits="userSpaceOnUse" x1="1572.0" x2="1791.5"><stop offset="0" stop-color="#bdbdbd"/><stop offset="0.1" stop-color="#bcbcbc"/><stop offset="0.2" stop-color="#b2b2b2"/><stop offset="0.3" stop-color="#a6a6a6"/><stop offset="0.4" stop-color="#b6b6b6"/><stop offset="0.5" stop-color="#bfbfbf"/><stop offset="0.6" stop-color="#c1c1c1"/><stop offset="0.7" stop-color="#c1c1c1"/><stop offset="0.8" stop-color="#c2c2c2"/><stop offset="0.9" stop-color="#c1c1c1"/><stop offset="1" stop-color="#c1c1c1"/></linearGradient>
<linearGradient id="g160" gradientUnits="userSpaceOnUse" x1="1587.1" x2="1776.4"><stop offset="0" stop-color="#bdbdbd"/><stop offset="0.125" stop-color="#bbbbbb"/><stop offset="0.25" stop-color="#b8b8b8"/><stop offset="0.375" stop-color="#bdbdbd"/><stop offset="0.5" stop-color="#c1c1c1"/><stop offset="0.625" stop-color="#c1c1c1"/><stop offset="0.75" stop-color="#bfbfbf"/><stop offset="0.875" stop-color="#bebebe"/><stop offset="1" stop-color="#bebebe"/></linearGradient>
<linearGradient id="g161" gradientUnits="userSpaceOnUse" x1="1602.2" x2="1761.3"><stop offset="0" stop-color="#bdbdbd"/><stop offset="0.143" stop-color="#bebebe"/><stop offset="0.286" stop-color="#c2c2c2"/><stop offset="0.429" stop-color="#c6c6c6"/><stop offset="0.571" stop-color="#c6c6c6"/><stop offset="0.714" stop-color="#c3c3c3"/><stop offset="0.857" stop-color="#c0c0c0"/><stop offset="1" stop-color="#bebebe"/></linearGradient>
<linearGradient id="g162" gradientUnits="userSpaceOnUse" x1="1617.4" x2="1746.1"><stop offset="0" stop-color="#bfbfbf"/><stop offset="0.167" stop-color="#c3c3c3"/><stop offset="0.333" stop-color="#cacaca"/><stop offset="0.5" stop-color="#cdcdcd"/><stop offset="0.667" stop-color="#cbcbcb"/><stop offset="0.833" stop-color="#c5c5c5"/><stop offset="1" stop-color="#c0c0c0"/></linearGradient>
<linearGradient id="g163" gradientUnits="userSpaceOnUse" x1="1632.5" x2="1731.0"><stop offset="0" stop-color="#c2c2c2"/><stop offset="0.2" stop-color="#c8c8c8"/><stop offset="0.4" stop-color="#cdcdcd"/><stop offset="0.6" stop-color="#cdcdcd"/><stop offset="0.8" stop-color="#c9c9c9"/><stop offset="1" stop-color="#c3c3c3"/></linearGradient>
<linearGradient id="g164" gradientUnits="userSpaceOnUse" x1="1647.6" x2="1715.9"><stop offset="0" stop-color="#c2c2c2"/><stop offset="0.25" stop-color="#c5c5c5"/><stop offset="0.5" stop-color="#c7c7c7"/><stop offset="0.75" stop-color="#c6c6c6"/><stop offset="1" stop-color="#c3c3c3"/></linearGradient>
<linearGradient id="g165" gradientUnits="userSpaceOnUse" x1="1662.8" x2="1700.7"><stop offset="0" stop-color="#c0c0c0"/><stop offset="0.25" stop-color="#c0c0c0"/><stop offset="0.5" stop-color="#c1c1c1"/><stop offset="0.75" stop-color="#c0c0c0"/><stop offset="1" stop-color="#c0c0c0"/></linearGradient>
<linearGradient id="g166" gradientUnits="userSpaceOnUse" x1="1677.9" x2="1685.6"><stop offset="0" stop-color="#bebebe"/><stop offset="0.25" stop-color="#bebebe"/><stop offset="0.5" stop-color="#bebebe"/><stop offset="0.75" stop-color="#bebebe"/><stop offset="1" stop-color="#bebebe"/></linearGradient>
<linearGradient id="g167" gradientUnits="userSpaceOnUse" x1="1693.0" x2="1670.5"><stop offset="0" stop-color="#bdbdbd"/><stop offset="0.25" stop-color="#bdbdbd"/><stop offset="0.5" stop-color="#bdbdbd"/><stop offset="0.75" stop-color="#bdbdbd"/><stop offset="1" stop-color="#bdbdbd"/></linearGradient>
<linearGradient id="g168" gradientUnits="userSpaceOnUse" x1="1708.2" x2="1655.3"><stop offset="0" stop-color="#bdbdbd"/><stop offset="0.25" stop-color="#bdbdbd"/><stop offset="0.5" stop-color="#bdbdbd"/><stop offset="0.75" stop-color="#bdbdbd"/><stop offset="1" stop-color="#bdbdbd"/></linearGradient>
<linearGradient id="g169" gradientUnits="userSpaceOnUse" x1="1708.2" x2="1655.3"><stop offset="0" stop-color="#bdbdbd"/><stop offset="0.25" stop-color="#bdbdbd"/><stop offset="0.5" stop-color="#bdbdbd"/><stop offset="0.75" stop-color="#bdbdbd"/><stop offset="1" stop-color="#bdbdbd"/></linearGradient>
<linearGradient id="g170" gradientUnits="userSpaceOnUse" x1="1708.2" x2="1655.3"><stop offset="0" stop-color="#bdbdbd"/><stop offset="0.25" stop-color="#bdbdbd"/><stop offset="0.5" stop-color="#bdbdbd"/><stop offset="0.75" stop-color="#bdbdbd"/><stop offset="1" stop-color="#bdbdbd"/></linearGradient>
<clipPath id="cpf"><polygon points="1306.7,1762.5 2060.7,1762.5 1681.8,2283.7"/></clipPath>
<linearGradient id="g171" gradientUnits="userSpaceOnUse" x1="1303.0" x2="2062.0"><stop offset="0" stop-color="#d5d5d5"/><stop offset="0.032" stop-color="#d0d0d0"/><stop offset="0.065" stop-color="#cbcbcb"/><stop offset="0.097" stop-color="#c6c6c6"/><stop offset="0.129" stop-color="#c1c1c1"/><stop offset="0.161" stop-color="#bbbbbb"/><stop offset="0.194" stop-color="#b6b6b6"/><stop offset="0.226" stop-color="#b1b1b1"/><stop offset="0.258" stop-color="#acacac"/><stop offset="0.29" stop-color="#a7a7a7"/><stop offset="0.323" stop-color="#a2a2a2"/><stop offset="0.355" stop-color="#9c9c9c"/><stop offset="0.387" stop-color="#949494"/><stop offset="0.419" stop-color="#8c8c8c"/><stop offset="0.452" stop-color="#848484"/><stop offset="0.484" stop-color="#7c7c7c"/><stop offset="0.516" stop-color="#747474"/><stop offset="0.548" stop-color="#6d6d6d"/><stop offset="0.581" stop-color="#656565"/><stop offset="0.613" stop-color="#5d5d5d"/><stop offset="0.645" stop-color="#575757"/><stop offset="0.677" stop-color="#505050"/><stop offset="0.71" stop-color="#4a4a4a"/><stop offset="0.742" stop-color="#434343"/><stop offset="0.774" stop-color="#3d3d3d"/><stop offset="0.806" stop-color="#363636"/><stop offset="0.839" stop-color="#2f2f2f"/><stop offset="0.871" stop-color="#2a2a2a"/><stop offset="0.903" stop-color="#272727"/><stop offset="0.935" stop-color="#313131"/><stop offset="0.968" stop-color="#414141"/><stop offset="1" stop-color="#3f3f3f"/></linearGradient>
<linearGradient id="g172" gradientUnits="userSpaceOnUse" x1="1303.0" x2="2062.0"><stop offset="0" stop-color="#d5d5d5"/><stop offset="0.032" stop-color="#d0d0d0"/><stop offset="0.065" stop-color="#cbcbcb"/><stop offset="0.097" stop-color="#c6c6c6"/><stop offset="0.129" stop-color="#c1c1c1"/><stop offset="0.161" stop-color="#bbbbbb"/><stop offset="0.194" stop-color="#b6b6b6"/><stop offset="0.226" stop-color="#b1b1b1"/><stop offset="0.258" stop-color="#acacac"/><stop offset="0.29" stop-color="#a7a7a7"/><stop offset="0.323" stop-color="#a2a2a2"/><stop offset="0.355" stop-color="#9c9c9c"/><stop offset="0.387" stop-color="#949494"/><stop offset="0.419" stop-color="#8c8c8c"/><stop offset="0.452" stop-color="#848484"/><stop offset="0.484" stop-color="#7c7c7c"/><stop offset="0.516" stop-color="#747474"/><stop offset="0.548" stop-color="#6d6d6d"/><stop offset="0.581" stop-color="#656565"/><stop offset="0.613" stop-color="#5d5d5d"/><stop offset="0.645" stop-color="#575757"/><stop offset="0.677" stop-color="#505050"/><stop offset="0.71" stop-color="#4a4a4a"/><stop offset="0.742" stop-color="#434343"/><stop offset="0.774" stop-color="#3d3d3d"/><stop offset="0.806" stop-color="#363636"/><stop offset="0.839" stop-color="#2f2f2f"/><stop offset="0.871" stop-color="#2a2a2a"/><stop offset="0.903" stop-color="#272727"/><stop offset="0.935" stop-color="#313131"/><stop offset="0.968" stop-color="#414141"/><stop offset="1" stop-color="#3f3f3f"/></linearGradient>
<linearGradient id="g173" gradientUnits="userSpaceOnUse" x1="1303.0" x2="2062.0"><stop offset="0" stop-color="#d5d5d5"/><stop offset="0.032" stop-color="#d0d0d0"/><stop offset="0.065" stop-color="#cbcbcb"/><stop offset="0.097" stop-color="#c6c6c6"/><stop offset="0.129" stop-color="#c1c1c1"/><stop offset="0.161" stop-color="#bbbbbb"/><stop offset="0.194" stop-color="#b6b6b6"/><stop offset="0.226" stop-color="#b1b1b1"/><stop offset="0.258" stop-color="#acacac"/><stop offset="0.29" stop-color="#a7a7a7"/><stop offset="0.323" stop-color="#a2a2a2"/><stop offset="0.355" stop-color="#9c9c9c"/><stop offset="0.387" stop-color="#949494"/><stop offset="0.419" stop-color="#8c8c8c"/><stop offset="0.452" stop-color="#848484"/><stop offset="0.484" stop-color="#7c7c7c"/><stop offset="0.516" stop-color="#747474"/><stop offset="0.548" stop-color="#6d6d6d"/><stop offset="0.581" stop-color="#656565"/><stop offset="0.613" stop-color="#5d5d5d"/><stop offset="0.645" stop-color="#575757"/><stop offset="0.677" stop-color="#505050"/><stop offset="0.71" stop-color="#4a4a4a"/><stop offset="0.742" stop-color="#434343"/><stop offset="0.774" stop-color="#3d3d3d"/><stop offset="0.806" stop-color="#363636"/><stop offset="0.839" stop-color="#2f2f2f"/><stop offset="0.871" stop-color="#2a2a2a"/><stop offset="0.903" stop-color="#272727"/><stop offset="0.935" stop-color="#313131"/><stop offset="0.968" stop-color="#414141"/><stop offset="1" stop-color="#3f3f3f"/></linearGradient>
<linearGradient id="g174" gradientUnits="userSpaceOnUse" x1="1303.0" x2="2062.0"><stop offset="0" stop-color="#d9d9d9"/><stop offset="0.032" stop-color="#d7d7d7"/><stop offset="0.065" stop-color="#d2d2d2"/><stop offset="0.097" stop-color="#cccccc"/><stop offset="0.129" stop-color="#c6c6c6"/><stop offset="0.161" stop-color="#c0c0c0"/><stop offset="0.194" stop-color="#bababa"/><stop offset="0.226" stop-color="#b4b4b4"/><stop offset="0.258" stop-color="#aeaeae"/><stop offset="0.29" stop-color="#a9a9a9"/><stop offset="0.323" stop-color="#a3a3a3"/><stop offset="0.355" stop-color="#9c9c9c"/><stop offset="0.387" stop-color="#959595"/><stop offset="0.419" stop-color="#8d8d8d"/><stop offset="0.452" stop-color="#858585"/><stop offset="0.484" stop-color="#7d7d7d"/><stop offset="0.516" stop-color="#757575"/><stop offset="0.548" stop-color="#6d6d6d"/><stop offset="0.581" stop-color="#656565"/><stop offset="0.613" stop-color="#5e5e5e"/><stop offset="0.645" stop-color="#565656"/><stop offset="0.677" stop-color="#4f4f4f"/><stop offset="0.71" stop-color="#484848"/><stop offset="0.742" stop-color="#414141"/><stop offset="0.774" stop-color="#3a3a3a"/><stop offset="0.806" stop-color="#323232"/><stop offset="0.839" stop-color="#2b2b2b"/><stop offset="0.871" stop-color="#242424"/><stop offset="0.903" stop-color="#1f1f1f"/><stop offset="0.935" stop-color="#1e1e1e"/><stop offset="0.968" stop-color="#1d1d1d"/><stop offset="1" stop-color="#1a1a1a"/></linearGradient>
<linearGradient id="g175" gradientUnits="userSpaceOnUse" x1="1303.0" x2="2062.0"><stop offset="0" stop-color="#dbdbdb"/><stop offset="0.032" stop-color="#dadada"/><stop offset="0.065" stop-color="#d9d9d9"/><stop offset="0.097" stop-color="#d4d4d4"/><stop offset="0.129" stop-color="#cdcdcd"/><stop offset="0.161" stop-color="#c6c6c6"/><stop offset="0.194" stop-color="#bfbfbf"/><stop offset="0.226" stop-color="#b8b8b8"/><stop offset="0.258" stop-color="#b2b2b2"/><stop offset="0.29" stop-color="#ababab"/><stop offset="0.323" stop-color="#a4a4a4"/><stop offset="0.355" stop-color="#9d9d9d"/><stop offset="0.387" stop-color="#959595"/><stop offset="0.419" stop-color="#8d8d8d"/><stop offset="0.452" stop-color="#858585"/><stop offset="0.484" stop-color="#7d7d7d"/><stop offset="0.516" stop-color="#767676"/><stop offset="0.548" stop-color="#6e6e6e"/><stop offset="0.581" stop-color="#666666"/><stop offset="0.613" stop-color="#5e5e5e"/><stop offset="0.645" stop-color="#565656"/><stop offset="0.677" stop-color="#4e4e4e"/><stop offset="0.71" stop-color="#464646"/><stop offset="0.742" stop-color="#3e3e3e"/><stop offset="0.774" stop-color="#363636"/><stop offset="0.806" stop-color="#2e2e2e"/><stop offset="0.839" stop-color="#262626"/><stop offset="0.871" stop-color="#1f1f1f"/><stop offset="0.903" stop-color="#1b1b1b"/><stop offset="0.935" stop-color="#171717"/><stop offset="0.968" stop-color="#141414"/><stop offset="1" stop-color="#121212"/></linearGradient>
<linearGradient id="g176" gradientUnits="userSpaceOnUse" x1="1312.0" x2="2047.8"><stop offset="0" stop-color="#dddddd"/><stop offset="0.033" stop-color="#dbdbdb"/><stop offset="0.067" stop-color="#dadada"/><stop offset="0.1" stop-color="#d9d9d9"/><stop offset="0.133" stop-color="#d3d3d3"/><stop offset="0.167" stop-color="#cbcbcb"/><stop offset="0.2" stop-color="#c3c3c3"/><stop offset="0.233" stop-color="#bbbbbb"/><stop offset="0.267" stop-color="#b3b3b3"/><stop offset="0.3" stop-color="#ababab"/><stop offset="0.333" stop-color="#a3a3a3"/><stop offset="0.367" stop-color="#9b9b9b"/><stop offset="0.4" stop-color="#939393"/><stop offset="0.433" stop-color="#8b8b8b"/><stop offset="0.467" stop-color="#838383"/><stop offset="0.5" stop-color="#7b7b7b"/><stop offset="0.533" stop-color="#737373"/><stop offset="0.567" stop-color="#6b6b6b"/><stop offset="0.6" stop-color="#636363"/><stop offset="0.633" stop-color="#5b5b5b"/><stop offset="0.667" stop-color="#525252"/><stop offset="0.7" stop-color="#494949"/><stop offset="0.733" stop-color="#404040"/><stop offset="0.767" stop-color="#383838"/><stop offset="0.8" stop-color="#2f2f2f"/><stop offset="0.833" stop-color="#262626"/><stop offset="0.867" stop-color="#1f1f1f"/><stop offset="0.9" stop-color="#1b1b1b"/><stop offset="0.933" stop-color="#171717"/><stop offset="0.967" stop-color="#131313"/><stop offset="1" stop-color="#121212"/></linearGradient>
<linearGradient id="g177" gradientUnits="userSpaceOnUse" x1="1327.2" x2="2032.6"><stop offset="0" stop-color="#dedede"/><stop offset="0.034" stop-color="#dddddd"/><stop offset="0.069" stop-color="#dbdbdb"/><stop offset="0.103" stop-color="#dadada"/><stop offset="0.138" stop-color="#d8d8d8"/><stop offset="0.172" stop-color="#cfcfcf"/><stop offset="0.207" stop-color="#c6c6c6"/><stop offset="0.241" stop-color="#bcbcbc"/><stop offset="0.276" stop-color="#b3b3b3"/><stop offset="0.31" stop-color="#aaaaaa"/><stop offset="0.345" stop-color="#a0a0a0"/><stop offset="0.379" stop-color="#989898"/><stop offset="0.414" stop-color="#909090"/><stop offset="0.448" stop-color="#898989"/><stop offset="0.483" stop-color="#818181"/><stop offset="0.517" stop-color="#797979"/><stop offset="0.552" stop-color="#717171"/><stop offset="0.586" stop-color="#6a6a6a"/><stop offset="0.621" stop-color="#626262"/><stop offset="0.655" stop-color="#595959"/><stop offset="0.69" stop-color="#505050"/><stop offset="0.724" stop-color="#484848"/><stop offset="0.759" stop-color="#3f3f3f"/><stop offset="0.793" stop-color="#363636"/><stop offset="0.828" stop-color="#2d2d2d"/><stop offset="0.862" stop-color="#242424"/><stop offset="0.897" stop-color="#1e1e1e"/><stop offset="0.931" stop-color="#1a1a1a"/><stop offset="0.966" stop-color="#161616"/><stop offset="1" stop-color="#121212"/></linearGradient>
<linearGradient id="g178" gradientUnits="userSpaceOnUse" x1="1342.4" x2="2017.4"><stop offset="0" stop-color="#e0e0e0"/><stop offset="0.036" stop-color="#dfdfdf"/><stop offset="0.071" stop-color="#dddddd"/><stop offset="0.107" stop-color="#dbdbdb"/><stop offset="0.143" stop-color="#dadada"/><stop offset="0.179" stop-color="#d4d4d4"/><stop offset="0.214" stop-color="#c9c9c9"/><stop offset="0.25" stop-color="#bebebe"/><stop offset="0.286" stop-color="#b3b3b3"/><stop offset="0.321" stop-color="#a8a8a8"/><stop offset="0.357" stop-color="#9d9d9d"/><stop offset="0.393" stop-color="#959595"/><stop offset="0.429" stop-color="#8e8e8e"/><stop offset="0.464" stop-color="#868686"/><stop offset="0.5" stop-color="#7f7f7f"/><stop offset="0.536" stop-color="#777777"/><stop offset="0.571" stop-color="#707070"/><stop offset="0.607" stop-color="#686868"/><stop offset="0.643" stop-color="#616161"/><stop offset="0.679" stop-color="#585858"/><stop offset="0.714" stop-color="#4f4f4f"/><stop offset="0.75" stop-color="#464646"/><stop offset="0.786" stop-color="#3d3d3d"/><stop offset="0.821" stop-color="#343434"/><stop offset="0.857" stop-color="#2b2b2b"/><stop offset="0.893" stop-color="#222222"/><stop offset="0.929" stop-color="#1d1d1d"/><stop offset="0.964" stop-color="#191919"/><stop offset="1" stop-color="#151515"/></linearGradient>
<linearGradient id="g179" gradientUnits="userSpaceOnUse" x1="1357.5" x2="2002.3"><stop offset="0" stop-color="#e1e1e1"/><stop offset="0.038" stop-color="#e1e1e1"/><stop offset="0.077" stop-color="#dfdfdf"/><stop offset="0.115" stop-color="#dddddd"/><stop offset="0.154" stop-color="#dbdbdb"/><stop offset="0.192" stop-color="#d9d9d9"/><stop offset="0.231" stop-color="#cbcbcb"/><stop offset="0.269" stop-color="#bdbdbd"/><stop offset="0.308" stop-color="#afafaf"/><stop offset="0.346" stop-color="#a0a0a0"/><stop offset="0.385" stop-color="#989898"/><stop offset="0.423" stop-color="#909090"/><stop offset="0.462" stop-color="#888888"/><stop offset="0.5" stop-color="#818181"/><stop offset="0.538" stop-color="#797979"/><stop offset="0.577" stop-color="#717171"/><stop offset="0.615" stop-color="#6a6a6a"/><stop offset="0.654" stop-color="#626262"/><stop offset="0.692" stop-color="#595959"/><stop offset="0.731" stop-color="#505050"/><stop offset="0.769" stop-color="#464646"/><stop offset="0.808" stop-color="#3d3d3d"/><stop offset="0.846" stop-color="#333333"/><stop offset="0.885" stop-color="#2a2a2a"/><stop offset="0.923" stop-color="#212121"/><stop offset="0.962" stop-color="#1c1c1c"/><stop offset="1" stop-color="#181818"/></linearGradient>
<linearGradient id="g180" gradientUnits="userSpaceOnUse" x1="1372.7" x2="1987.1"><stop offset="0" stop-color="#e1e1e1"/><stop offset="0.04" stop-color="#e1e1e1"/><stop offset="0.08" stop-color="#e0e0e0"/><stop offset="0.12" stop-color="#dedede"/><stop offset="0.16" stop-color="#dbdbdb"/><stop offset="0.2" stop-color="#d9d9d9"/><stop offset="0.24" stop-color="#cdcdcd"/><stop offset="0.28" stop-color="#bfbfbf"/><stop offset="0.32" stop-color="#b0b0b0"/><stop offset="0.36" stop-color="#a2a2a2"/><stop offset="0.4" stop-color="#989898"/><stop offset="0.44" stop-color="#909090"/><stop offset="0.48" stop-color="#888888"/><stop offset="0.52" stop-color="#818181"/><stop offset="0.56" stop-color="#797979"/><stop offset="0.6" stop-color="#717171"/><stop offset="0.64" stop-color="#696969"/><stop offset="0.68" stop-color="#616161"/><stop offset="0.72" stop-color="#575757"/><stop offset="0.76" stop-color="#4e4e4e"/><stop offset="0.8" stop-color="#444444"/><stop offset="0.84" stop-color="#3a3a3a"/><stop offset="0.88" stop-color="#303030"/><stop offset="0.92" stop-color="#262626"/><stop offset="0.96" stop-color="#1e1e1e"/><stop offset="1" stop-color="#1b1b1b"/></linearGradient>
<linearGradient id="g181" gradientUnits="userSpaceOnUse" x1="1387.9" x2="1971.9"><stop offset="0" stop-color="#e1e1e1"/><stop offset="0.042" stop-color="#e1e1e1"/><stop offset="0.083" stop-color="#dfdfdf"/><stop offset="0.125" stop-color="#dedede"/><stop offset="0.167" stop-color="#dbdbdb"/><stop offset="0.208" stop-color="#d9d9d9"/><stop offset="0.25" stop-color="#cecece"/><stop offset="0.292" stop-color="#c1c1c1"/><stop offset="0.333" stop-color="#b3b3b3"/><stop offset="0.375" stop-color="#a5a5a5"/><stop offset="0.417" stop-color="#9a9a9a"/><stop offset="0.458" stop-color="#929292"/><stop offset="0.5" stop-color="#8a8a8a"/><stop offset="0.542" stop-color="#818181"/><stop offset="0.583" stop-color="#797979"/><stop offset="0.625" stop-color="#717171"/><stop offset="0.667" stop-color="#686868"/><stop offset="0.708" stop-color="#606060"/><stop offset="0.75" stop-color="#565656"/><stop offset="0.792" stop-color="#4b4b4b"/><stop offset="0.833" stop-color="#414141"/><stop offset="0.875" stop-color="#363636"/><stop offset="0.917" stop-color="#2c2c2c"/><stop offset="0.958" stop-color="#212121"/><stop offset="1" stop-color="#1d1d1d"/></linearGradient>
<linearGradient id="g182" gradientUnits="userSpaceOnUse" x1="1403.0" x2="1956.8"><stop offset="0" stop-color="#e1e1e1"/><stop offset="0.043" stop-color="#e1e1e1"/><stop offset="0.087" stop-color="#dfdfdf"/><stop offset="0.13" stop-color="#dfdfdf"/><stop offset="0.174" stop-color="#dbdbdb"/><stop offset="0.217" stop-color="#d9d9d9"/><stop offset="0.261" stop-color="#cfcfcf"/><stop offset="0.304" stop-color="#c2c2c2"/><stop offset="0.348" stop-color="#b5b5b5"/><stop offset="0.391" stop-color="#a9a9a9"/><stop offset="0.435" stop-color="#9d9d9d"/><stop offset="0.478" stop-color="#949494"/><stop offset="0.522" stop-color="#8b8b8b"/><stop offset="0.565" stop-color="#828282"/><stop offset="0.609" stop-color="#7a7a7a"/><stop offset="0.652" stop-color="#717171"/><stop offset="0.696" stop-color="#686868"/><stop offset="0.739" stop-color="#5f5f5f"/><stop offset="0.783" stop-color="#545454"/><stop offset="0.826" stop-color="#494949"/><stop offset="0.87" stop-color="#3d3d3d"/><stop offset="0.913" stop-color="#323232"/><stop offset="0.957" stop-color="#272727"/><stop offset="1" stop-color="#1f1f1f"/></linearGradient>
<linearGradient id="g183" gradientUnits="userSpaceOnUse" x1="1418.2" x2="1941.6"><stop offset="0" stop-color="#e1e1e1"/><stop offset="0.045" stop-color="#e1e1e1"/><stop offset="0.091" stop-color="#e1e1e1"/><stop offset="0.136" stop-color="#e3e3e3"/><stop offset="0.182" stop-color="#dcdcdc"/><stop offset="0.227" stop-color="#d9d9d9"/><stop offset="0.273" stop-color="#d1d1d1"/><stop offset="0.318" stop-color="#c4c4c4"/><stop offset="0.364" stop-color="#b8b8b8"/><stop offset="0.409" stop-color="#ababab"/><stop offset="0.455" stop-color="#9f9f9f"/><stop offset="0.5" stop-color="#959595"/><stop offset="0.545" stop-color="#8c8c8c"/><stop offset="0.591" stop-color="#838383"/><stop offset="0.636" stop-color="#7a7a7a"/><stop offset="0.682" stop-color="#707070"/><stop offset="0.727" stop-color="#676767"/><stop offset="0.773" stop-color="#5d5d5d"/><stop offset="0.818" stop-color="#525252"/><stop offset="0.864" stop-color="#464646"/><stop offset="0.909" stop-color="#3a3a3a"/><stop offset="0.955" stop-color="#2e2e2e"/><stop offset="1" stop-color="#232323"/></linearGradient>
<linearGradient id="g184" gradientUnits="userSpaceOnUse" x1="1433.4" x2="1926.4"><stop offset="0" stop-color="#e1e1e1"/><stop offset="0.05" stop-color="#e1e1e1"/><stop offset="0.1" stop-color="#e6e6e6"/><stop offset="0.15" stop-color="#e9e9e9"/><stop offset="0.2" stop-color="#dddddd"/><stop offset="0.25" stop-color="#dadada"/><stop offset="0.3" stop-color="#d3d3d3"/><stop offset="0.35" stop-color="#c4c4c4"/><stop offset="0.4" stop-color="#b6b6b6"/><stop offset="0.45" stop-color="#a8a8a8"/><stop offset="0.5" stop-color="#9b9b9b"/><stop offset="0.55" stop-color="#919191"/><stop offset="0.6" stop-color="#868686"/><stop offset="0.65" stop-color="#7c7c7c"/><stop offset="0.7" stop-color="#727272"/><stop offset="0.75" stop-color="#686868"/><stop offset="0.8" stop-color="#5d5d5d"/><stop offset="0.85" stop-color="#505050"/><stop offset="0.9" stop-color="#444444"/><stop offset="0.95" stop-color="#383838"/><stop offset="1" stop-color="#2b2b2b"/></linearGradient>
<linearGradient id="g185" gradientUnits="userSpaceOnUse" x1="1448.5" x2="1911.3"><stop offset="0" stop-color="#e1e1e1"/><stop offset="0.053" stop-color="#e1e1e1"/><stop offset="0.105" stop-color="#eaeaea"/><stop offset="0.158" stop-color="#efefef"/><stop offset="0.211" stop-color="#dfdfdf"/><stop offset="0.263" stop-color="#dbdbdb"/><stop offset="0.316" stop-color="#d9d9d9"/><stop offset="0.368" stop-color="#cacaca"/><stop offset="0.421" stop-color="#bababa"/><stop offset="0.474" stop-color="#aaaaaa"/><stop offset="0.526" stop-color="#9c9c9c"/><stop offset="0.579" stop-color="#919191"/><stop offset="0.632" stop-color="#868686"/><stop offset="0.684" stop-color="#7b7b7b"/><stop offset="0.737" stop-color="#707070"/><stop offset="0.789" stop-color="#656565"/><stop offset="0.842" stop-color="#5a5a5a"/><stop offset="0.895" stop-color="#4d4d4d"/><stop offset="0.947" stop-color="#414141"/><stop offset="1" stop-color="#343434"/></linearGradient>
<linearGradient id="g186" gradientUnits="userSpaceOnUse" x1="1463.7" x2="1896.1"><stop offset="0" stop-color="#e1e1e1"/><stop offset="0.056" stop-color="#e1e1e1"/><stop offset="0.111" stop-color="#eaeaea"/><stop offset="0.167" stop-color="#eeeeee"/><stop offset="0.222" stop-color="#dfdfdf"/><stop offset="0.278" stop-color="#dbdbdb"/><stop offset="0.333" stop-color="#d9d9d9"/><stop offset="0.389" stop-color="#c8c8c8"/><stop offset="0.444" stop-color="#b7b7b7"/><stop offset="0.5" stop-color="#a6a6a6"/><stop offset="0.556" stop-color="#989898"/><stop offset="0.611" stop-color="#8d8d8d"/><stop offset="0.667" stop-color="#828282"/><stop offset="0.722" stop-color="#777777"/><stop offset="0.778" stop-color="#6d6d6d"/><stop offset="0.833" stop-color="#626262"/><stop offset="0.889" stop-color="#555555"/><stop offset="0.944" stop-color="#494949"/><stop offset="1" stop-color="#3c3c3c"/></linearGradient>
<linearGradient id="g187" gradientUnits="userSpaceOnUse" x1="1478.9" x2="1880.9"><stop offset="0" stop-color="#e1e1e1"/><stop offset="0.059" stop-color="#e1e1e1"/><stop offset="0.118" stop-color="#e7e7e7"/><stop offset="0.176" stop-color="#eaeaea"/><stop offset="0.235" stop-color="#dfdfdf"/><stop offset="0.294" stop-color="#dcdcdc"/><stop offset="0.353" stop-color="#d9d9d9"/><stop offset="0.412" stop-color="#c6c6c6"/><stop offset="0.471" stop-color="#b4b4b4"/><stop offset="0.529" stop-color="#a1a1a1"/><stop offset="0.588" stop-color="#959595"/><stop offset="0.647" stop-color="#8a8a8a"/><stop offset="0.706" stop-color="#7f7f7f"/><stop offset="0.765" stop-color="#747474"/><stop offset="0.824" stop-color="#696969"/><stop offset="0.882" stop-color="#5e5e5e"/><stop offset="0.941" stop-color="#525252"/><stop offset="1" stop-color="#454545"/></linearGradient>
<linearGradient id="g188" gradientUnits="userSpaceOnUse" x1="1494.0" x2="1865.8"><stop offset="0" stop-color="#e1e1e1"/><stop offset="0.062" stop-color="#e1e1e1"/><stop offset="0.125" stop-color="#e4e4e4"/><stop offset="0.188" stop-color="#e5e5e5"/><stop offset="0.25" stop-color="#e0e0e0"/><stop offset="0.312" stop-color="#dddddd"/><stop offset="0.375" stop-color="#dadada"/><stop offset="0.438" stop-color="#cfcfcf"/><stop offset="0.5" stop-color="#bcbcbc"/><stop offset="0.562" stop-color="#a9a9a9"/><stop offset="0.625" stop-color="#989898"/><stop offset="0.688" stop-color="#8b8b8b"/><stop offset="0.75" stop-color="#7d7d7d"/><stop offset="0.812" stop-color="#707070"/><stop offset="0.875" stop-color="#626262"/><stop offset="0.938" stop-color="#565656"/><stop offset="1" stop-color="#494949"/></linearGradient>
<linearGradient id="g189" gradientUnits="userSpaceOnUse" x1="1509.2" x2="1850.6"><stop offset="0" stop-color="#e1e1e1"/><stop offset="0.071" stop-color="#e1e1e1"/><stop offset="0.143" stop-color="#e2e2e2"/><stop offset="0.214" stop-color="#e2e2e2"/><stop offset="0.286" stop-color="#e1e1e1"/><stop offset="0.357" stop-color="#dedede"/><stop offset="0.429" stop-color="#dbdbdb"/><stop offset="0.5" stop-color="#d3d3d3"/><stop offset="0.571" stop-color="#bebebe"/><stop offset="0.643" stop-color="#a9a9a9"/><stop offset="0.714" stop-color="#949494"/><stop offset="0.786" stop-color="#808080"/><stop offset="0.857" stop-color="#6b6b6b"/><stop offset="0.929" stop-color="#595959"/><stop offset="1" stop-color="#4c4c4c"/></linearGradient>
<linearGradient id="g190" gradientUnits="userSpaceOnUse" x1="1524.4" x2="1835.4"><stop offset="0" stop-color="#e1e1e1"/><stop offset="0.077" stop-color="#e1e1e1"/><stop offset="0.154" stop-color="#e1e1e1"/><stop offset="0.231" stop-color="#e1e1e1"/><stop offset="0.308" stop-color="#e1e1e1"/><stop offset="0.385" stop-color="#e0e0e0"/><stop offset="0.462" stop-color="#dddddd"/><stop offset="0.538" stop-color="#d9d9d9"/><stop offset="0.615" stop-color="#c3c3c3"/><stop offset="0.692" stop-color="#aaaaaa"/><stop offset="0.769" stop-color="#919191"/><stop offset="0.846" stop-color="#767676"/><stop offset="0.923" stop-color="#5d5d5d"/><stop offset="1" stop-color="#4f4f4f"/></linearGradient>
<linearGradient id="g191" gradientUnits="userSpaceOnUse" x1="1539.5" x2="1820.3"><stop offset="0" stop-color="#e1e1e1"/><stop offset="0.083" stop-color="#e1e1e1"/><stop offset="0.167" stop-color="#e1e1e1"/><stop offset="0.25" stop-color="#e1e1e1"/><stop offset="0.333" stop-color="#e1e1e1"/><stop offset="0.417" stop-color="#e0e0e0"/><stop offset="0.5" stop-color="#dcdcdc"/><stop offset="0.583" stop-color="#d3d3d3"/><stop offset="0.667" stop-color="#b6b6b6"/><stop offset="0.75" stop-color="#9a9a9a"/><stop offset="0.833" stop-color="#7c7c7c"/><stop offset="0.917" stop-color="#5f5f5f"/><stop offset="1" stop-color="#505050"/></linearGradient>
<linearGradient id="g192" gradientUnits="userSpaceOnUse" x1="1554.7" x2="1805.1"><stop offset="0" stop-color="#e1e1e1"/><stop offset="0.091" stop-color="#e1e1e1"/><stop offset="0.182" stop-color="#e1e1e1"/><stop offset="0.273" stop-color="#e1e1e1"/><stop offset="0.364" stop-color="#dedede"/><stop offset="0.455" stop-color="#dadada"/><stop offset="0.545" stop-color="#c3c3c3"/><stop offset="0.636" stop-color="#a7a7a7"/><stop offset="0.727" stop-color="#8b8b8b"/><stop offset="0.818" stop-color="#717171"/><stop offset="0.909" stop-color="#5b5b5b"/><stop offset="1" stop-color="#4d4d4d"/></linearGradient>
<linearGradient id="g193" gradientUnits="userSpaceOnUse" x1="1569.9" x2="1789.9"><stop offset="0" stop-color="#e0e0e0"/><stop offset="0.1" stop-color="#dddddd"/><stop offset="0.2" stop-color="#dadada"/><stop offset="0.3" stop-color="#cccccc"/><stop offset="0.4" stop-color="#b8b8b8"/><stop offset="0.5" stop-color="#a4a4a4"/><stop offset="0.6" stop-color="#8f8f8f"/><stop offset="0.7" stop-color="#797979"/><stop offset="0.8" stop-color="#646464"/><stop offset="0.9" stop-color="#545454"/><stop offset="1" stop-color="#454545"/></linearGradient>
<linearGradient id="g194" gradientUnits="userSpaceOnUse" x1="1585.0" x2="1774.8"><stop offset="0" stop-color="#d3d3d3"/><stop offset="0.125" stop-color="#c2c2c2"/><stop offset="0.25" stop-color="#b2b2b2"/><stop offset="0.375" stop-color="#a1a1a1"/><stop offset="0.5" stop-color="#8c8c8c"/><stop offset="0.625" stop-color="#777777"/><stop offset="0.75" stop-color="#616161"/><stop offset="0.875" stop-color="#4e4e4e"/><stop offset="1" stop-color="#3c3c3c"/></linearGradient>
<linearGradient id="g195" gradientUnits="userSpaceOnUse" x1="1600.2" x2="1759.6"><stop offset="0" stop-color="#b2b2b2"/><stop offset="0.143" stop-color="#a5a5a5"/><stop offset="0.286" stop-color="#959595"/><stop offset="0.429" stop-color="#828282"/><stop offset="0.571" stop-color="#6f6f6f"/><stop offset="0.714" stop-color="#5b5b5b"/><stop offset="0.857" stop-color="#454545"/><stop offset="1" stop-color="#303030"/></linearGradient>
<linearGradient id="g196" gradientUnits="userSpaceOnUse" x1="1615.4" x2="1744.4"><stop offset="0" stop-color="#8c8c8c"/><stop offset="0.167" stop-color="#7e7e7e"/><stop offset="0.333" stop-color="#707070"/><stop offset="0.5" stop-color="#636363"/><stop offset="0.667" stop-color="#4d4d4d"/><stop offset="0.833" stop-color="#353535"/><stop offset="1" stop-color="#1f1f1f"/></linearGradient>
<linearGradient id="g197" gradientUnits="userSpaceOnUse" x1="1630.5" x2="1729.3"><stop offset="0" stop-color="#686868"/><stop offset="0.2" stop-color="#575757"/><stop offset="0.4" stop-color="#3d3d3d"/><stop offset="0.6" stop-color="#232323"/><stop offset="0.8" stop-color="#1d1d1d"/><stop offset="1" stop-color="#1a1a1a"/></linearGradient>
<linearGradient id="g198" gradientUnits="userSpaceOnUse" x1="1645.7" x2="1714.1"><stop offset="0" stop-color="#373737"/><stop offset="0.25" stop-color="#202020"/><stop offset="0.5" stop-color="#1d1d1d"/><stop offset="0.75" stop-color="#1a1a1a"/><stop offset="1" stop-color="#181818"/></linearGradient>
<linearGradient id="g199" gradientUnits="userSpaceOnUse" x1="1660.9" x2="1698.9"><stop offset="0" stop-color="#232323"/><stop offset="0.25" stop-color="#1f1f1f"/><stop offset="0.5" stop-color="#1d1d1d"/><stop offset="0.75" stop-color="#1c1c1c"/><stop offset="1" stop-color="#1a1a1a"/></linearGradient>
<linearGradient id="g200" gradientUnits="userSpaceOnUse" x1="1676.0" x2="1683.8"><stop offset="0" stop-color="#1e1e1e"/><stop offset="0.25" stop-color="#1e1e1e"/><stop offset="0.5" stop-color="#1d1d1d"/><stop offset="0.75" stop-color="#1d1d1d"/><stop offset="1" stop-color="#1d1d1d"/></linearGradient>
<linearGradient id="g201" gradientUnits="userSpaceOnUse" x1="1691.2" x2="1668.6"><stop offset="0" stop-color="#1b1b1b"/><stop offset="0.25" stop-color="#1c1c1c"/><stop offset="0.5" stop-color="#1d1d1d"/><stop offset="0.75" stop-color="#1e1e1e"/><stop offset="1" stop-color="#1f1f1f"/></linearGradient>
<linearGradient id="g202" gradientUnits="userSpaceOnUse" x1="1706.4" x2="1653.4"><stop offset="0" stop-color="#191919"/><stop offset="0.25" stop-color="#1b1b1b"/><stop offset="0.5" stop-color="#1d1d1d"/><stop offset="0.75" stop-color="#1f1f1f"/><stop offset="1" stop-color="#2d2d2d"/></linearGradient>
<linearGradient id="g203" gradientUnits="userSpaceOnUse" x1="1706.4" x2="1653.4"><stop offset="0" stop-color="#191919"/><stop offset="0.25" stop-color="#1b1b1b"/><stop offset="0.5" stop-color="#1d1d1d"/><stop offset="0.75" stop-color="#1f1f1f"/><stop offset="1" stop-color="#2d2d2d"/></linearGradient>
<linearGradient id="g204" gradientUnits="userSpaceOnUse" x1="1706.4" x2="1653.4"><stop offset="0" stop-color="#191919"/><stop offset="0.25" stop-color="#1b1b1b"/><stop offset="0.5" stop-color="#1d1d1d"/><stop offset="0.75" stop-color="#1f1f1f"/><stop offset="1" stop-color="#2d2d2d"/></linearGradient>
<clipPath id="cpg"><polygon points="1304.0,2452.0 2059.7,2452.0 1679.9,2978.6"/></clipPath>
<linearGradient id="rb1" gradientUnits="userSpaceOnUse" x1="1383" y1="171" x2="1497" y2="269"><stop offset="0" stop-color="#b86272"/><stop offset=".25" stop-color="#d67686"/><stop offset=".55" stop-color="#e68898"/><stop offset=".85" stop-color="#dc7c8c"/><stop offset="1" stop-color="#be6c7c"/></linearGradient>
<linearGradient id="rb2" gradientUnits="userSpaceOnUse" x1="1395" y1="432" x2="1530" y2="545"><stop offset="0" stop-color="#b86272"/><stop offset=".25" stop-color="#d67686"/><stop offset=".55" stop-color="#e68898"/><stop offset=".85" stop-color="#dc7c8c"/><stop offset="1" stop-color="#be6c7c"/></linearGradient>
<linearGradient id="bb" gradientUnits="userSpaceOnUse" x1="800" y1="115" x2="762" y2="200"><stop offset="0" stop-color="#5a5ae8"/><stop offset=".3" stop-color="#6a6afa"/><stop offset=".7" stop-color="#6464f6"/><stop offset="1" stop-color="#5050e0"/></linearGradient>
<linearGradient id="pb" gradientUnits="userSpaceOnUse" x1="700" y1="385" x2="665" y2="505"><stop offset="0" stop-color="#f090c4"/><stop offset=".3" stop-color="#ffa0d4"/><stop offset=".7" stop-color="#fc9cd0"/><stop offset="1" stop-color="#ec88be"/></linearGradient>
<g id="mk"><rect x="-22.5" y="-27" width="14" height="31" rx="5" fill="#f6f61c" transform="skewX(4)"/><path d="M-20 3h12.500v-11.500h16.500v18h-29z" fill="#7c04ec"/><path d="M-20 7h29v2.500h-29z" fill="#5c04b4"/><rect x="8" y="-20.500" width="14.500" height="47.500" rx="6" fill="#f6f61c"/></g>
</defs>
<rect width="2244" height="3273" fill="#fff"/>
<!--TOP-->
<polygon points="908,262 1657,262 1795,903.5 765,899" fill="#a5a5fa"/>
<polygon points="765,899 1795,903.5 1775,966 783,959" fill="#8f8fe8"/>
<g><use href="#mk" transform="translate(876.4 813.9) scale(0.940)"/><use href="#mk" transform="translate(987.1 813.9) scale(0.940)"/><use href="#mk" transform="translate(1097.8 813.9) scale(0.940)"/><use href="#mk" transform="translate(1208.5 813.9) scale(0.940)"/><use href="#mk" transform="translate(1319.2 813.9) scale(0.940)"/><use href="#mk" transform="translate(1429.9 813.9) scale(0.940)"/><use href="#mk" transform="translate(1540.6 813.9) scale(0.940)"/><use href="#mk" transform="translate(1651.3 813.9) scale(0.940)"/><use href="#mk" transform="translate(893.9 725.4) scale(0.901)"/><use href="#mk" transform="translate(1000.0 725.4) scale(0.901)"/><use href="#mk" transform="translate(1106.1 725.4) scale(0.901)"/><use href="#mk" transform="translate(1212.2 725.4) scale(0.901)"/><use href="#mk" transform="translate(1318.2 725.4) scale(0.901)"/><use href="#mk" transform="translate(1424.3 725.4) scale(0.901)"/><use href="#mk" transform="translate(1530.4 725.4) scale(0.901)"/><use href="#mk" transform="translate(1636.5 725.4) scale(0.901)"/><use href="#mk" transform="translate(910.1 643.9) scale(0.865)"/><use href="#mk" transform="translate(1011.9 643.9) scale(0.865)"/><use href="#mk" transform="translate(1113.7 643.9) scale(0.865)"/><use href="#mk" transform="translate(1215.5 643.9) scale(0.865)"/><use href="#mk" transform="translate(1317.4 643.9) scale(0.865)"/><use href="#mk" transform="translate(1419.2 643.9) scale(0.865)"/><use href="#mk" transform="translate(1521.0 643.9) scale(0.865)"/><use href="#mk" transform="translate(1622.8 643.9) scale(0.865)"/><use href="#mk" transform="translate(925.0 568.8) scale(0.831)"/><use href="#mk" transform="translate(1022.9 568.8) scale(0.831)"/><use href="#mk" transform="translate(1120.8 568.8) scale(0.831)"/><use href="#mk" transform="translate(1218.7 568.8) scale(0.831)"/><use href="#mk" transform="translate(1316.6 568.8) scale(0.831)"/><use href="#mk" transform="translate(1414.5 568.8) scale(0.831)"/><use href="#mk" transform="translate(1512.4 568.8) scale(0.831)"/><use href="#mk" transform="translate(1610.3 568.8) scale(0.831)"/><use href="#mk" transform="translate(938.8 499.2) scale(0.800)"/><use href="#mk" transform="translate(1033.0 499.2) scale(0.800)"/><use href="#mk" transform="translate(1127.3 499.2) scale(0.800)"/><use href="#mk" transform="translate(1221.6 499.2) scale(0.800)"/><use href="#mk" transform="translate(1315.8 499.2) scale(0.800)"/><use href="#mk" transform="translate(1410.1 499.2) scale(0.800)"/><use href="#mk" transform="translate(1504.3 499.2) scale(0.800)"/><use href="#mk" transform="translate(1598.6 499.2) scale(0.800)"/><use href="#mk" transform="translate(951.6 434.6) scale(0.772)"/><use href="#mk" transform="translate(1042.5 434.6) scale(0.772)"/><use href="#mk" transform="translate(1133.4 434.6) scale(0.772)"/><use href="#mk" transform="translate(1224.2 434.6) scale(0.772)"/><use href="#mk" transform="translate(1315.1 434.6) scale(0.772)"/><use href="#mk" transform="translate(1406.0 434.6) scale(0.772)"/><use href="#mk" transform="translate(1496.9 434.6) scale(0.772)"/><use href="#mk" transform="translate(1587.8 434.6) scale(0.772)"/><use href="#mk" transform="translate(963.5 374.5) scale(0.745)"/><use href="#mk" transform="translate(1051.3 374.5) scale(0.745)"/><use href="#mk" transform="translate(1139.0 374.5) scale(0.745)"/><use href="#mk" transform="translate(1226.7 374.5) scale(0.745)"/><use href="#mk" transform="translate(1314.5 374.5) scale(0.745)"/><use href="#mk" transform="translate(1402.2 374.5) scale(0.745)"/><use href="#mk" transform="translate(1490.0 374.5) scale(0.745)"/><use href="#mk" transform="translate(1577.7 374.5) scale(0.745)"/><use href="#mk" transform="translate(974.6 318.3) scale(0.720)"/><use href="#mk" transform="translate(1059.4 318.3) scale(0.720)"/><use href="#mk" transform="translate(1144.3 318.3) scale(0.720)"/><use href="#mk" transform="translate(1229.1 318.3) scale(0.720)"/><use href="#mk" transform="translate(1313.9 318.3) scale(0.720)"/><use href="#mk" transform="translate(1398.7 318.3) scale(0.720)"/><use href="#mk" transform="translate(1483.5 318.3) scale(0.720)"/><use href="#mk" transform="translate(1568.3 318.3) scale(0.720)"/></g>
<rect x="892" y="314" width="164" height="95" fill="#fff" fill-opacity=".32"/>
<path d="M536 322.7L1283 607C1345 625 1385 660 1358 690C1338 715 1308 723 1285 719L402.7 400.5C372 388 368 352 415 328C452 309 505 308 536 322.7Z" fill="url(#pb)" fill-opacity=".68"/>
<ellipse cx="1300" cy="668" rx="66" ry="40" transform="rotate(18 1300 668)" fill="#ff8cb4" fill-opacity=".45"/>
<path d="M655.8 50.2L1286 336C1340 352 1368 385 1338 408C1318 422 1292 421 1273 413.6L550 105.4C520 95 520 70 560 54C590 43 630 42 655.8 50.2Z" fill="url(#bb)" fill-opacity=".66"/>
<ellipse cx="1296" cy="378" rx="55" ry="34" transform="rotate(16 1296 378)" fill="#9050d8" fill-opacity=".42"/>
<path d="M1014 264L760 149" stroke="#7676ff" stroke-width="7" fill="none"/><path d="M741 140.6l40 -3l-12 13l-2 20z" fill="#7676ff"/>
<path d="M985 559L728 460" stroke="#c66cff" stroke-width="7" fill="none"/><path d="M709 453l40 -4l-12 13l-1 20z" fill="#c66cff"/>
<path d="M1053.8 401.4L983.7 435.4M1057.9 406.1L991.7 457.5M1062.0 410.8L1009.2 473.8M1066.1 415.5L1032.8 483.3M1070.2 420.2L1059.0 485.3M1074.3 424.8L1083.8 480.0M1078.4 429.5L1108.6 470.0M1082.5 434.2L1132.2 456.1M1086.6 438.9L1151.7 439.6M1090.7 443.6L1163.3 422.3M1094.8 448.3L1162.1 411.4M1099.0 453.0L1151.8 409.9M1103.1 457.7L1134.7 419.8M1107.2 462.4L1114.7 438.2M1111.3 467.1L1098.7 455.9M1115.4 471.8L1090.3 471.9M1119.5 476.5L1085.3 487.8M1123.6 481.2L1083.5 504.4M1127.7 485.9L1085.3 521.9M1131.8 490.6L1094.1 537.8M1135.9 495.3L1110.3 550.8M1140.0 500.0L1131.0 557.7M1144.1 504.6L1153.5 557.9M1148.2 509.3L1174.7 551.8M1152.3 514.0L1194.1 539.4M1156.4 518.7L1208.5 527.0M1160.5 523.4L1217.7 516.6M1164.6 528.1L1220.4 509.9M1168.7 532.8L1209.8 509.9M1172.8 537.5L1194.4 520.2M1176.9 542.2L1181.8 533.3M1181.0 546.9L1172.9 547.4M1185.1 551.6L1167.8 561.6M1189.2 556.3L1166.0 575.7M1193.3 561.0L1169.1 591.3M1197.4 565.7L1177.0 606.3M1201.5 570.4L1189.9 619.3M1205.6 575.1L1207.6 628.1M1209.7 579.7L1228.6 628.6M1213.8 584.4L1247.5 623.9M1217.9 589.1L1263.8 614.7M1222.0 593.8L1276.8 602.8M1226.1 598.5L1280.3 594.9M1230.2 603.2L1275.0 593.6M1234.3 607.9L1264.0 599.9M1238.4 612.6L1251.3 610.7M1242.5 617.3L1242.5 619.5" stroke="#22c04a" stroke-width="2.2" stroke-opacity=".8" fill="none"/>
<path d="M1147.6 445.5C1150.2 441.8 1161.0 429.0 1163.4 422.9C1165.8 416.8 1164.8 411.0 1161.8 408.9C1158.8 406.9 1152.6 406.3 1145.3 410.5C1138.0 414.7 1126.1 426.5 1118.2 434.2C1110.3 442.0 1102.9 449.7 1097.9 456.8C1092.8 464.0 1089.4 473.8 1087.7 477.2Z" fill="#1fd030" fill-opacity=".8"/>
<path d="M1199.5 535.9C1202.2 533.3 1211.6 524.4 1215.4 520.1C1219.1 515.8 1223.3 511.6 1222.1 509.9C1221.0 508.2 1214.2 507.5 1208.6 509.9C1202.9 512.4 1193.9 519.2 1188.2 524.6C1182.6 530.1 1176.9 539.7 1174.7 542.7Z" fill="#1fd030" fill-opacity=".8"/>
<path d="M1258.3 619.5C1261.3 616.9 1272.6 608.1 1276.4 603.7C1280.2 599.4 1281.7 595.3 1280.9 593.6C1280.2 591.9 1276.4 591.1 1271.9 593.6C1267.3 596.0 1258.7 603.9 1253.8 608.2C1248.9 612.6 1244.4 617.7 1242.5 619.5Z" fill="#1fd030" fill-opacity=".8"/>
<path d="M1048.0 394.7L1242.5 617.3" stroke="#cc1010" stroke-width="4.5"/>
<path d="M1242.5 617.3L1280 657" stroke="#f05050" stroke-width="3"/><path d="M1289 667l-17 -6l10 -10z" fill="#ff5050"/>
<path d="M983.7 435.4C985.4 440.1 987.7 455.9 993.9 463.6C1000.1 471.3 1010.8 477.9 1021.0 481.7C1031.2 485.5 1044.0 486.6 1054.9 486.2C1065.8 485.8 1076.0 482.8 1086.6 479.4C1097.1 476.0 1108.0 471.5 1118.2 465.9C1128.4 460.2 1140.0 452.7 1147.6 445.5C1155.1 438.4 1161.0 429.0 1163.4 422.9C1165.8 416.8 1164.8 411.0 1161.8 408.9C1158.8 406.9 1152.6 406.3 1145.3 410.5C1138.0 414.7 1126.1 426.5 1118.2 434.2C1110.3 442.0 1102.9 449.7 1097.9 456.8C1092.8 464.0 1090.1 470.4 1087.7 477.2C1085.2 484.0 1083.7 490.4 1083.2 497.5C1082.6 504.7 1082.2 513.0 1084.3 520.1C1086.4 527.3 1089.9 534.4 1095.6 540.5C1101.2 546.5 1109.5 553.1 1118.2 556.3C1126.9 559.5 1138.2 560.4 1147.6 559.7C1157.0 558.9 1166.0 555.7 1174.7 551.8C1183.4 547.8 1192.8 541.2 1199.5 535.9C1206.3 530.7 1211.6 524.4 1215.4 520.1C1219.1 515.8 1223.3 511.6 1222.1 509.9C1221.0 508.2 1214.2 507.5 1208.6 509.9C1202.9 512.4 1193.9 519.2 1188.2 524.6C1182.6 530.1 1178.1 536.7 1174.7 542.7C1171.3 548.7 1169.4 554.8 1167.9 560.8C1166.4 566.8 1165.1 572.5 1165.6 578.9C1166.2 585.3 1167.9 592.8 1171.3 599.2C1174.7 605.6 1179.8 612.4 1186.0 617.3C1192.2 622.2 1200.3 626.7 1208.6 628.6C1216.9 630.5 1227.4 630.1 1235.7 628.6C1244.0 627.1 1251.5 623.7 1258.3 619.5C1265.1 615.4 1272.6 608.1 1276.4 603.7C1280.2 599.4 1281.7 595.3 1280.9 593.6C1280.2 591.9 1276.4 591.1 1271.9 593.6C1267.3 596.0 1258.7 603.9 1253.8 608.2C1248.9 612.6 1244.4 617.7 1242.5 619.5" stroke="#0a10c8" stroke-width="4.4" fill="none" stroke-linejoin="round" stroke-linecap="round"/>
<path d="M1284.5 334Q1362 200 1429 67C1445 45 1490 30 1517 32C1570 32 1630 50 1653 83C1660 96 1650 105 1639 111Q1485 236 1356 380C1352 362 1335 350 1316 346C1303 342 1292 338 1284.500 334Z" fill="url(#rb1)"/>
<path d="M1281.4 597Q1378 462 1457 330C1472 308 1520 293 1564 293C1630 293 1700 325 1720 371C1726 388 1716 402 1705 408.7Q1516 525 1363 685C1366 655 1340 628 1311 620C1298 615 1288 608 1281.400 597Z" fill="url(#rb2)"/>
<path d="M1488 128C1500 70 1560 35 1600 45C1630 52 1650 70 1653 83C1660 96 1650 105 1639 111C1625 125 1605 135 1595 136C1560 140 1520 135 1488 128Z" fill="#ea8c9c" fill-opacity=".4"/>
<path d="M1495 443C1500 380 1560 310 1640 310C1690 318 1715 350 1720 371C1726 388 1716 402 1705 408.7C1690 425 1660 436 1642 437C1590 447 1540 447 1495 443Z" fill="#ea8c9c" fill-opacity=".4"/>
<path d="M1331.6 329L1440 190" stroke="#d00000" stroke-width="8.500"/><path d="M1455.600 172l-6.600 36l-11 -16l-17 -2.500z" fill="#d00000"/>
<path d="M1331.6 620.5L1465 473" stroke="#d00000" stroke-width="8.500"/><path d="M1481.300 455l-9.400 38.700l-9 -18l-19.300 -5.500z" fill="#d00000"/>
<path d="M1088.2 115.8L1031.7 154.4M1092.2 121.0L1050.1 140.0M1096.1 126.2L1069.9 126.5M1100.1 131.3L1090.8 114.8M1104.0 136.5L1112.7 107.3M1108.0 141.7L1137.0 106.4M1112.0 146.9L1157.6 110.5M1115.9 152.1L1173.0 119.5M1119.9 157.2L1181.2 134.6M1123.8 162.4L1182.7 151.7M1127.8 167.6L1180.0 168.0M1131.8 172.8L1173.8 181.7M1135.7 178.0L1164.3 199.5M1139.7 183.1L1155.5 212.2M1143.6 188.3L1145.9 222.4M1147.6 193.5L1132.2 234.8M1151.5 198.7L1119.1 241.1M1155.5 203.9L1120.5 236.3M1159.5 209.0L1136.5 221.5M1163.4 214.2L1154.3 208.5M1167.4 219.4L1168.0 203.5M1171.3 224.6L1181.9 202.1M1175.3 229.8L1198.3 202.4M1179.3 234.9L1212.0 207.9M1183.2 240.1L1223.1 217.6M1187.2 245.3L1230.7 230.3M1191.1 250.5L1232.1 244.0M1195.1 255.6L1228.6 257.7M1199.1 260.8L1222.5 272.8M1203.0 266.0L1213.9 288.5M1207.0 271.2L1202.9 299.5M1210.9 276.4L1191.0 307.9M1214.9 281.5L1187.9 308.7M1218.9 286.7L1200.2 298.5M1222.8 291.9L1211.2 290.9M1226.8 297.1L1224.7 286.4M1230.7 302.3L1240.4 285.2M1234.7 307.4L1258.2 288.6M1238.6 312.6L1271.3 299.8M1242.6 317.8L1279.1 314.2M1246.6 323.0L1281.7 330.8M1250.5 328.2L1278.3 348.6M1254.5 333.3L1272.3 362.3M1258.4 338.5L1263.9 373.6M1262.4 343.7L1252.9 383.2" stroke="#22c04a" stroke-width="2.2" stroke-opacity=".75" fill="none"/>
<path d="M1160.7 206.2C1158.8 208.4 1154.4 214.3 1149.4 219.4C1144.3 224.4 1136.6 232.2 1130.5 236.3C1124.4 240.4 1112.0 246.0 1112.6 243.8C1113.3 241.6 1126.6 229.6 1134.3 223.1C1142.0 216.7 1154.7 208.2 1158.8 205.2Z" fill="#1fc030" fill-opacity=".8"/>
<path d="M1215.3 287.2C1212.8 289.7 1205.5 298.0 1200.2 302.2C1194.9 306.5 1183.3 313.2 1183.3 312.6C1183.3 312.0 1194.9 302.5 1200.2 298.5C1205.5 294.4 1212.8 289.8 1215.3 288.1Z" fill="#1fc030" fill-opacity=".8"/>
<path d="M1088.2 115.8L1262.4 343.7" stroke="#cc1010" stroke-width="4"/>
<path d="M1262.4 343.7L1280 368" stroke="#f04060" stroke-width="3" stroke-dasharray="6 5"/><path d="M1290 381l-16 -5l9 -9z" fill="#ff3060"/>
<path d="M1031.7 154.4C1035.9 151.1 1048.1 140.9 1057.1 134.6C1066.0 128.3 1075.6 121.4 1085.3 116.7C1095.1 112.0 1104.8 108.1 1115.5 106.4C1126.1 104.6 1139.9 104.5 1149.4 106.4C1158.8 108.2 1166.3 112.3 1172.0 117.7C1177.6 123.0 1181.5 130.8 1183.3 138.4C1185.0 145.9 1183.9 155.6 1182.3 162.9C1180.7 170.1 1177.5 174.5 1173.8 181.7C1170.2 188.9 1164.7 199.9 1160.7 206.2C1156.6 212.5 1154.4 214.3 1149.4 219.4C1144.3 224.4 1136.6 232.2 1130.5 236.3C1124.4 240.4 1112.0 246.0 1112.6 243.8C1113.3 241.6 1126.6 229.6 1134.3 223.1C1142.0 216.7 1151.9 208.8 1158.8 205.2C1165.7 201.7 1169.1 202.5 1175.7 202.0C1182.3 201.6 1191.4 201.1 1198.3 202.4C1205.2 203.7 1211.8 205.9 1217.2 209.9C1222.5 214.0 1227.8 220.9 1230.3 226.9C1232.8 232.9 1232.8 239.4 1232.2 245.7C1231.6 252.0 1229.4 257.7 1226.6 264.6C1223.7 271.5 1219.7 280.9 1215.3 287.2C1210.9 293.4 1205.5 298.0 1200.2 302.2C1194.9 306.5 1183.3 313.2 1183.3 312.6C1183.3 312.0 1194.9 302.5 1200.2 298.5C1205.5 294.4 1209.3 290.5 1215.3 288.1C1221.2 285.7 1228.5 284.2 1236.0 284.3C1243.5 284.5 1253.6 285.4 1260.5 289.0C1267.4 292.6 1273.8 299.4 1277.4 306.0C1281.0 312.6 1282.1 320.7 1282.1 328.6C1282.1 336.4 1279.8 346.2 1277.4 353.1C1275.1 360.0 1272.1 365.0 1268.0 370.0C1263.9 375.0 1255.4 381.0 1252.9 383.2" stroke="#0a10c8" stroke-width="3.7" fill="none" stroke-linejoin="round" stroke-linecap="round"/>
<path d="M548.5 615H704M552 613L513 731M556 613L583 764" stroke="#000" stroke-width="8" fill="none"/>
<path d="M724 616l-24 -11v22zM508 751l-5 -27l21 7zM588 786l-15 -22l21 -4z" fill="#000"/>
<text x="650" y="586.5" font-size="76">x</text><text x="468" y="701" font-size="76">y</text><text x="576" y="832.5" font-size="76">z</text>
<text x="61" y="215" font-size="64" fill="#1a1a1a">Diffracted beam</text>
<text x="1734" y="236" font-size="64" fill="#1a1a1a">Reflected beam</text>
<text x="1016" y="59.3" font-size="62.5" fill="#1a1a1a">RCP</text>
<text x="910" y="382" font-size="61" fill="#101010">LCP</text>
<text x="1122" y="953" font-size="62.5" fill="#0a0a30">Substrate</text>
<text x="92" y="936.7" font-size="80" fill="#1a1a1a">(a)</text>
<g clip-path="url(#cpb)"><g filter="url(#jet)"><g filter="url(#bv)"><rect x="164.5" y="1036.60" width="762.0" height="21.65" fill="url(#g1)"/><rect x="164.5" y="1057.65" width="762.0" height="21.65" fill="url(#g2)"/><rect x="164.5" y="1078.70" width="762.0" height="21.65" fill="url(#g3)"/><rect x="164.5" y="1099.75" width="762.0" height="21.65" fill="url(#g4)"/><rect x="164.5" y="1120.80" width="762.0" height="21.65" fill="url(#g5)"/><rect x="164.5" y="1141.85" width="762.0" height="21.65" fill="url(#g6)"/><rect x="164.5" y="1162.90" width="762.0" height="21.65" fill="url(#g7)"/><rect x="164.5" y="1183.95" width="762.0" height="21.65" fill="url(#g8)"/><rect x="164.5" y="1205.00" width="762.0" height="21.65" fill="url(#g9)"/><rect x="164.5" y="1226.05" width="762.0" height="21.65" fill="url(#g10)"/><rect x="164.5" y="1247.10" width="762.0" height="21.65" fill="url(#g11)"/><rect x="164.5" y="1268.15" width="762.0" height="21.65" fill="url(#g12)"/><rect x="164.5" y="1289.20" width="762.0" height="21.65" fill="url(#g13)"/><rect x="164.5" y="1310.25" width="762.0" height="21.65" fill="url(#g14)"/><rect x="164.5" y="1331.30" width="762.0" height="21.65" fill="url(#g15)"/><rect x="164.5" y="1352.35" width="762.0" height="21.65" fill="url(#g16)"/><rect x="164.5" y="1373.40" width="762.0" height="21.65" fill="url(#g17)"/><rect x="164.5" y="1394.45" width="762.0" height="21.65" fill="url(#g18)"/><rect x="164.5" y="1415.50" width="762.0" height="21.65" fill="url(#g19)"/><rect x="164.5" y="1436.55" width="762.0" height="21.65" fill="url(#g20)"/><rect x="164.5" y="1457.60" width="762.0" height="21.65" fill="url(#g21)"/><rect x="164.5" y="1478.65" width="762.0" height="21.65" fill="url(#g22)"/><rect x="164.5" y="1499.70" width="762.0" height="21.65" fill="url(#g23)"/><rect x="164.5" y="1520.75" width="762.0" height="21.65" fill="url(#g24)"/><rect x="164.5" y="1541.80" width="762.0" height="21.65" fill="url(#g25)"/><rect x="164.5" y="1562.85" width="762.0" height="21.65" fill="url(#g26)"/><rect x="164.5" y="1583.90" width="762.0" height="21.65" fill="url(#g27)"/><rect x="164.5" y="1604.95" width="762.0" height="21.65" fill="url(#g28)"/><rect x="164.5" y="1626.00" width="762.0" height="21.65" fill="url(#g29)"/><rect x="164.5" y="1647.05" width="762.0" height="21.65" fill="url(#g30)"/><rect x="164.5" y="1668.10" width="762.0" height="21.65" fill="url(#g31)"/><rect x="164.5" y="1689.15" width="762.0" height="21.65" fill="url(#g32)"/><rect x="164.5" y="1710.20" width="762.0" height="21.65" fill="url(#g33)"/><rect x="164.5" y="1731.25" width="762.0" height="21.65" fill="url(#g34)"/></g><path d="M467.3 1740.5L946.1 1049.0" stroke="#fff" stroke-opacity=".2" stroke-width="116" filter="url(#b14)"/><path d="M467.3 1740.5L946.1 1049.0" stroke="#fff" stroke-opacity=".22" stroke-width="46" filter="url(#b7)"/><path d="M467.3 1740.5L946.1 1049.0" stroke="#fff" stroke-opacity=".36" stroke-width="14" filter="url(#b3)"/><ellipse cx="469.3" cy="1700.5" rx="45" ry="12" transform="rotate(-54.3 469.3 1700.5)" fill="url(#st1)" fill-opacity=".22"/></g></g>
<path d="M164.5 1079.0H926.5V1710.5" fill="none" stroke="#9292b4" stroke-width="2.6"/><path d="M164.5 1079.0V1710.5H926.5" fill="none" stroke="#7a7a9c" stroke-width="3"/>
<path d="M926.5 1570.9h-9M164.5 1570.9h9M926.5 1431.4h-9M164.5 1431.4h9M926.5 1291.8h-9M164.5 1291.8h9M926.5 1152.3h-9M164.5 1152.3h9M405.5 1710.5v-7M405.5 1079.0v7M646.5 1710.5v-7M646.5 1079.0v7M887.6 1710.5v-7M887.6 1079.0v7" stroke="#55557a" stroke-width="2.4" fill="none"/>
<path d="M469.3 1709.5L925.1 1080.0" stroke="#000" stroke-width="7.6"/>
<path d="M166.5 1082.0L540.9 1603.1" stroke="#000" stroke-width="3.8" stroke-dasharray="12 9"/>
<rect x="954.0" y="1079.0" width="55.0" height="631.5" fill="url(#cb)"/>
<text x="1022.5" y="1126.3" font-size="37" fill="#303030">0.7</text>
<path d="M1009.0 1110.0h-7" stroke="#403030" stroke-opacity=".6" stroke-width="2"/>
<text x="1022.5" y="1229.3" font-size="37" fill="#303030">0.6</text>
<path d="M1009.0 1213.0h-7" stroke="#403030" stroke-opacity=".6" stroke-width="2"/>
<text x="1022.5" y="1331.8" font-size="37" fill="#303030">0.5</text>
<path d="M1009.0 1315.5h-7" stroke="#403030" stroke-opacity=".6" stroke-width="2"/>
<text x="1022.5" y="1434.3" font-size="37" fill="#303030">0.4</text>
<path d="M1009.0 1418.0h-7" stroke="#403030" stroke-opacity=".6" stroke-width="2"/>
<text x="1022.5" y="1533.3" font-size="37" fill="#303030">0.3</text>
<path d="M1009.0 1517.0h-7" stroke="#403030" stroke-opacity=".6" stroke-width="2"/>
<text x="1022.5" y="1636.3" font-size="37" fill="#303030">0.2</text>
<path d="M1009.0 1620.0h-7" stroke="#403030" stroke-opacity=".6" stroke-width="2"/>
<text x="150.5" y="1725.5" font-size="43" text-anchor="end" fill="#303030">300</text>
<text x="150.5" y="1590.3" font-size="43" text-anchor="end" fill="#303030">400</text>
<text x="150.5" y="1450.8" font-size="43" text-anchor="end" fill="#303030">500</text>
<text x="150.5" y="1311.2" font-size="43" text-anchor="end" fill="#303030">600</text>
<text x="150.5" y="1171.7" font-size="43" text-anchor="end" fill="#303030">700</text>
<text transform="translate(57.7 1394.8) rotate(-90)" font-size="47" text-anchor="middle" fill="#303030">Frequency (THz)</text>
<text x="190.0" y="1675.5" font-size="80" fill="#000">(b)</text>
<g clip-path="url(#cpc)"><g filter="url(#jet)"><g filter="url(#bv)"><rect x="166.0" y="1720.17" width="762.3" height="21.62" fill="url(#g35)"/><rect x="166.0" y="1741.18" width="762.3" height="21.62" fill="url(#g36)"/><rect x="166.0" y="1762.20" width="762.3" height="21.62" fill="url(#g37)"/><rect x="166.0" y="1783.22" width="762.3" height="21.62" fill="url(#g38)"/><rect x="166.0" y="1804.23" width="762.3" height="21.62" fill="url(#g39)"/><rect x="166.0" y="1825.25" width="762.3" height="21.62" fill="url(#g40)"/><rect x="166.0" y="1846.27" width="762.3" height="21.62" fill="url(#g41)"/><rect x="166.0" y="1867.28" width="762.3" height="21.62" fill="url(#g42)"/><rect x="166.0" y="1888.30" width="762.3" height="21.62" fill="url(#g43)"/><rect x="166.0" y="1909.32" width="762.3" height="21.62" fill="url(#g44)"/><rect x="166.0" y="1930.33" width="762.3" height="21.62" fill="url(#g45)"/><rect x="166.0" y="1951.35" width="762.3" height="21.62" fill="url(#g46)"/><rect x="166.0" y="1972.37" width="762.3" height="21.62" fill="url(#g47)"/><rect x="166.0" y="1993.38" width="762.3" height="21.62" fill="url(#g48)"/><rect x="166.0" y="2014.40" width="762.3" height="21.62" fill="url(#g49)"/><rect x="166.0" y="2035.42" width="762.3" height="21.62" fill="url(#g50)"/><rect x="166.0" y="2056.43" width="762.3" height="21.62" fill="url(#g51)"/><rect x="166.0" y="2077.45" width="762.3" height="21.62" fill="url(#g52)"/><rect x="166.0" y="2098.47" width="762.3" height="21.62" fill="url(#g53)"/><rect x="166.0" y="2119.48" width="762.3" height="21.62" fill="url(#g54)"/><rect x="166.0" y="2140.50" width="762.3" height="21.62" fill="url(#g55)"/><rect x="166.0" y="2161.52" width="762.3" height="21.62" fill="url(#g56)"/><rect x="166.0" y="2182.53" width="762.3" height="21.62" fill="url(#g57)"/><rect x="166.0" y="2203.55" width="762.3" height="21.62" fill="url(#g58)"/><rect x="166.0" y="2224.57" width="762.3" height="21.62" fill="url(#g59)"/><rect x="166.0" y="2245.58" width="762.3" height="21.62" fill="url(#g60)"/><rect x="166.0" y="2266.60" width="762.3" height="21.62" fill="url(#g61)"/><rect x="166.0" y="2287.62" width="762.3" height="21.62" fill="url(#g62)"/><rect x="166.0" y="2308.63" width="762.3" height="21.62" fill="url(#g63)"/><rect x="166.0" y="2329.65" width="762.3" height="21.62" fill="url(#g64)"/><rect x="166.0" y="2350.67" width="762.3" height="21.62" fill="url(#g65)"/><rect x="166.0" y="2371.68" width="762.3" height="21.62" fill="url(#g66)"/><rect x="166.0" y="2392.70" width="762.3" height="21.62" fill="url(#g67)"/><rect x="166.0" y="2413.72" width="762.3" height="21.62" fill="url(#g68)"/></g><path d="M469.0 2423.0L947.9 1732.5" stroke="#fff" stroke-opacity=".2" stroke-width="116" filter="url(#b14)"/><path d="M469.0 2423.0L947.9 1732.5" stroke="#fff" stroke-opacity=".22" stroke-width="46" filter="url(#b7)"/><path d="M469.0 2423.0L947.9 1732.5" stroke="#fff" stroke-opacity=".36" stroke-width="14" filter="url(#b3)"/><ellipse cx="471.0" cy="2379.0" rx="48" ry="13" transform="rotate(-54.3 471.0 2379.0)" fill="url(#st1)" fill-opacity=".6"/></g></g>
<path d="M166.0 1762.5H928.3V2393.0" fill="none" stroke="#9292b4" stroke-width="2.6"/><path d="M166.0 1762.5V2393.0H928.3" fill="none" stroke="#7a7a9c" stroke-width="3"/>
<path d="M928.3 2253.7h-9M166.0 2253.7h9M928.3 2114.3h-9M166.0 2114.3h9M928.3 1975.0h-9M166.0 1975.0h9M928.3 1835.7h-9M166.0 1835.7h9M407.1 2393.0v-7M407.1 1762.5v7M648.2 2393.0v-7M648.2 1762.5v7M889.3 2393.0v-7M889.3 1762.5v7" stroke="#55557a" stroke-width="2.4" fill="none"/>
<path d="M471.0 2392.0L926.9 1763.5" stroke="#000" stroke-width="7.6"/>
<path d="M168.0 1765.5L542.5 2285.7" stroke="#000" stroke-width="3.8" stroke-dasharray="12 9"/>
<rect x="956.5" y="1762.5" width="55.0" height="630.5" fill="url(#cb)"/>
<text x="1024.0" y="1841.3" font-size="37" fill="#303030">0.7</text>
<path d="M1011.5 1825.0h-7" stroke="#403030" stroke-opacity=".6" stroke-width="2"/>
<text x="1024.0" y="1939.3" font-size="37" fill="#303030">0.6</text>
<path d="M1011.5 1923.0h-7" stroke="#403030" stroke-opacity=".6" stroke-width="2"/>
<text x="1024.0" y="2037.3" font-size="37" fill="#303030">0.5</text>
<path d="M1011.5 2021.0h-7" stroke="#403030" stroke-opacity=".6" stroke-width="2"/>
<text x="1024.0" y="2135.3" font-size="37" fill="#303030">0.4</text>
<path d="M1011.5 2119.0h-7" stroke="#403030" stroke-opacity=".6" stroke-width="2"/>
<text x="1024.0" y="2233.3" font-size="37" fill="#303030">0.3</text>
<path d="M1011.5 2217.0h-7" stroke="#403030" stroke-opacity=".6" stroke-width="2"/>
<text x="1024.0" y="2331.3" font-size="37" fill="#303030">0.2</text>
<path d="M1011.5 2315.0h-7" stroke="#403030" stroke-opacity=".6" stroke-width="2"/>
<text x="152.0" y="2408.0" font-size="43" text-anchor="end" fill="#303030">300</text>
<text x="152.0" y="2273.1" font-size="43" text-anchor="end" fill="#303030">400</text>
<text x="152.0" y="2133.7" font-size="43" text-anchor="end" fill="#303030">500</text>
<text x="152.0" y="1994.4" font-size="43" text-anchor="end" fill="#303030">600</text>
<text x="152.0" y="1855.1" font-size="43" text-anchor="end" fill="#303030">700</text>
<text transform="translate(59.0 2077.8) rotate(-90)" font-size="47" text-anchor="middle" fill="#303030">Frequency (THz)</text>
<text x="187.0" y="2358.0" font-size="80" fill="#000">(c)</text>
<g clip-path="url(#cpd)"><g filter="url(#jet)"><g filter="url(#bv)"><rect x="167.0" y="2418.70" width="762.6" height="21.60" fill="url(#g69)"/><rect x="167.0" y="2439.70" width="762.6" height="21.60" fill="url(#g70)"/><rect x="167.0" y="2460.70" width="762.6" height="21.60" fill="url(#g71)"/><rect x="167.0" y="2481.70" width="762.6" height="21.60" fill="url(#g72)"/><rect x="167.0" y="2502.70" width="762.6" height="21.60" fill="url(#g73)"/><rect x="167.0" y="2523.70" width="762.6" height="21.60" fill="url(#g74)"/><rect x="167.0" y="2544.70" width="762.6" height="21.60" fill="url(#g75)"/><rect x="167.0" y="2565.70" width="762.6" height="21.60" fill="url(#g76)"/><rect x="167.0" y="2586.70" width="762.6" height="21.60" fill="url(#g77)"/><rect x="167.0" y="2607.70" width="762.6" height="21.60" fill="url(#g78)"/><rect x="167.0" y="2628.70" width="762.6" height="21.60" fill="url(#g79)"/><rect x="167.0" y="2649.70" width="762.6" height="21.60" fill="url(#g80)"/><rect x="167.0" y="2670.70" width="762.6" height="21.60" fill="url(#g81)"/><rect x="167.0" y="2691.70" width="762.6" height="21.60" fill="url(#g82)"/><rect x="167.0" y="2712.70" width="762.6" height="21.60" fill="url(#g83)"/><rect x="167.0" y="2733.70" width="762.6" height="21.60" fill="url(#g84)"/><rect x="167.0" y="2754.70" width="762.6" height="21.60" fill="url(#g85)"/><rect x="167.0" y="2775.70" width="762.6" height="21.60" fill="url(#g86)"/><rect x="167.0" y="2796.70" width="762.6" height="21.60" fill="url(#g87)"/><rect x="167.0" y="2817.70" width="762.6" height="21.60" fill="url(#g88)"/><rect x="167.0" y="2838.70" width="762.6" height="21.60" fill="url(#g89)"/><rect x="167.0" y="2859.70" width="762.6" height="21.60" fill="url(#g90)"/><rect x="167.0" y="2880.70" width="762.6" height="21.60" fill="url(#g91)"/><rect x="167.0" y="2901.70" width="762.6" height="21.60" fill="url(#g92)"/><rect x="167.0" y="2922.70" width="762.6" height="21.60" fill="url(#g93)"/><rect x="167.0" y="2943.70" width="762.6" height="21.60" fill="url(#g94)"/><rect x="167.0" y="2964.70" width="762.6" height="21.60" fill="url(#g95)"/><rect x="167.0" y="2985.70" width="762.6" height="21.60" fill="url(#g96)"/><rect x="167.0" y="3006.70" width="762.6" height="21.60" fill="url(#g97)"/><rect x="167.0" y="3027.70" width="762.6" height="21.60" fill="url(#g98)"/><rect x="167.0" y="3048.70" width="762.6" height="21.60" fill="url(#g99)"/><rect x="167.0" y="3069.70" width="762.6" height="21.60" fill="url(#g100)"/><rect x="167.0" y="3090.70" width="762.6" height="21.60" fill="url(#g101)"/><rect x="167.0" y="3111.70" width="762.6" height="21.60" fill="url(#g102)"/></g><ellipse cx="482" cy="2878" rx="125" ry="40" transform="rotate(52.5 482 2878)" fill="url(#st2)"/><ellipse cx="462" cy="2870" rx="130" ry="15" transform="rotate(52.5 462 2870)" fill="url(#st1)" fill-opacity=".75"/><ellipse cx="439" cy="2839" rx="66" ry="19" transform="rotate(52.5 439 2839)" fill="url(#st1)"/><polygon points="547.7,2981.0 262.0,3131.0 504.7,3131.0 562.6,2982.4" fill="url(#wg)" filter="url(#b16)"/></g></g>
<path d="M167.0 2461.0H929.6V3091.0" fill="none" stroke="#9292b4" stroke-width="2.6"/><path d="M167.0 2461.0V3091.0H929.6" fill="none" stroke="#7a7a9c" stroke-width="3"/>
<path d="M929.6 2951.8h-9M167.0 2951.8h9M929.6 2812.5h-9M167.0 2812.5h9M929.6 2673.3h-9M167.0 2673.3h9M929.6 2534.1h-9M167.0 2534.1h9M408.2 3091.0v-7M408.2 2461.0v7M649.4 3091.0v-7M649.4 2461.0v7M890.6 3091.0v-7M890.6 2461.0v7" stroke="#55557a" stroke-width="2.4" fill="none"/>
<path d="M472.1 3090.0L928.2 2462.0" stroke="#000" stroke-width="7.6"/>
<path d="M169.0 2464.0L543.7 2983.8" stroke="#000" stroke-width="3.8" stroke-dasharray="12 9"/>
<rect x="957.0" y="2461.0" width="55.0" height="630.0" fill="url(#cb)"/>
<text x="1026.0" y="2494.7" font-size="37" fill="#303030">0.15</text>
<path d="M1012.0 2478.4h-7" stroke="#403030" stroke-opacity=".6" stroke-width="2"/>
<text x="1026.0" y="2594.7" font-size="37" fill="#303030">0.1</text>
<path d="M1012.0 2578.4h-7" stroke="#403030" stroke-opacity=".6" stroke-width="2"/>
<text x="1026.0" y="2693.3" font-size="37" fill="#303030">0.05</text>
<path d="M1012.0 2677.0h-7" stroke="#403030" stroke-opacity=".6" stroke-width="2"/>
<text x="1026.0" y="2791.3" font-size="37" fill="#303030">0</text>
<path d="M1012.0 2775.0h-7" stroke="#403030" stroke-opacity=".6" stroke-width="2"/>
<text x="1026.0" y="2890.3" font-size="37" fill="#303030">-0.05</text>
<path d="M1012.0 2874.0h-7" stroke="#403030" stroke-opacity=".6" stroke-width="2"/>
<text x="1026.0" y="2988.3" font-size="37" fill="#303030">-0.1</text>
<path d="M1012.0 2972.0h-7" stroke="#403030" stroke-opacity=".6" stroke-width="2"/>
<text x="1026.0" y="3087.3" font-size="37" fill="#303030">-0.15</text>
<path d="M1012.0 3071.0h-7" stroke="#403030" stroke-opacity=".6" stroke-width="2"/>
<text x="153.0" y="3106.0" font-size="43" text-anchor="end" fill="#303030">300</text>
<text x="153.0" y="2971.2" font-size="43" text-anchor="end" fill="#303030">400</text>
<text x="153.0" y="2831.9" font-size="43" text-anchor="end" fill="#303030">500</text>
<text x="153.0" y="2692.7" font-size="43" text-anchor="end" fill="#303030">600</text>
<text x="153.0" y="2553.5" font-size="43" text-anchor="end" fill="#303030">700</text>
<text transform="translate(60.0 2776.0) rotate(-90)" font-size="47" text-anchor="middle" fill="#303030">Frequency (THz)</text>
<text x="187.0" y="3059.0" font-size="80" fill="#000">(d)</text>
<text x="169.0" y="3151.0" font-size="43" text-anchor="middle" fill="#303030">0</text>
<text x="410.2" y="3151.0" font-size="43" text-anchor="middle" fill="#303030">5</text>
<text x="651.4" y="3151.0" font-size="43" text-anchor="middle" fill="#303030">10</text>
<text x="892.6" y="3151.0" font-size="43" text-anchor="middle" fill="#303030">15</text>
<text x="453.3" y="3226.0" font-size="47" fill="#303030">k<tspan dy="22" font-size="38">x</tspan><tspan dy="-22"> (</tspan><tspan font-style="italic">μ</tspan>m<tspan dy="-24" font-size="36">-1</tspan><tspan dy="24">)</tspan></text>
<g clip-path="url(#cpe)"><g filter="url(#jet)"><g filter="url(#bv)"><rect x="1300.7" y="1031.57" width="763.1" height="21.67" fill="url(#g103)"/><rect x="1300.7" y="1052.63" width="763.1" height="21.67" fill="url(#g104)"/><rect x="1300.7" y="1073.70" width="763.1" height="21.67" fill="url(#g105)"/><rect x="1300.7" y="1094.77" width="763.1" height="21.67" fill="url(#g106)"/><rect x="1300.7" y="1115.83" width="763.1" height="21.67" fill="url(#g107)"/><rect x="1300.7" y="1136.90" width="763.1" height="21.67" fill="url(#g108)"/><rect x="1300.7" y="1157.97" width="763.1" height="21.67" fill="url(#g109)"/><rect x="1300.7" y="1179.03" width="763.1" height="21.67" fill="url(#g110)"/><rect x="1300.7" y="1200.10" width="763.1" height="21.67" fill="url(#g111)"/><rect x="1300.7" y="1221.17" width="763.1" height="21.67" fill="url(#g112)"/><rect x="1300.7" y="1242.23" width="763.1" height="21.67" fill="url(#g113)"/><rect x="1300.7" y="1263.30" width="763.1" height="21.67" fill="url(#g114)"/><rect x="1300.7" y="1284.37" width="763.1" height="21.67" fill="url(#g115)"/><rect x="1300.7" y="1305.43" width="763.1" height="21.67" fill="url(#g116)"/><rect x="1300.7" y="1326.50" width="763.1" height="21.67" fill="url(#g117)"/><rect x="1300.7" y="1347.57" width="763.1" height="21.67" fill="url(#g118)"/><rect x="1300.7" y="1368.63" width="763.1" height="21.67" fill="url(#g119)"/><rect x="1300.7" y="1389.70" width="763.1" height="21.67" fill="url(#g120)"/><rect x="1300.7" y="1410.77" width="763.1" height="21.67" fill="url(#g121)"/><rect x="1300.7" y="1431.83" width="763.1" height="21.67" fill="url(#g122)"/><rect x="1300.7" y="1452.90" width="763.1" height="21.67" fill="url(#g123)"/><rect x="1300.7" y="1473.97" width="763.1" height="21.67" fill="url(#g124)"/><rect x="1300.7" y="1495.03" width="763.1" height="21.67" fill="url(#g125)"/><rect x="1300.7" y="1516.10" width="763.1" height="21.67" fill="url(#g126)"/><rect x="1300.7" y="1537.17" width="763.1" height="21.67" fill="url(#g127)"/><rect x="1300.7" y="1558.23" width="763.1" height="21.67" fill="url(#g128)"/><rect x="1300.7" y="1579.30" width="763.1" height="21.67" fill="url(#g129)"/><rect x="1300.7" y="1600.37" width="763.1" height="21.67" fill="url(#g130)"/><rect x="1300.7" y="1621.43" width="763.1" height="21.67" fill="url(#g131)"/><rect x="1300.7" y="1642.50" width="763.1" height="21.67" fill="url(#g132)"/><rect x="1300.7" y="1663.57" width="763.1" height="21.67" fill="url(#g133)"/><rect x="1300.7" y="1684.63" width="763.1" height="21.67" fill="url(#g134)"/><rect x="1300.7" y="1705.70" width="763.1" height="21.67" fill="url(#g135)"/><rect x="1300.7" y="1726.77" width="763.1" height="21.67" fill="url(#g136)"/></g></g></g>
<path d="M1300.7 1074.0H2063.8V1706.0" fill="none" stroke="#9292b4" stroke-width="2.6"/><path d="M1300.7 1074.0V1706.0H2063.8" fill="none" stroke="#3c3c68" stroke-width="3"/>
<path d="M2063.8 1566.3h-9M1300.7 1566.3h9M2063.8 1426.7h-9M1300.7 1426.7h9M2063.8 1287.0h-9M1300.7 1287.0h9M2063.8 1147.3h-9M1300.7 1147.3h9M1542.1 1706.0v-7M1542.1 1074.0v7M1783.4 1706.0v-7M1783.4 1074.0v7M2024.8 1706.0v-7M2024.8 1074.0v7" stroke="#55557a" stroke-width="2.4" fill="none"/>
<path d="M1606.0 1703.0L2062.4 1076.0" stroke="#000" stroke-width="7.6"/>
<path d="M1301.7 1078.0L1676.6 1598.5" stroke="#000" stroke-width="3.4" stroke-dasharray="10 8"/>
<path d="M1585.4 1465.8H1771.9" stroke="#fff" stroke-width="3" stroke-dasharray="13 7"/>
<rect x="2089.7" y="1074.0" width="56.0" height="632.0" fill="url(#cb)"/>
<text x="2158.0" y="1152.3" font-size="37" fill="#303030">0.05</text>
<path d="M2145.7 1136.0h-7" stroke="#403030" stroke-opacity=".6" stroke-width="2"/>
<text x="2158.0" y="1265.6" font-size="37" fill="#303030">0.04</text>
<path d="M2145.7 1249.3h-7" stroke="#403030" stroke-opacity=".6" stroke-width="2"/>
<text x="2158.0" y="1378.9" font-size="37" fill="#303030">0.03</text>
<path d="M2145.7 1362.6h-7" stroke="#403030" stroke-opacity=".6" stroke-width="2"/>
<text x="2158.0" y="1492.3" font-size="37" fill="#303030">0.02</text>
<path d="M2145.7 1476.0h-7" stroke="#403030" stroke-opacity=".6" stroke-width="2"/>
<text x="2158.0" y="1606.3" font-size="37" fill="#303030">0.01</text>
<path d="M2145.7 1590.0h-7" stroke="#403030" stroke-opacity=".6" stroke-width="2"/>
<text x="2158.0" y="1719.3" font-size="37" fill="#303030">0</text>
<path d="M2145.7 1703.0h-7" stroke="#403030" stroke-opacity=".6" stroke-width="2"/>
<text x="1283.0" y="1721.0" font-size="43" text-anchor="end" fill="#303030">300</text>
<text x="1283.0" y="1585.7" font-size="43" text-anchor="end" fill="#303030">400</text>
<text x="1283.0" y="1446.1" font-size="43" text-anchor="end" fill="#303030">500</text>
<text x="1283.0" y="1306.4" font-size="43" text-anchor="end" fill="#303030">600</text>
<text x="1283.0" y="1166.7" font-size="43" text-anchor="end" fill="#303030">700</text>
<text transform="translate(1190.0 1390.0) rotate(-90)" font-size="47" text-anchor="middle" fill="#303030">Frequency (THz)</text>
<text x="1316.0" y="1667.5" font-size="80" fill="#000">(e)</text>
<g clip-path="url(#cpf)"><g filter="url(#jet)"><g filter="url(#bv)"><rect x="1305.7" y="1720.57" width="757.3" height="21.42" fill="url(#g137)"/><rect x="1305.7" y="1741.38" width="757.3" height="21.42" fill="url(#g138)"/><rect x="1305.7" y="1762.20" width="757.3" height="21.42" fill="url(#g139)"/><rect x="1305.7" y="1783.02" width="757.3" height="21.42" fill="url(#g140)"/><rect x="1305.7" y="1803.83" width="757.3" height="21.42" fill="url(#g141)"/><rect x="1305.7" y="1824.65" width="757.3" height="21.42" fill="url(#g142)"/><rect x="1305.7" y="1845.47" width="757.3" height="21.42" fill="url(#g143)"/><rect x="1305.7" y="1866.28" width="757.3" height="21.42" fill="url(#g144)"/><rect x="1305.7" y="1887.10" width="757.3" height="21.42" fill="url(#g145)"/><rect x="1305.7" y="1907.92" width="757.3" height="21.42" fill="url(#g146)"/><rect x="1305.7" y="1928.73" width="757.3" height="21.42" fill="url(#g147)"/><rect x="1305.7" y="1949.55" width="757.3" height="21.42" fill="url(#g148)"/><rect x="1305.7" y="1970.37" width="757.3" height="21.42" fill="url(#g149)"/><rect x="1305.7" y="1991.18" width="757.3" height="21.42" fill="url(#g150)"/><rect x="1305.7" y="2012.00" width="757.3" height="21.42" fill="url(#g151)"/><rect x="1305.7" y="2032.82" width="757.3" height="21.42" fill="url(#g152)"/><rect x="1305.7" y="2053.63" width="757.3" height="21.42" fill="url(#g153)"/><rect x="1305.7" y="2074.45" width="757.3" height="21.42" fill="url(#g154)"/><rect x="1305.7" y="2095.27" width="757.3" height="21.42" fill="url(#g155)"/><rect x="1305.7" y="2116.08" width="757.3" height="21.42" fill="url(#g156)"/><rect x="1305.7" y="2136.90" width="757.3" height="21.42" fill="url(#g157)"/><rect x="1305.7" y="2157.72" width="757.3" height="21.42" fill="url(#g158)"/><rect x="1305.7" y="2178.53" width="757.3" height="21.42" fill="url(#g159)"/><rect x="1305.7" y="2199.35" width="757.3" height="21.42" fill="url(#g160)"/><rect x="1305.7" y="2220.17" width="757.3" height="21.42" fill="url(#g161)"/><rect x="1305.7" y="2240.98" width="757.3" height="21.42" fill="url(#g162)"/><rect x="1305.7" y="2261.80" width="757.3" height="21.42" fill="url(#g163)"/><rect x="1305.7" y="2282.62" width="757.3" height="21.42" fill="url(#g164)"/><rect x="1305.7" y="2303.43" width="757.3" height="21.42" fill="url(#g165)"/><rect x="1305.7" y="2324.25" width="757.3" height="21.42" fill="url(#g166)"/><rect x="1305.7" y="2345.07" width="757.3" height="21.42" fill="url(#g167)"/><rect x="1305.7" y="2365.88" width="757.3" height="21.42" fill="url(#g168)"/><rect x="1305.7" y="2386.70" width="757.3" height="21.42" fill="url(#g169)"/><rect x="1305.7" y="2407.52" width="757.3" height="21.42" fill="url(#g170)"/></g></g></g>
<path d="M1305.7 1762.5H2063.0V2387.0" fill="none" stroke="#9292b4" stroke-width="2.6"/><path d="M1305.7 1762.5V2387.0H2063.0" fill="none" stroke="#3c3c68" stroke-width="3"/>
<path d="M2063.0 2249.0h-9M1305.7 2249.0h9M2063.0 2111.0h-9M1305.7 2111.0h9M2063.0 1973.0h-9M1305.7 1973.0h9M2063.0 1835.0h-9M1305.7 1835.0h9M1545.2 2387.0v-7M1545.2 1762.5v7M1784.8 2387.0v-7M1784.8 1762.5v7M2024.3 2387.0v-7M2024.3 1762.5v7" stroke="#55557a" stroke-width="2.4" fill="none"/>
<path d="M1608.7 2384.0L2061.7 1764.5" stroke="#000" stroke-width="7.6"/>
<path d="M1306.7 1766.5L1678.8 2280.7" stroke="#000" stroke-width="3.4" stroke-dasharray="10 8"/>
<path d="M1588.3 2149.6H1773.2" stroke="#fff" stroke-width="3" stroke-dasharray="13 7"/>
<rect x="2089.7" y="1762.5" width="55.0" height="624.5" fill="url(#cb)"/>
<text x="2158.0" y="1895.3" font-size="37" fill="#303030">0.03</text>
<path d="M2144.7 1879.0h-7" stroke="#403030" stroke-opacity=".6" stroke-width="2"/>
<text x="2158.0" y="2064.3" font-size="37" fill="#303030">0.02</text>
<path d="M2144.7 2048.0h-7" stroke="#403030" stroke-opacity=".6" stroke-width="2"/>
<text x="2158.0" y="2235.3" font-size="37" fill="#303030">0.01</text>
<path d="M2144.7 2219.0h-7" stroke="#403030" stroke-opacity=".6" stroke-width="2"/>
<text x="2158.0" y="2406.3" font-size="37" fill="#303030">0</text>
<path d="M2144.7 2390.0h-7" stroke="#403030" stroke-opacity=".6" stroke-width="2"/>
<text x="1288.0" y="2402.0" font-size="43" text-anchor="end" fill="#303030">300</text>
<text x="1288.0" y="2268.4" font-size="43" text-anchor="end" fill="#303030">400</text>
<text x="1288.0" y="2130.4" font-size="43" text-anchor="end" fill="#303030">500</text>
<text x="1288.0" y="1992.4" font-size="43" text-anchor="end" fill="#303030">600</text>
<text x="1288.0" y="1854.4" font-size="43" text-anchor="end" fill="#303030">700</text>
<text transform="translate(1195.0 2074.8) rotate(-90)" font-size="47" text-anchor="middle" fill="#303030">Frequency (THz)</text>
<text x="1325.0" y="2348.0" font-size="80" fill="#000">(f)</text>
<g clip-path="url(#cpg)"><g filter="url(#jet)"><g filter="url(#bv)"><rect x="1303.0" y="2409.63" width="759.0" height="21.63" fill="url(#g171)"/><rect x="1303.0" y="2430.67" width="759.0" height="21.63" fill="url(#g172)"/><rect x="1303.0" y="2451.70" width="759.0" height="21.63" fill="url(#g173)"/><rect x="1303.0" y="2472.73" width="759.0" height="21.63" fill="url(#g174)"/><rect x="1303.0" y="2493.77" width="759.0" height="21.63" fill="url(#g175)"/><rect x="1303.0" y="2514.80" width="759.0" height="21.63" fill="url(#g176)"/><rect x="1303.0" y="2535.83" width="759.0" height="21.63" fill="url(#g177)"/><rect x="1303.0" y="2556.87" width="759.0" height="21.63" fill="url(#g178)"/><rect x="1303.0" y="2577.90" width="759.0" height="21.63" fill="url(#g179)"/><rect x="1303.0" y="2598.93" width="759.0" height="21.63" fill="url(#g180)"/><rect x="1303.0" y="2619.97" width="759.0" height="21.63" fill="url(#g181)"/><rect x="1303.0" y="2641.00" width="759.0" height="21.63" fill="url(#g182)"/><rect x="1303.0" y="2662.03" width="759.0" height="21.63" fill="url(#g183)"/><rect x="1303.0" y="2683.07" width="759.0" height="21.63" fill="url(#g184)"/><rect x="1303.0" y="2704.10" width="759.0" height="21.63" fill="url(#g185)"/><rect x="1303.0" y="2725.13" width="759.0" height="21.63" fill="url(#g186)"/><rect x="1303.0" y="2746.17" width="759.0" height="21.63" fill="url(#g187)"/><rect x="1303.0" y="2767.20" width="759.0" height="21.63" fill="url(#g188)"/><rect x="1303.0" y="2788.23" width="759.0" height="21.63" fill="url(#g189)"/><rect x="1303.0" y="2809.27" width="759.0" height="21.63" fill="url(#g190)"/><rect x="1303.0" y="2830.30" width="759.0" height="21.63" fill="url(#g191)"/><rect x="1303.0" y="2851.33" width="759.0" height="21.63" fill="url(#g192)"/><rect x="1303.0" y="2872.37" width="759.0" height="21.63" fill="url(#g193)"/><rect x="1303.0" y="2893.40" width="759.0" height="21.63" fill="url(#g194)"/><rect x="1303.0" y="2914.43" width="759.0" height="21.63" fill="url(#g195)"/><rect x="1303.0" y="2935.47" width="759.0" height="21.63" fill="url(#g196)"/><rect x="1303.0" y="2956.50" width="759.0" height="21.63" fill="url(#g197)"/><rect x="1303.0" y="2977.53" width="759.0" height="21.63" fill="url(#g198)"/><rect x="1303.0" y="2998.57" width="759.0" height="21.63" fill="url(#g199)"/><rect x="1303.0" y="3019.60" width="759.0" height="21.63" fill="url(#g200)"/><rect x="1303.0" y="3040.63" width="759.0" height="21.63" fill="url(#g201)"/><rect x="1303.0" y="3061.67" width="759.0" height="21.63" fill="url(#g202)"/><rect x="1303.0" y="3082.70" width="759.0" height="21.63" fill="url(#g203)"/><rect x="1303.0" y="3103.73" width="759.0" height="21.63" fill="url(#g204)"/></g></g></g>
<path d="M1303.0 2452.0H2062.0V3083.0" fill="none" stroke="#9292b4" stroke-width="2.6"/><path d="M1303.0 2452.0V3083.0H2062.0" fill="none" stroke="#3c3c68" stroke-width="3"/>
<path d="M2062.0 2943.6h-9M1303.0 2943.6h9M2062.0 2804.1h-9M1303.0 2804.1h9M2062.0 2664.7h-9M1303.0 2664.7h9M2062.0 2525.2h-9M1303.0 2525.2h9M1543.1 3083.0v-7M1543.1 2452.0v7M1783.1 3083.0v-7M1783.1 2452.0v7M2023.2 3083.0v-7M2023.2 2452.0v7" stroke="#55557a" stroke-width="2.4" fill="none"/>
<path d="M1606.7 3080.0L2060.7 2454.0" stroke="#000" stroke-width="7.6"/>
<path d="M1304.0 2456.0L1676.9 2975.6" stroke="#000" stroke-width="3.4" stroke-dasharray="10 8"/>
<path d="M1582.2 2837.6H1775.6" stroke="#fff" stroke-width="3" stroke-dasharray="13 7"/>
<rect x="2090.0" y="2452.0" width="55.0" height="631.0" fill="url(#cb)"/>
<text x="2158.0" y="2467.8" font-size="37" fill="#303030">1</text>
<path d="M2145.0 2451.5h-7" stroke="#403030" stroke-opacity=".6" stroke-width="2"/>
<text x="2158.0" y="2625.3" font-size="37" fill="#303030">0.5</text>
<path d="M2145.0 2609.0h-7" stroke="#403030" stroke-opacity=".6" stroke-width="2"/>
<text x="2158.0" y="2782.3" font-size="37" fill="#303030">0</text>
<path d="M2145.0 2766.0h-7" stroke="#403030" stroke-opacity=".6" stroke-width="2"/>
<text x="2158.0" y="2940.3" font-size="37" fill="#303030">-0.5</text>
<path d="M2145.0 2924.0h-7" stroke="#403030" stroke-opacity=".6" stroke-width="2"/>
<text x="2158.0" y="3098.8" font-size="37" fill="#303030">-1</text>
<path d="M2145.0 3082.5h-7" stroke="#403030" stroke-opacity=".6" stroke-width="2"/>
<text x="1285.0" y="3098.0" font-size="43" text-anchor="end" fill="#303030">300</text>
<text x="1285.0" y="2963.0" font-size="43" text-anchor="end" fill="#303030">400</text>
<text x="1285.0" y="2823.5" font-size="43" text-anchor="end" fill="#303030">500</text>
<text x="1285.0" y="2684.1" font-size="43" text-anchor="end" fill="#303030">600</text>
<text x="1285.0" y="2544.6" font-size="43" text-anchor="end" fill="#303030">700</text>
<text transform="translate(1190.0 2767.5) rotate(-90)" font-size="47" text-anchor="middle" fill="#303030">Frequency (THz)</text>
<text x="1316.0" y="3049.0" font-size="80" fill="#000">(g)</text>
<text x="1305.0" y="3143.0" font-size="43" text-anchor="middle" fill="#303030">0</text>
<text x="1545.1" y="3143.0" font-size="43" text-anchor="middle" fill="#303030">5</text>
<text x="1785.1" y="3143.0" font-size="43" text-anchor="middle" fill="#303030">10</text>
<text x="2025.2" y="3143.0" font-size="43" text-anchor="middle" fill="#303030">15</text>
<text x="1587.5" y="3218.0" font-size="47" fill="#303030">k<tspan dy="22" font-size="38">x</tspan><tspan dy="-22"> (</tspan><tspan font-style="italic">μ</tspan>m<tspan dy="-24" font-size="36">-1</tspan><tspan dy="24">)</tspan></text>
</svg>
</body></html>
